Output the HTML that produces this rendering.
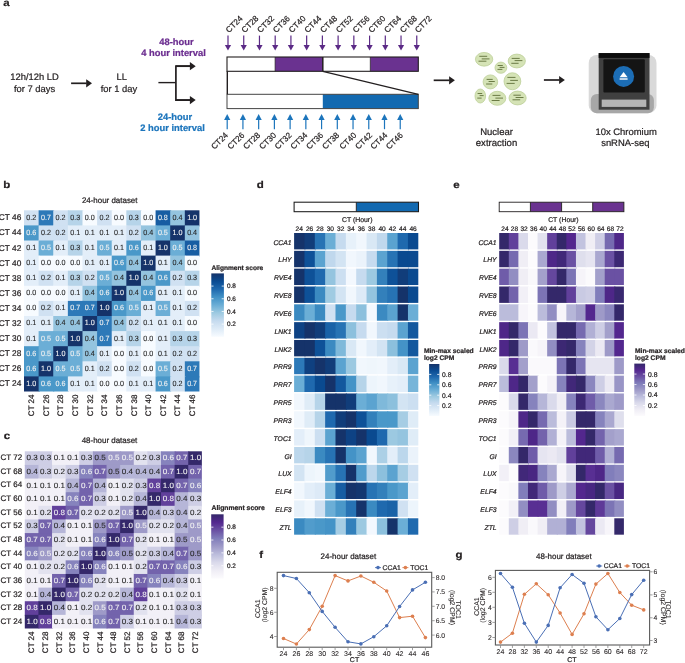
<!DOCTYPE html><html><head><meta charset="utf-8"><style>html,body{margin:0;padding:0;background:#fff;}svg{display:block;will-change:transform;}text{font-family:"Liberation Sans",sans-serif;text-rendering:geometricPrecision;}</style></head><body>
<svg width="685" height="663" viewBox="0 0 685 663">
<rect width="685" height="663" fill="#fff"/>
<defs><marker id="ah" viewBox="0 0 10 10" refX="10" refY="5" markerWidth="10" markerHeight="10" markerUnits="userSpaceOnUse" orient="auto"><path d="M0,0 L10,5 L0,10 z" fill="#231f20"/></marker></defs>
<text x="3.20" y="5.60" font-size="10" text-anchor="start" font-weight="bold" font-style="normal" fill="#231f20" stroke="#231f20" stroke-width="0.22" textLength="6.39" lengthAdjust="spacingAndGlyphs">a</text>
<text x="34.50" y="80.40" font-size="9.4" text-anchor="middle" font-weight="normal" font-style="normal" fill="#231f20" stroke="#231f20" stroke-width="0.22" >12h/12h LD</text>
<text x="34.50" y="91.60" font-size="9.4" text-anchor="middle" font-weight="normal" font-style="normal" fill="#231f20" stroke="#231f20" stroke-width="0.22" >for 7 days</text>
<text x="121.80" y="80.40" font-size="9.4" text-anchor="middle" font-weight="normal" font-style="normal" fill="#231f20" stroke="#231f20" stroke-width="0.22" >LL</text>
<text x="119.00" y="91.60" font-size="9.4" text-anchor="middle" font-weight="normal" font-style="normal" fill="#231f20" stroke="#231f20" stroke-width="0.22" >for 1 day</text>
<line x1="71.1" y1="83.3" x2="86.7" y2="83.3" stroke="#231f20" stroke-width="1.7"/>
<path d="M86.2,79.2 L92,83.3 L86.2,87.39999999999999 z" fill="#231f20"/>
<path d="M158.4,82.6 H175.9" stroke="#231f20" stroke-width="1.4" fill="none"/>
<path d="M191,66.2 H175.9 V100.1 H191" stroke="#231f20" stroke-width="1.7" fill="none" stroke-linejoin="miter"/>
<line x1="176" y1="66.2" x2="190.39999999999998" y2="66.2" stroke="#231f20" stroke-width="1.7"/>
<path d="M189.89999999999998,62.1 L195.7,66.2 L189.89999999999998,70.3 z" fill="#231f20"/>
<line x1="176" y1="100.1" x2="190.39999999999998" y2="100.1" stroke="#231f20" stroke-width="1.7"/>
<path d="M189.89999999999998,96.0 L195.7,100.1 L189.89999999999998,104.19999999999999 z" fill="#231f20"/>
<text x="176.40" y="44.80" font-size="9.4" text-anchor="middle" font-weight="bold" font-style="normal" fill="#6a2c8f" stroke="#6a2c8f" stroke-width="0.22" >48-hour</text>
<text x="173.50" y="56.20" font-size="9.4" text-anchor="middle" font-weight="bold" font-style="normal" fill="#6a2c8f" stroke="#6a2c8f" stroke-width="0.22" >4 hour interval</text>
<text x="175.00" y="119.60" font-size="9.4" text-anchor="middle" font-weight="bold" font-style="normal" fill="#1c75bc" stroke="#1c75bc" stroke-width="0.22" >24-hour</text>
<text x="172.50" y="130.90" font-size="9.4" text-anchor="middle" font-weight="bold" font-style="normal" fill="#1c75bc" stroke="#1c75bc" stroke-width="0.22" >2 hour interval</text>
<rect x="227.0" y="57" width="191.3" height="14.3" fill="#fff"/>
<rect x="275.1" y="57" width="47.69999999999999" height="14.3" fill="#6a3290"/>
<rect x="370.3" y="57" width="48.0" height="14.3" fill="#6a3290"/>
<rect x="227.0" y="57" width="191.3" height="14.3" fill="none" stroke="#231f20" stroke-width="1.1"/>
<line x1="322.8" y1="57" x2="322.8" y2="71.3" stroke="#231f20" stroke-width="1.5"/>
<line x1="275.1" y1="57" x2="275.1" y2="71.3" stroke="#231f20" stroke-width="0.7"/>
<line x1="370.3" y1="57" x2="370.3" y2="71.3" stroke="#231f20" stroke-width="0.7"/>
<rect x="322.8" y="94.3" width="95.5" height="14.3" fill="#1269b0"/>
<rect x="227.0" y="94.3" width="191.3" height="14.3" fill="none" stroke="#444" stroke-width="1"/>
<line x1="227.3" y1="71.3" x2="227.3" y2="94.3" stroke="#231f20" stroke-width="1.4"/>
<line x1="322.8" y1="71.3" x2="418.3" y2="94.3" stroke="#231f20" stroke-width="1.3"/>
<line x1="228.00" y1="35.6" x2="228.00" y2="46" stroke="#5b2a86" stroke-width="1.2"/>
<path d="M224.90,45 L231.10,45 L228.00,50.5 z" fill="#5b2a86"/>
<text x="229.10" y="33.20" font-size="8.2" text-anchor="start" font-weight="normal" font-style="normal" fill="#231f20" stroke="#231f20" stroke-width="0.22" transform="rotate(-45 229.10 33.2)">CT24</text>
<line x1="243.73" y1="35.6" x2="243.73" y2="46" stroke="#5b2a86" stroke-width="1.2"/>
<path d="M240.63,45 L246.83,45 L243.73,50.5 z" fill="#5b2a86"/>
<text x="244.83" y="33.20" font-size="8.2" text-anchor="start" font-weight="normal" font-style="normal" fill="#231f20" stroke="#231f20" stroke-width="0.22" transform="rotate(-45 244.83 33.2)">CT28</text>
<line x1="259.46" y1="35.6" x2="259.46" y2="46" stroke="#5b2a86" stroke-width="1.2"/>
<path d="M256.36,45 L262.56,45 L259.46,50.5 z" fill="#5b2a86"/>
<text x="260.56" y="33.20" font-size="8.2" text-anchor="start" font-weight="normal" font-style="normal" fill="#231f20" stroke="#231f20" stroke-width="0.22" transform="rotate(-45 260.56 33.2)">CT32</text>
<line x1="275.19" y1="35.6" x2="275.19" y2="46" stroke="#5b2a86" stroke-width="1.2"/>
<path d="M272.09,45 L278.29,45 L275.19,50.5 z" fill="#5b2a86"/>
<text x="276.29" y="33.20" font-size="8.2" text-anchor="start" font-weight="normal" font-style="normal" fill="#231f20" stroke="#231f20" stroke-width="0.22" transform="rotate(-45 276.29 33.2)">CT36</text>
<line x1="290.92" y1="35.6" x2="290.92" y2="46" stroke="#5b2a86" stroke-width="1.2"/>
<path d="M287.82,45 L294.02,45 L290.92,50.5 z" fill="#5b2a86"/>
<text x="292.02" y="33.20" font-size="8.2" text-anchor="start" font-weight="normal" font-style="normal" fill="#231f20" stroke="#231f20" stroke-width="0.22" transform="rotate(-45 292.02 33.2)">CT40</text>
<line x1="306.65" y1="35.6" x2="306.65" y2="46" stroke="#5b2a86" stroke-width="1.2"/>
<path d="M303.55,45 L309.75,45 L306.65,50.5 z" fill="#5b2a86"/>
<text x="307.75" y="33.20" font-size="8.2" text-anchor="start" font-weight="normal" font-style="normal" fill="#231f20" stroke="#231f20" stroke-width="0.22" transform="rotate(-45 307.75 33.2)">CT44</text>
<line x1="322.38" y1="35.6" x2="322.38" y2="46" stroke="#5b2a86" stroke-width="1.2"/>
<path d="M319.28,45 L325.48,45 L322.38,50.5 z" fill="#5b2a86"/>
<text x="323.48" y="33.20" font-size="8.2" text-anchor="start" font-weight="normal" font-style="normal" fill="#231f20" stroke="#231f20" stroke-width="0.22" transform="rotate(-45 323.48 33.2)">CT48</text>
<line x1="338.11" y1="35.6" x2="338.11" y2="46" stroke="#5b2a86" stroke-width="1.2"/>
<path d="M335.01,45 L341.21,45 L338.11,50.5 z" fill="#5b2a86"/>
<text x="339.21" y="33.20" font-size="8.2" text-anchor="start" font-weight="normal" font-style="normal" fill="#231f20" stroke="#231f20" stroke-width="0.22" transform="rotate(-45 339.21 33.2)">CT52</text>
<line x1="353.84" y1="35.6" x2="353.84" y2="46" stroke="#5b2a86" stroke-width="1.2"/>
<path d="M350.74,45 L356.94,45 L353.84,50.5 z" fill="#5b2a86"/>
<text x="356.04" y="33.20" font-size="8.2" text-anchor="start" font-weight="normal" font-style="normal" fill="#231f20" stroke="#231f20" stroke-width="0.22" transform="rotate(-45 356.04 33.2)">CT56</text>
<line x1="369.57" y1="35.6" x2="369.57" y2="46" stroke="#5b2a86" stroke-width="1.2"/>
<path d="M366.47,45 L372.67,45 L369.57,50.5 z" fill="#5b2a86"/>
<text x="371.77" y="33.20" font-size="8.2" text-anchor="start" font-weight="normal" font-style="normal" fill="#231f20" stroke="#231f20" stroke-width="0.22" transform="rotate(-45 371.77 33.2)">CT60</text>
<line x1="385.30" y1="35.6" x2="385.30" y2="46" stroke="#5b2a86" stroke-width="1.2"/>
<path d="M382.20,45 L388.40,45 L385.30,50.5 z" fill="#5b2a86"/>
<text x="387.50" y="33.20" font-size="8.2" text-anchor="start" font-weight="normal" font-style="normal" fill="#231f20" stroke="#231f20" stroke-width="0.22" transform="rotate(-45 387.50 33.2)">CT64</text>
<line x1="401.03" y1="35.6" x2="401.03" y2="46" stroke="#5b2a86" stroke-width="1.2"/>
<path d="M397.93,45 L404.13,45 L401.03,50.5 z" fill="#5b2a86"/>
<text x="403.23" y="33.20" font-size="8.2" text-anchor="start" font-weight="normal" font-style="normal" fill="#231f20" stroke="#231f20" stroke-width="0.22" transform="rotate(-45 403.23 33.2)">CT68</text>
<line x1="416.76" y1="35.6" x2="416.76" y2="46" stroke="#5b2a86" stroke-width="1.2"/>
<path d="M413.66,45 L419.86,45 L416.76,50.5 z" fill="#5b2a86"/>
<text x="418.16" y="33.20" font-size="8.2" text-anchor="start" font-weight="normal" font-style="normal" fill="#231f20" stroke="#231f20" stroke-width="0.22" transform="rotate(-45 418.16 33.2)">CT72</text>
<line x1="227.20" y1="119" x2="227.20" y2="129.2" stroke="#1c75bc" stroke-width="1.2"/>
<path d="M224.10,120 L230.30,120 L227.20,114.1 z" fill="#1c75bc"/>
<text x="228.60" y="135.70" font-size="8.2" text-anchor="end" font-weight="normal" font-style="normal" fill="#231f20" stroke="#231f20" stroke-width="0.22" transform="rotate(-45 228.60 135.7)">CT24</text>
<line x1="242.93" y1="119" x2="242.93" y2="129.2" stroke="#1c75bc" stroke-width="1.2"/>
<path d="M239.83,120 L246.03,120 L242.93,114.1 z" fill="#1c75bc"/>
<text x="245.03" y="135.70" font-size="8.2" text-anchor="end" font-weight="normal" font-style="normal" fill="#231f20" stroke="#231f20" stroke-width="0.22" transform="rotate(-45 245.03 135.7)">CT26</text>
<line x1="258.66" y1="119" x2="258.66" y2="129.2" stroke="#1c75bc" stroke-width="1.2"/>
<path d="M255.56,120 L261.76,120 L258.66,114.1 z" fill="#1c75bc"/>
<text x="260.76" y="135.70" font-size="8.2" text-anchor="end" font-weight="normal" font-style="normal" fill="#231f20" stroke="#231f20" stroke-width="0.22" transform="rotate(-45 260.76 135.7)">CT28</text>
<line x1="274.39" y1="119" x2="274.39" y2="129.2" stroke="#1c75bc" stroke-width="1.2"/>
<path d="M271.29,120 L277.49,120 L274.39,114.1 z" fill="#1c75bc"/>
<text x="276.79" y="135.70" font-size="8.2" text-anchor="end" font-weight="normal" font-style="normal" fill="#231f20" stroke="#231f20" stroke-width="0.22" transform="rotate(-45 276.79 135.7)">CT30</text>
<line x1="290.12" y1="119" x2="290.12" y2="129.2" stroke="#1c75bc" stroke-width="1.2"/>
<path d="M287.02,120 L293.22,120 L290.12,114.1 z" fill="#1c75bc"/>
<text x="292.12" y="135.70" font-size="8.2" text-anchor="end" font-weight="normal" font-style="normal" fill="#231f20" stroke="#231f20" stroke-width="0.22" transform="rotate(-45 292.12 135.7)">CT32</text>
<line x1="305.85" y1="119" x2="305.85" y2="129.2" stroke="#1c75bc" stroke-width="1.2"/>
<path d="M302.75,120 L308.95,120 L305.85,114.1 z" fill="#1c75bc"/>
<text x="307.95" y="135.70" font-size="8.2" text-anchor="end" font-weight="normal" font-style="normal" fill="#231f20" stroke="#231f20" stroke-width="0.22" transform="rotate(-45 307.95 135.7)">CT34</text>
<line x1="321.58" y1="119" x2="321.58" y2="129.2" stroke="#1c75bc" stroke-width="1.2"/>
<path d="M318.48,120 L324.68,120 L321.58,114.1 z" fill="#1c75bc"/>
<text x="323.78" y="135.70" font-size="8.2" text-anchor="end" font-weight="normal" font-style="normal" fill="#231f20" stroke="#231f20" stroke-width="0.22" transform="rotate(-45 323.78 135.7)">CT36</text>
<line x1="337.31" y1="119" x2="337.31" y2="129.2" stroke="#1c75bc" stroke-width="1.2"/>
<path d="M334.21,120 L340.41,120 L337.31,114.1 z" fill="#1c75bc"/>
<text x="339.71" y="135.70" font-size="8.2" text-anchor="end" font-weight="normal" font-style="normal" fill="#231f20" stroke="#231f20" stroke-width="0.22" transform="rotate(-45 339.71 135.7)">CT38</text>
<line x1="353.04" y1="119" x2="353.04" y2="129.2" stroke="#1c75bc" stroke-width="1.2"/>
<path d="M349.94,120 L356.14,120 L353.04,114.1 z" fill="#1c75bc"/>
<text x="357.04" y="135.70" font-size="8.2" text-anchor="end" font-weight="normal" font-style="normal" fill="#231f20" stroke="#231f20" stroke-width="0.22" transform="rotate(-45 357.04 135.7)">CT40</text>
<line x1="368.77" y1="119" x2="368.77" y2="129.2" stroke="#1c75bc" stroke-width="1.2"/>
<path d="M365.67,120 L371.87,120 L368.77,114.1 z" fill="#1c75bc"/>
<text x="372.67" y="135.70" font-size="8.2" text-anchor="end" font-weight="normal" font-style="normal" fill="#231f20" stroke="#231f20" stroke-width="0.22" transform="rotate(-45 372.67 135.7)">CT42</text>
<line x1="384.50" y1="119" x2="384.50" y2="129.2" stroke="#1c75bc" stroke-width="1.2"/>
<path d="M381.40,120 L387.60,120 L384.50,114.1 z" fill="#1c75bc"/>
<text x="387.90" y="135.70" font-size="8.2" text-anchor="end" font-weight="normal" font-style="normal" fill="#231f20" stroke="#231f20" stroke-width="0.22" transform="rotate(-45 387.90 135.7)">CT44</text>
<line x1="400.23" y1="119" x2="400.23" y2="129.2" stroke="#1c75bc" stroke-width="1.2"/>
<path d="M397.13,120 L403.33,120 L400.23,114.1 z" fill="#1c75bc"/>
<text x="403.43" y="135.70" font-size="8.2" text-anchor="end" font-weight="normal" font-style="normal" fill="#231f20" stroke="#231f20" stroke-width="0.22" transform="rotate(-45 403.43 135.7)">CT46</text>
<line x1="433.7" y1="80.3" x2="449.59999999999997" y2="80.3" stroke="#231f20" stroke-width="1.7"/>
<path d="M449.09999999999997,76.2 L454.9,80.3 L449.09999999999997,84.39999999999999 z" fill="#231f20"/>
<ellipse cx="484.1" cy="59.3" rx="8.66" ry="6.84" fill="#d5e3b6" stroke="#bccf98" stroke-width="0.8"/>
<ellipse cx="500.9" cy="67.7" rx="5.9" ry="5.6" fill="#d5e3b6" stroke="#bccf98" stroke-width="0.8"/>
<ellipse cx="516.8" cy="61" rx="8.6" ry="6.9" fill="#d5e3b6" stroke="#bccf98" stroke-width="0.8"/>
<ellipse cx="490.4" cy="81.9" rx="7.3" ry="7.0" fill="#d5e3b6" stroke="#bccf98" stroke-width="0.8"/>
<ellipse cx="512.4" cy="81.25" rx="8.4" ry="8.5" fill="#d5e3b6" stroke="#bccf98" stroke-width="0.8"/>
<ellipse cx="480.3" cy="96" rx="5.3" ry="7.0" fill="#d5e3b6" stroke="#bccf98" stroke-width="0.8"/>
<ellipse cx="497.3" cy="98.3" rx="8.5" ry="7.0" fill="#d5e3b6" stroke="#bccf98" stroke-width="0.8"/>
<ellipse cx="517.6" cy="98" rx="8.6" ry="6.9" fill="#d5e3b6" stroke="#bccf98" stroke-width="0.8"/>
<line x1="479.29999999999995" y1="56.3" x2="487.20000000000005" y2="56.3" stroke="#65753f" stroke-width="0.95"/>
<line x1="481.7" y1="58.9" x2="489.5" y2="58.9" stroke="#65753f" stroke-width="0.95"/>
<line x1="478.5" y1="61.2" x2="486.40000000000003" y2="61.2" stroke="#65753f" stroke-width="0.95"/>
<line x1="497.7" y1="65.5" x2="502.8" y2="65.5" stroke="#65753f" stroke-width="0.95"/>
<line x1="499.59999999999997" y1="67.4" x2="504.5" y2="67.4" stroke="#65753f" stroke-width="0.95"/>
<line x1="497.5" y1="69.4" x2="502.40000000000003" y2="69.4" stroke="#65753f" stroke-width="0.95"/>
<line x1="511.7" y1="58.4" x2="519.7" y2="58.4" stroke="#65753f" stroke-width="0.95"/>
<line x1="514.6" y1="60.6" x2="522.4" y2="60.6" stroke="#65753f" stroke-width="0.95"/>
<line x1="511.29999999999995" y1="63.3" x2="518.6" y2="63.3" stroke="#65753f" stroke-width="0.95"/>
<line x1="486.59999999999997" y1="79.4" x2="492.70000000000005" y2="79.4" stroke="#65753f" stroke-width="0.95"/>
<line x1="488.59999999999997" y1="81.5" x2="494.8" y2="81.5" stroke="#65753f" stroke-width="0.95"/>
<line x1="486.09999999999997" y1="84.0" x2="492.3" y2="84.0" stroke="#65753f" stroke-width="0.95"/>
<line x1="507.4" y1="77.4" x2="515.5" y2="77.4" stroke="#65753f" stroke-width="0.95"/>
<line x1="510.2" y1="80.4" x2="517.9" y2="80.4" stroke="#65753f" stroke-width="0.95"/>
<line x1="506.59999999999997" y1="83.4" x2="514.7" y2="83.4" stroke="#65753f" stroke-width="0.95"/>
<line x1="477.59999999999997" y1="93.5" x2="482.20000000000005" y2="93.5" stroke="#65753f" stroke-width="0.95"/>
<line x1="479.59999999999997" y1="95.6" x2="483.6" y2="95.6" stroke="#65753f" stroke-width="0.95"/>
<line x1="477.29999999999995" y1="98.1" x2="481.6" y2="98.1" stroke="#65753f" stroke-width="0.95"/>
<line x1="492.5" y1="95.4" x2="500.5" y2="95.4" stroke="#65753f" stroke-width="0.95"/>
<line x1="495.4" y1="98.1" x2="503.0" y2="98.1" stroke="#65753f" stroke-width="0.95"/>
<line x1="491.7" y1="100.5" x2="499.6" y2="100.5" stroke="#65753f" stroke-width="0.95"/>
<line x1="513.4" y1="95.2" x2="520.8000000000001" y2="95.2" stroke="#65753f" stroke-width="0.95"/>
<line x1="515.6" y1="97.5" x2="523.5" y2="97.5" stroke="#65753f" stroke-width="0.95"/>
<line x1="512.5" y1="99.8" x2="520.2" y2="99.8" stroke="#65753f" stroke-width="0.95"/>
<text x="496.50" y="134.50" font-size="9.5" text-anchor="middle" font-weight="normal" font-style="normal" fill="#231f20" stroke="#231f20" stroke-width="0.22" >Nuclear</text>
<text x="496.50" y="145.60" font-size="9.55" text-anchor="middle" font-weight="normal" font-style="normal" fill="#231f20" stroke="#231f20" stroke-width="0.22" >extraction</text>
<line x1="543.9" y1="80.0" x2="559.6" y2="80.0" stroke="#231f20" stroke-width="1.7"/>
<path d="M559.1,75.9 L564.9,80.0 L559.1,84.1 z" fill="#231f20"/>
<rect x="588.7" y="54.9" width="67.8" height="58.3" rx="8" fill="#d9d9d9"/>
<rect x="590.8" y="94" width="63.1" height="19.2" rx="6" fill="#a7a7a7"/>
<rect x="598.7" y="53.1" width="50.8" height="56.6" fill="#404040"/>
<rect x="598.7" y="53.1" width="50.8" height="4.8" fill="#0d0d0d"/>
<rect x="603.4" y="59.3" width="41.4" height="33.3" rx="1" fill="#141414"/>
<circle cx="623.6" cy="76.4" r="10.5" fill="#1c6db5"/>
<path d="M619.6,77.3 L623.6,72.0 L627.6,77.3 z" fill="#fff"/><rect x="619.6" y="78.3" width="8" height="1.4" fill="#fff"/>
<rect x="601.7" y="99.6" width="44.6" height="7.3" fill="#b5b5b5"/>
<text x="626.10" y="134.70" font-size="9.45" text-anchor="middle" font-weight="normal" font-style="normal" fill="#231f20" stroke="#231f20" stroke-width="0.22" >10x Chromium</text>
<text x="625.30" y="145.50" font-size="9.45" text-anchor="middle" font-weight="normal" font-style="normal" fill="#231f20" stroke="#231f20" stroke-width="0.22" >snRNA-seq</text>
<text x="3.30" y="188.10" font-size="10" text-anchor="start" font-weight="bold" font-style="normal" fill="#231f20" stroke="#231f20" stroke-width="0.22" textLength="7.03" lengthAdjust="spacingAndGlyphs">b</text>
<text x="109.70" y="202.80" font-size="7.95" text-anchor="middle" font-weight="normal" font-style="normal" fill="#231f20" stroke="#231f20" stroke-width="0.22" >24-hour dataset</text>
<rect x="24.00" y="210.30" width="15.62" height="16.10" fill="#d0e1f2"/>
<rect x="38.62" y="210.30" width="15.62" height="16.10" fill="#2d79b8"/>
<rect x="53.24" y="210.30" width="15.62" height="16.10" fill="#d0e1f2"/>
<rect x="67.86" y="210.30" width="15.62" height="16.10" fill="#b6d4e9"/>
<rect x="82.48" y="210.30" width="15.62" height="16.10" fill="#f7fbff"/>
<rect x="97.10" y="210.30" width="15.62" height="16.10" fill="#d0e1f2"/>
<rect x="111.72" y="210.30" width="15.62" height="16.10" fill="#f7fbff"/>
<rect x="126.34" y="210.30" width="15.62" height="16.10" fill="#b6d4e9"/>
<rect x="140.96" y="210.30" width="15.62" height="16.10" fill="#f7fbff"/>
<rect x="155.58" y="210.30" width="15.62" height="16.10" fill="#175da3"/>
<rect x="170.20" y="210.30" width="15.62" height="16.10" fill="#94c4df"/>
<rect x="184.82" y="210.30" width="14.62" height="16.10" fill="#15336a"/>
<rect x="24.00" y="225.40" width="15.62" height="16.10" fill="#4a98c9"/>
<rect x="38.62" y="225.40" width="15.62" height="16.10" fill="#d0e1f2"/>
<rect x="53.24" y="225.40" width="15.62" height="16.10" fill="#d0e1f2"/>
<rect x="67.86" y="225.40" width="15.62" height="16.10" fill="#e3eef9"/>
<rect x="82.48" y="225.40" width="15.62" height="16.10" fill="#e3eef9"/>
<rect x="97.10" y="225.40" width="15.62" height="16.10" fill="#e3eef9"/>
<rect x="111.72" y="225.40" width="15.62" height="16.10" fill="#e3eef9"/>
<rect x="126.34" y="225.40" width="15.62" height="16.10" fill="#d0e1f2"/>
<rect x="140.96" y="225.40" width="15.62" height="16.10" fill="#94c4df"/>
<rect x="155.58" y="225.40" width="15.62" height="16.10" fill="#6baed6"/>
<rect x="170.20" y="225.40" width="15.62" height="16.10" fill="#15336a"/>
<rect x="184.82" y="225.40" width="14.62" height="16.10" fill="#94c4df"/>
<rect x="24.00" y="240.50" width="15.62" height="16.10" fill="#e3eef9"/>
<rect x="38.62" y="240.50" width="15.62" height="16.10" fill="#6baed6"/>
<rect x="53.24" y="240.50" width="15.62" height="16.10" fill="#e3eef9"/>
<rect x="67.86" y="240.50" width="15.62" height="16.10" fill="#b6d4e9"/>
<rect x="82.48" y="240.50" width="15.62" height="16.10" fill="#e3eef9"/>
<rect x="97.10" y="240.50" width="15.62" height="16.10" fill="#6baed6"/>
<rect x="111.72" y="240.50" width="15.62" height="16.10" fill="#e3eef9"/>
<rect x="126.34" y="240.50" width="15.62" height="16.10" fill="#4a98c9"/>
<rect x="140.96" y="240.50" width="15.62" height="16.10" fill="#e3eef9"/>
<rect x="155.58" y="240.50" width="15.62" height="16.10" fill="#15336a"/>
<rect x="170.20" y="240.50" width="15.62" height="16.10" fill="#6baed6"/>
<rect x="184.82" y="240.50" width="14.62" height="16.10" fill="#175da3"/>
<rect x="24.00" y="255.60" width="15.62" height="16.10" fill="#e3eef9"/>
<rect x="38.62" y="255.60" width="15.62" height="16.10" fill="#f7fbff"/>
<rect x="53.24" y="255.60" width="15.62" height="16.10" fill="#f7fbff"/>
<rect x="67.86" y="255.60" width="15.62" height="16.10" fill="#f7fbff"/>
<rect x="82.48" y="255.60" width="15.62" height="16.10" fill="#e3eef9"/>
<rect x="97.10" y="255.60" width="15.62" height="16.10" fill="#e3eef9"/>
<rect x="111.72" y="255.60" width="15.62" height="16.10" fill="#4a98c9"/>
<rect x="126.34" y="255.60" width="15.62" height="16.10" fill="#94c4df"/>
<rect x="140.96" y="255.60" width="15.62" height="16.10" fill="#15336a"/>
<rect x="155.58" y="255.60" width="15.62" height="16.10" fill="#e3eef9"/>
<rect x="170.20" y="255.60" width="15.62" height="16.10" fill="#94c4df"/>
<rect x="184.82" y="255.60" width="14.62" height="16.10" fill="#f7fbff"/>
<rect x="24.00" y="270.70" width="15.62" height="16.10" fill="#e3eef9"/>
<rect x="38.62" y="270.70" width="15.62" height="16.10" fill="#d0e1f2"/>
<rect x="53.24" y="270.70" width="15.62" height="16.10" fill="#e3eef9"/>
<rect x="67.86" y="270.70" width="15.62" height="16.10" fill="#b6d4e9"/>
<rect x="82.48" y="270.70" width="15.62" height="16.10" fill="#d0e1f2"/>
<rect x="97.10" y="270.70" width="15.62" height="16.10" fill="#6baed6"/>
<rect x="111.72" y="270.70" width="15.62" height="16.10" fill="#94c4df"/>
<rect x="126.34" y="270.70" width="15.62" height="16.10" fill="#15336a"/>
<rect x="140.96" y="270.70" width="15.62" height="16.10" fill="#94c4df"/>
<rect x="155.58" y="270.70" width="15.62" height="16.10" fill="#4a98c9"/>
<rect x="170.20" y="270.70" width="15.62" height="16.10" fill="#d0e1f2"/>
<rect x="184.82" y="270.70" width="14.62" height="16.10" fill="#b6d4e9"/>
<rect x="24.00" y="285.80" width="15.62" height="16.10" fill="#f7fbff"/>
<rect x="38.62" y="285.80" width="15.62" height="16.10" fill="#f7fbff"/>
<rect x="53.24" y="285.80" width="15.62" height="16.10" fill="#f7fbff"/>
<rect x="67.86" y="285.80" width="15.62" height="16.10" fill="#e3eef9"/>
<rect x="82.48" y="285.80" width="15.62" height="16.10" fill="#94c4df"/>
<rect x="97.10" y="285.80" width="15.62" height="16.10" fill="#4a98c9"/>
<rect x="111.72" y="285.80" width="15.62" height="16.10" fill="#15336a"/>
<rect x="126.34" y="285.80" width="15.62" height="16.10" fill="#94c4df"/>
<rect x="140.96" y="285.80" width="15.62" height="16.10" fill="#4a98c9"/>
<rect x="155.58" y="285.80" width="15.62" height="16.10" fill="#e3eef9"/>
<rect x="170.20" y="285.80" width="15.62" height="16.10" fill="#e3eef9"/>
<rect x="184.82" y="285.80" width="14.62" height="16.10" fill="#f7fbff"/>
<rect x="24.00" y="300.90" width="15.62" height="16.10" fill="#f7fbff"/>
<rect x="38.62" y="300.90" width="15.62" height="16.10" fill="#d0e1f2"/>
<rect x="53.24" y="300.90" width="15.62" height="16.10" fill="#e3eef9"/>
<rect x="67.86" y="300.90" width="15.62" height="16.10" fill="#2d79b8"/>
<rect x="82.48" y="300.90" width="15.62" height="16.10" fill="#2d79b8"/>
<rect x="97.10" y="300.90" width="15.62" height="16.10" fill="#15336a"/>
<rect x="111.72" y="300.90" width="15.62" height="16.10" fill="#4a98c9"/>
<rect x="126.34" y="300.90" width="15.62" height="16.10" fill="#6baed6"/>
<rect x="140.96" y="300.90" width="15.62" height="16.10" fill="#e3eef9"/>
<rect x="155.58" y="300.90" width="15.62" height="16.10" fill="#6baed6"/>
<rect x="170.20" y="300.90" width="15.62" height="16.10" fill="#e3eef9"/>
<rect x="184.82" y="300.90" width="14.62" height="16.10" fill="#d0e1f2"/>
<rect x="24.00" y="316.00" width="15.62" height="16.10" fill="#e3eef9"/>
<rect x="38.62" y="316.00" width="15.62" height="16.10" fill="#e3eef9"/>
<rect x="53.24" y="316.00" width="15.62" height="16.10" fill="#94c4df"/>
<rect x="67.86" y="316.00" width="15.62" height="16.10" fill="#94c4df"/>
<rect x="82.48" y="316.00" width="15.62" height="16.10" fill="#15336a"/>
<rect x="97.10" y="316.00" width="15.62" height="16.10" fill="#2d79b8"/>
<rect x="111.72" y="316.00" width="15.62" height="16.10" fill="#94c4df"/>
<rect x="126.34" y="316.00" width="15.62" height="16.10" fill="#d0e1f2"/>
<rect x="140.96" y="316.00" width="15.62" height="16.10" fill="#e3eef9"/>
<rect x="155.58" y="316.00" width="15.62" height="16.10" fill="#e3eef9"/>
<rect x="170.20" y="316.00" width="15.62" height="16.10" fill="#e3eef9"/>
<rect x="184.82" y="316.00" width="14.62" height="16.10" fill="#f7fbff"/>
<rect x="24.00" y="331.10" width="15.62" height="16.10" fill="#e3eef9"/>
<rect x="38.62" y="331.10" width="15.62" height="16.10" fill="#6baed6"/>
<rect x="53.24" y="331.10" width="15.62" height="16.10" fill="#6baed6"/>
<rect x="67.86" y="331.10" width="15.62" height="16.10" fill="#15336a"/>
<rect x="82.48" y="331.10" width="15.62" height="16.10" fill="#94c4df"/>
<rect x="97.10" y="331.10" width="15.62" height="16.10" fill="#2d79b8"/>
<rect x="111.72" y="331.10" width="15.62" height="16.10" fill="#e3eef9"/>
<rect x="126.34" y="331.10" width="15.62" height="16.10" fill="#b6d4e9"/>
<rect x="140.96" y="331.10" width="15.62" height="16.10" fill="#f7fbff"/>
<rect x="155.58" y="331.10" width="15.62" height="16.10" fill="#e3eef9"/>
<rect x="170.20" y="331.10" width="15.62" height="16.10" fill="#b6d4e9"/>
<rect x="184.82" y="331.10" width="14.62" height="16.10" fill="#b6d4e9"/>
<rect x="24.00" y="346.20" width="15.62" height="16.10" fill="#4a98c9"/>
<rect x="38.62" y="346.20" width="15.62" height="16.10" fill="#6baed6"/>
<rect x="53.24" y="346.20" width="15.62" height="16.10" fill="#15336a"/>
<rect x="67.86" y="346.20" width="15.62" height="16.10" fill="#6baed6"/>
<rect x="82.48" y="346.20" width="15.62" height="16.10" fill="#94c4df"/>
<rect x="97.10" y="346.20" width="15.62" height="16.10" fill="#e3eef9"/>
<rect x="111.72" y="346.20" width="15.62" height="16.10" fill="#f7fbff"/>
<rect x="126.34" y="346.20" width="15.62" height="16.10" fill="#e3eef9"/>
<rect x="140.96" y="346.20" width="15.62" height="16.10" fill="#f7fbff"/>
<rect x="155.58" y="346.20" width="15.62" height="16.10" fill="#e3eef9"/>
<rect x="170.20" y="346.20" width="15.62" height="16.10" fill="#d0e1f2"/>
<rect x="184.82" y="346.20" width="14.62" height="16.10" fill="#d0e1f2"/>
<rect x="24.00" y="361.30" width="15.62" height="16.10" fill="#4a98c9"/>
<rect x="38.62" y="361.30" width="15.62" height="16.10" fill="#15336a"/>
<rect x="53.24" y="361.30" width="15.62" height="16.10" fill="#6baed6"/>
<rect x="67.86" y="361.30" width="15.62" height="16.10" fill="#6baed6"/>
<rect x="82.48" y="361.30" width="15.62" height="16.10" fill="#e3eef9"/>
<rect x="97.10" y="361.30" width="15.62" height="16.10" fill="#d0e1f2"/>
<rect x="111.72" y="361.30" width="15.62" height="16.10" fill="#f7fbff"/>
<rect x="126.34" y="361.30" width="15.62" height="16.10" fill="#d0e1f2"/>
<rect x="140.96" y="361.30" width="15.62" height="16.10" fill="#f7fbff"/>
<rect x="155.58" y="361.30" width="15.62" height="16.10" fill="#6baed6"/>
<rect x="170.20" y="361.30" width="15.62" height="16.10" fill="#d0e1f2"/>
<rect x="184.82" y="361.30" width="14.62" height="16.10" fill="#2d79b8"/>
<rect x="24.00" y="376.40" width="15.62" height="15.10" fill="#15336a"/>
<rect x="38.62" y="376.40" width="15.62" height="15.10" fill="#4a98c9"/>
<rect x="53.24" y="376.40" width="15.62" height="15.10" fill="#4a98c9"/>
<rect x="67.86" y="376.40" width="15.62" height="15.10" fill="#e3eef9"/>
<rect x="82.48" y="376.40" width="15.62" height="15.10" fill="#e3eef9"/>
<rect x="97.10" y="376.40" width="15.62" height="15.10" fill="#f7fbff"/>
<rect x="111.72" y="376.40" width="15.62" height="15.10" fill="#f7fbff"/>
<rect x="126.34" y="376.40" width="15.62" height="15.10" fill="#e3eef9"/>
<rect x="140.96" y="376.40" width="15.62" height="15.10" fill="#e3eef9"/>
<rect x="155.58" y="376.40" width="15.62" height="15.10" fill="#4a98c9"/>
<rect x="170.20" y="376.40" width="15.62" height="15.10" fill="#d0e1f2"/>
<rect x="184.82" y="376.40" width="14.62" height="15.10" fill="#2d79b8"/>
<text x="31.31" y="219.75" font-size="7.6" text-anchor="middle" font-weight="normal" font-style="normal" fill="#262626" stroke="#262626" stroke-width="0.1" textLength="10.0" lengthAdjust="spacingAndGlyphs">0.2</text>
<text x="45.93" y="219.75" font-size="7.6" text-anchor="middle" font-weight="normal" font-style="normal" fill="#f2f2f2" stroke="#f2f2f2" stroke-width="0.1" textLength="10.0" lengthAdjust="spacingAndGlyphs">0.7</text>
<text x="60.55" y="219.75" font-size="7.6" text-anchor="middle" font-weight="normal" font-style="normal" fill="#262626" stroke="#262626" stroke-width="0.1" textLength="10.0" lengthAdjust="spacingAndGlyphs">0.2</text>
<text x="75.17" y="219.75" font-size="7.6" text-anchor="middle" font-weight="normal" font-style="normal" fill="#262626" stroke="#262626" stroke-width="0.1" textLength="10.0" lengthAdjust="spacingAndGlyphs">0.3</text>
<text x="89.79" y="219.75" font-size="7.6" text-anchor="middle" font-weight="normal" font-style="normal" fill="#262626" stroke="#262626" stroke-width="0.1" textLength="10.0" lengthAdjust="spacingAndGlyphs">0.0</text>
<text x="104.41" y="219.75" font-size="7.6" text-anchor="middle" font-weight="normal" font-style="normal" fill="#262626" stroke="#262626" stroke-width="0.1" textLength="10.0" lengthAdjust="spacingAndGlyphs">0.2</text>
<text x="119.03" y="219.75" font-size="7.6" text-anchor="middle" font-weight="normal" font-style="normal" fill="#262626" stroke="#262626" stroke-width="0.1" textLength="10.0" lengthAdjust="spacingAndGlyphs">0.0</text>
<text x="133.65" y="219.75" font-size="7.6" text-anchor="middle" font-weight="normal" font-style="normal" fill="#262626" stroke="#262626" stroke-width="0.1" textLength="10.0" lengthAdjust="spacingAndGlyphs">0.3</text>
<text x="148.27" y="219.75" font-size="7.6" text-anchor="middle" font-weight="normal" font-style="normal" fill="#262626" stroke="#262626" stroke-width="0.1" textLength="10.0" lengthAdjust="spacingAndGlyphs">0.0</text>
<text x="162.89" y="219.75" font-size="7.6" text-anchor="middle" font-weight="normal" font-style="normal" fill="#f2f2f2" stroke="#f2f2f2" stroke-width="0.1" textLength="10.0" lengthAdjust="spacingAndGlyphs">0.8</text>
<text x="177.51" y="219.75" font-size="7.6" text-anchor="middle" font-weight="normal" font-style="normal" fill="#262626" stroke="#262626" stroke-width="0.1" textLength="10.0" lengthAdjust="spacingAndGlyphs">0.4</text>
<text x="192.13" y="219.75" font-size="7.6" text-anchor="middle" font-weight="normal" font-style="normal" fill="#f2f2f2" stroke="#f2f2f2" stroke-width="0.1" textLength="10.0" lengthAdjust="spacingAndGlyphs">1.0</text>
<text x="31.31" y="234.85" font-size="7.6" text-anchor="middle" font-weight="normal" font-style="normal" fill="#f2f2f2" stroke="#f2f2f2" stroke-width="0.1" textLength="10.0" lengthAdjust="spacingAndGlyphs">0.6</text>
<text x="45.93" y="234.85" font-size="7.6" text-anchor="middle" font-weight="normal" font-style="normal" fill="#262626" stroke="#262626" stroke-width="0.1" textLength="10.0" lengthAdjust="spacingAndGlyphs">0.2</text>
<text x="60.55" y="234.85" font-size="7.6" text-anchor="middle" font-weight="normal" font-style="normal" fill="#262626" stroke="#262626" stroke-width="0.1" textLength="10.0" lengthAdjust="spacingAndGlyphs">0.2</text>
<text x="75.17" y="234.85" font-size="7.6" text-anchor="middle" font-weight="normal" font-style="normal" fill="#262626" stroke="#262626" stroke-width="0.1" textLength="10.0" lengthAdjust="spacingAndGlyphs">0.1</text>
<text x="89.79" y="234.85" font-size="7.6" text-anchor="middle" font-weight="normal" font-style="normal" fill="#262626" stroke="#262626" stroke-width="0.1" textLength="10.0" lengthAdjust="spacingAndGlyphs">0.1</text>
<text x="104.41" y="234.85" font-size="7.6" text-anchor="middle" font-weight="normal" font-style="normal" fill="#262626" stroke="#262626" stroke-width="0.1" textLength="10.0" lengthAdjust="spacingAndGlyphs">0.1</text>
<text x="119.03" y="234.85" font-size="7.6" text-anchor="middle" font-weight="normal" font-style="normal" fill="#262626" stroke="#262626" stroke-width="0.1" textLength="10.0" lengthAdjust="spacingAndGlyphs">0.1</text>
<text x="133.65" y="234.85" font-size="7.6" text-anchor="middle" font-weight="normal" font-style="normal" fill="#262626" stroke="#262626" stroke-width="0.1" textLength="10.0" lengthAdjust="spacingAndGlyphs">0.2</text>
<text x="148.27" y="234.85" font-size="7.6" text-anchor="middle" font-weight="normal" font-style="normal" fill="#262626" stroke="#262626" stroke-width="0.1" textLength="10.0" lengthAdjust="spacingAndGlyphs">0.4</text>
<text x="162.89" y="234.85" font-size="7.6" text-anchor="middle" font-weight="normal" font-style="normal" fill="#f2f2f2" stroke="#f2f2f2" stroke-width="0.1" textLength="10.0" lengthAdjust="spacingAndGlyphs">0.5</text>
<text x="177.51" y="234.85" font-size="7.6" text-anchor="middle" font-weight="normal" font-style="normal" fill="#f2f2f2" stroke="#f2f2f2" stroke-width="0.1" textLength="10.0" lengthAdjust="spacingAndGlyphs">1.0</text>
<text x="192.13" y="234.85" font-size="7.6" text-anchor="middle" font-weight="normal" font-style="normal" fill="#262626" stroke="#262626" stroke-width="0.1" textLength="10.0" lengthAdjust="spacingAndGlyphs">0.4</text>
<text x="31.31" y="249.95" font-size="7.6" text-anchor="middle" font-weight="normal" font-style="normal" fill="#262626" stroke="#262626" stroke-width="0.1" textLength="10.0" lengthAdjust="spacingAndGlyphs">0.1</text>
<text x="45.93" y="249.95" font-size="7.6" text-anchor="middle" font-weight="normal" font-style="normal" fill="#f2f2f2" stroke="#f2f2f2" stroke-width="0.1" textLength="10.0" lengthAdjust="spacingAndGlyphs">0.5</text>
<text x="60.55" y="249.95" font-size="7.6" text-anchor="middle" font-weight="normal" font-style="normal" fill="#262626" stroke="#262626" stroke-width="0.1" textLength="10.0" lengthAdjust="spacingAndGlyphs">0.1</text>
<text x="75.17" y="249.95" font-size="7.6" text-anchor="middle" font-weight="normal" font-style="normal" fill="#262626" stroke="#262626" stroke-width="0.1" textLength="10.0" lengthAdjust="spacingAndGlyphs">0.3</text>
<text x="89.79" y="249.95" font-size="7.6" text-anchor="middle" font-weight="normal" font-style="normal" fill="#262626" stroke="#262626" stroke-width="0.1" textLength="10.0" lengthAdjust="spacingAndGlyphs">0.1</text>
<text x="104.41" y="249.95" font-size="7.6" text-anchor="middle" font-weight="normal" font-style="normal" fill="#f2f2f2" stroke="#f2f2f2" stroke-width="0.1" textLength="10.0" lengthAdjust="spacingAndGlyphs">0.5</text>
<text x="119.03" y="249.95" font-size="7.6" text-anchor="middle" font-weight="normal" font-style="normal" fill="#262626" stroke="#262626" stroke-width="0.1" textLength="10.0" lengthAdjust="spacingAndGlyphs">0.1</text>
<text x="133.65" y="249.95" font-size="7.6" text-anchor="middle" font-weight="normal" font-style="normal" fill="#f2f2f2" stroke="#f2f2f2" stroke-width="0.1" textLength="10.0" lengthAdjust="spacingAndGlyphs">0.6</text>
<text x="148.27" y="249.95" font-size="7.6" text-anchor="middle" font-weight="normal" font-style="normal" fill="#262626" stroke="#262626" stroke-width="0.1" textLength="10.0" lengthAdjust="spacingAndGlyphs">0.1</text>
<text x="162.89" y="249.95" font-size="7.6" text-anchor="middle" font-weight="normal" font-style="normal" fill="#f2f2f2" stroke="#f2f2f2" stroke-width="0.1" textLength="10.0" lengthAdjust="spacingAndGlyphs">1.0</text>
<text x="177.51" y="249.95" font-size="7.6" text-anchor="middle" font-weight="normal" font-style="normal" fill="#f2f2f2" stroke="#f2f2f2" stroke-width="0.1" textLength="10.0" lengthAdjust="spacingAndGlyphs">0.5</text>
<text x="192.13" y="249.95" font-size="7.6" text-anchor="middle" font-weight="normal" font-style="normal" fill="#f2f2f2" stroke="#f2f2f2" stroke-width="0.1" textLength="10.0" lengthAdjust="spacingAndGlyphs">0.8</text>
<text x="31.31" y="265.05" font-size="7.6" text-anchor="middle" font-weight="normal" font-style="normal" fill="#262626" stroke="#262626" stroke-width="0.1" textLength="10.0" lengthAdjust="spacingAndGlyphs">0.1</text>
<text x="45.93" y="265.05" font-size="7.6" text-anchor="middle" font-weight="normal" font-style="normal" fill="#262626" stroke="#262626" stroke-width="0.1" textLength="10.0" lengthAdjust="spacingAndGlyphs">0.0</text>
<text x="60.55" y="265.05" font-size="7.6" text-anchor="middle" font-weight="normal" font-style="normal" fill="#262626" stroke="#262626" stroke-width="0.1" textLength="10.0" lengthAdjust="spacingAndGlyphs">0.0</text>
<text x="75.17" y="265.05" font-size="7.6" text-anchor="middle" font-weight="normal" font-style="normal" fill="#262626" stroke="#262626" stroke-width="0.1" textLength="10.0" lengthAdjust="spacingAndGlyphs">0.0</text>
<text x="89.79" y="265.05" font-size="7.6" text-anchor="middle" font-weight="normal" font-style="normal" fill="#262626" stroke="#262626" stroke-width="0.1" textLength="10.0" lengthAdjust="spacingAndGlyphs">0.1</text>
<text x="104.41" y="265.05" font-size="7.6" text-anchor="middle" font-weight="normal" font-style="normal" fill="#262626" stroke="#262626" stroke-width="0.1" textLength="10.0" lengthAdjust="spacingAndGlyphs">0.1</text>
<text x="119.03" y="265.05" font-size="7.6" text-anchor="middle" font-weight="normal" font-style="normal" fill="#f2f2f2" stroke="#f2f2f2" stroke-width="0.1" textLength="10.0" lengthAdjust="spacingAndGlyphs">0.6</text>
<text x="133.65" y="265.05" font-size="7.6" text-anchor="middle" font-weight="normal" font-style="normal" fill="#262626" stroke="#262626" stroke-width="0.1" textLength="10.0" lengthAdjust="spacingAndGlyphs">0.4</text>
<text x="148.27" y="265.05" font-size="7.6" text-anchor="middle" font-weight="normal" font-style="normal" fill="#f2f2f2" stroke="#f2f2f2" stroke-width="0.1" textLength="10.0" lengthAdjust="spacingAndGlyphs">1.0</text>
<text x="162.89" y="265.05" font-size="7.6" text-anchor="middle" font-weight="normal" font-style="normal" fill="#262626" stroke="#262626" stroke-width="0.1" textLength="10.0" lengthAdjust="spacingAndGlyphs">0.1</text>
<text x="177.51" y="265.05" font-size="7.6" text-anchor="middle" font-weight="normal" font-style="normal" fill="#262626" stroke="#262626" stroke-width="0.1" textLength="10.0" lengthAdjust="spacingAndGlyphs">0.4</text>
<text x="192.13" y="265.05" font-size="7.6" text-anchor="middle" font-weight="normal" font-style="normal" fill="#262626" stroke="#262626" stroke-width="0.1" textLength="10.0" lengthAdjust="spacingAndGlyphs">0.0</text>
<text x="31.31" y="280.15" font-size="7.6" text-anchor="middle" font-weight="normal" font-style="normal" fill="#262626" stroke="#262626" stroke-width="0.1" textLength="10.0" lengthAdjust="spacingAndGlyphs">0.1</text>
<text x="45.93" y="280.15" font-size="7.6" text-anchor="middle" font-weight="normal" font-style="normal" fill="#262626" stroke="#262626" stroke-width="0.1" textLength="10.0" lengthAdjust="spacingAndGlyphs">0.2</text>
<text x="60.55" y="280.15" font-size="7.6" text-anchor="middle" font-weight="normal" font-style="normal" fill="#262626" stroke="#262626" stroke-width="0.1" textLength="10.0" lengthAdjust="spacingAndGlyphs">0.1</text>
<text x="75.17" y="280.15" font-size="7.6" text-anchor="middle" font-weight="normal" font-style="normal" fill="#262626" stroke="#262626" stroke-width="0.1" textLength="10.0" lengthAdjust="spacingAndGlyphs">0.3</text>
<text x="89.79" y="280.15" font-size="7.6" text-anchor="middle" font-weight="normal" font-style="normal" fill="#262626" stroke="#262626" stroke-width="0.1" textLength="10.0" lengthAdjust="spacingAndGlyphs">0.2</text>
<text x="104.41" y="280.15" font-size="7.6" text-anchor="middle" font-weight="normal" font-style="normal" fill="#f2f2f2" stroke="#f2f2f2" stroke-width="0.1" textLength="10.0" lengthAdjust="spacingAndGlyphs">0.5</text>
<text x="119.03" y="280.15" font-size="7.6" text-anchor="middle" font-weight="normal" font-style="normal" fill="#262626" stroke="#262626" stroke-width="0.1" textLength="10.0" lengthAdjust="spacingAndGlyphs">0.4</text>
<text x="133.65" y="280.15" font-size="7.6" text-anchor="middle" font-weight="normal" font-style="normal" fill="#f2f2f2" stroke="#f2f2f2" stroke-width="0.1" textLength="10.0" lengthAdjust="spacingAndGlyphs">1.0</text>
<text x="148.27" y="280.15" font-size="7.6" text-anchor="middle" font-weight="normal" font-style="normal" fill="#262626" stroke="#262626" stroke-width="0.1" textLength="10.0" lengthAdjust="spacingAndGlyphs">0.4</text>
<text x="162.89" y="280.15" font-size="7.6" text-anchor="middle" font-weight="normal" font-style="normal" fill="#f2f2f2" stroke="#f2f2f2" stroke-width="0.1" textLength="10.0" lengthAdjust="spacingAndGlyphs">0.6</text>
<text x="177.51" y="280.15" font-size="7.6" text-anchor="middle" font-weight="normal" font-style="normal" fill="#262626" stroke="#262626" stroke-width="0.1" textLength="10.0" lengthAdjust="spacingAndGlyphs">0.2</text>
<text x="192.13" y="280.15" font-size="7.6" text-anchor="middle" font-weight="normal" font-style="normal" fill="#262626" stroke="#262626" stroke-width="0.1" textLength="10.0" lengthAdjust="spacingAndGlyphs">0.3</text>
<text x="31.31" y="295.25" font-size="7.6" text-anchor="middle" font-weight="normal" font-style="normal" fill="#262626" stroke="#262626" stroke-width="0.1" textLength="10.0" lengthAdjust="spacingAndGlyphs">0.0</text>
<text x="45.93" y="295.25" font-size="7.6" text-anchor="middle" font-weight="normal" font-style="normal" fill="#262626" stroke="#262626" stroke-width="0.1" textLength="10.0" lengthAdjust="spacingAndGlyphs">0.0</text>
<text x="60.55" y="295.25" font-size="7.6" text-anchor="middle" font-weight="normal" font-style="normal" fill="#262626" stroke="#262626" stroke-width="0.1" textLength="10.0" lengthAdjust="spacingAndGlyphs">0.0</text>
<text x="75.17" y="295.25" font-size="7.6" text-anchor="middle" font-weight="normal" font-style="normal" fill="#262626" stroke="#262626" stroke-width="0.1" textLength="10.0" lengthAdjust="spacingAndGlyphs">0.1</text>
<text x="89.79" y="295.25" font-size="7.6" text-anchor="middle" font-weight="normal" font-style="normal" fill="#262626" stroke="#262626" stroke-width="0.1" textLength="10.0" lengthAdjust="spacingAndGlyphs">0.4</text>
<text x="104.41" y="295.25" font-size="7.6" text-anchor="middle" font-weight="normal" font-style="normal" fill="#f2f2f2" stroke="#f2f2f2" stroke-width="0.1" textLength="10.0" lengthAdjust="spacingAndGlyphs">0.6</text>
<text x="119.03" y="295.25" font-size="7.6" text-anchor="middle" font-weight="normal" font-style="normal" fill="#f2f2f2" stroke="#f2f2f2" stroke-width="0.1" textLength="10.0" lengthAdjust="spacingAndGlyphs">1.0</text>
<text x="133.65" y="295.25" font-size="7.6" text-anchor="middle" font-weight="normal" font-style="normal" fill="#262626" stroke="#262626" stroke-width="0.1" textLength="10.0" lengthAdjust="spacingAndGlyphs">0.4</text>
<text x="148.27" y="295.25" font-size="7.6" text-anchor="middle" font-weight="normal" font-style="normal" fill="#f2f2f2" stroke="#f2f2f2" stroke-width="0.1" textLength="10.0" lengthAdjust="spacingAndGlyphs">0.6</text>
<text x="162.89" y="295.25" font-size="7.6" text-anchor="middle" font-weight="normal" font-style="normal" fill="#262626" stroke="#262626" stroke-width="0.1" textLength="10.0" lengthAdjust="spacingAndGlyphs">0.1</text>
<text x="177.51" y="295.25" font-size="7.6" text-anchor="middle" font-weight="normal" font-style="normal" fill="#262626" stroke="#262626" stroke-width="0.1" textLength="10.0" lengthAdjust="spacingAndGlyphs">0.1</text>
<text x="192.13" y="295.25" font-size="7.6" text-anchor="middle" font-weight="normal" font-style="normal" fill="#262626" stroke="#262626" stroke-width="0.1" textLength="10.0" lengthAdjust="spacingAndGlyphs">0.0</text>
<text x="31.31" y="310.35" font-size="7.6" text-anchor="middle" font-weight="normal" font-style="normal" fill="#262626" stroke="#262626" stroke-width="0.1" textLength="10.0" lengthAdjust="spacingAndGlyphs">0.0</text>
<text x="45.93" y="310.35" font-size="7.6" text-anchor="middle" font-weight="normal" font-style="normal" fill="#262626" stroke="#262626" stroke-width="0.1" textLength="10.0" lengthAdjust="spacingAndGlyphs">0.2</text>
<text x="60.55" y="310.35" font-size="7.6" text-anchor="middle" font-weight="normal" font-style="normal" fill="#262626" stroke="#262626" stroke-width="0.1" textLength="10.0" lengthAdjust="spacingAndGlyphs">0.1</text>
<text x="75.17" y="310.35" font-size="7.6" text-anchor="middle" font-weight="normal" font-style="normal" fill="#f2f2f2" stroke="#f2f2f2" stroke-width="0.1" textLength="10.0" lengthAdjust="spacingAndGlyphs">0.7</text>
<text x="89.79" y="310.35" font-size="7.6" text-anchor="middle" font-weight="normal" font-style="normal" fill="#f2f2f2" stroke="#f2f2f2" stroke-width="0.1" textLength="10.0" lengthAdjust="spacingAndGlyphs">0.7</text>
<text x="104.41" y="310.35" font-size="7.6" text-anchor="middle" font-weight="normal" font-style="normal" fill="#f2f2f2" stroke="#f2f2f2" stroke-width="0.1" textLength="10.0" lengthAdjust="spacingAndGlyphs">1.0</text>
<text x="119.03" y="310.35" font-size="7.6" text-anchor="middle" font-weight="normal" font-style="normal" fill="#f2f2f2" stroke="#f2f2f2" stroke-width="0.1" textLength="10.0" lengthAdjust="spacingAndGlyphs">0.6</text>
<text x="133.65" y="310.35" font-size="7.6" text-anchor="middle" font-weight="normal" font-style="normal" fill="#f2f2f2" stroke="#f2f2f2" stroke-width="0.1" textLength="10.0" lengthAdjust="spacingAndGlyphs">0.5</text>
<text x="148.27" y="310.35" font-size="7.6" text-anchor="middle" font-weight="normal" font-style="normal" fill="#262626" stroke="#262626" stroke-width="0.1" textLength="10.0" lengthAdjust="spacingAndGlyphs">0.1</text>
<text x="162.89" y="310.35" font-size="7.6" text-anchor="middle" font-weight="normal" font-style="normal" fill="#f2f2f2" stroke="#f2f2f2" stroke-width="0.1" textLength="10.0" lengthAdjust="spacingAndGlyphs">0.5</text>
<text x="177.51" y="310.35" font-size="7.6" text-anchor="middle" font-weight="normal" font-style="normal" fill="#262626" stroke="#262626" stroke-width="0.1" textLength="10.0" lengthAdjust="spacingAndGlyphs">0.1</text>
<text x="192.13" y="310.35" font-size="7.6" text-anchor="middle" font-weight="normal" font-style="normal" fill="#262626" stroke="#262626" stroke-width="0.1" textLength="10.0" lengthAdjust="spacingAndGlyphs">0.2</text>
<text x="31.31" y="325.45" font-size="7.6" text-anchor="middle" font-weight="normal" font-style="normal" fill="#262626" stroke="#262626" stroke-width="0.1" textLength="10.0" lengthAdjust="spacingAndGlyphs">0.1</text>
<text x="45.93" y="325.45" font-size="7.6" text-anchor="middle" font-weight="normal" font-style="normal" fill="#262626" stroke="#262626" stroke-width="0.1" textLength="10.0" lengthAdjust="spacingAndGlyphs">0.1</text>
<text x="60.55" y="325.45" font-size="7.6" text-anchor="middle" font-weight="normal" font-style="normal" fill="#262626" stroke="#262626" stroke-width="0.1" textLength="10.0" lengthAdjust="spacingAndGlyphs">0.4</text>
<text x="75.17" y="325.45" font-size="7.6" text-anchor="middle" font-weight="normal" font-style="normal" fill="#262626" stroke="#262626" stroke-width="0.1" textLength="10.0" lengthAdjust="spacingAndGlyphs">0.4</text>
<text x="89.79" y="325.45" font-size="7.6" text-anchor="middle" font-weight="normal" font-style="normal" fill="#f2f2f2" stroke="#f2f2f2" stroke-width="0.1" textLength="10.0" lengthAdjust="spacingAndGlyphs">1.0</text>
<text x="104.41" y="325.45" font-size="7.6" text-anchor="middle" font-weight="normal" font-style="normal" fill="#f2f2f2" stroke="#f2f2f2" stroke-width="0.1" textLength="10.0" lengthAdjust="spacingAndGlyphs">0.7</text>
<text x="119.03" y="325.45" font-size="7.6" text-anchor="middle" font-weight="normal" font-style="normal" fill="#262626" stroke="#262626" stroke-width="0.1" textLength="10.0" lengthAdjust="spacingAndGlyphs">0.4</text>
<text x="133.65" y="325.45" font-size="7.6" text-anchor="middle" font-weight="normal" font-style="normal" fill="#262626" stroke="#262626" stroke-width="0.1" textLength="10.0" lengthAdjust="spacingAndGlyphs">0.2</text>
<text x="148.27" y="325.45" font-size="7.6" text-anchor="middle" font-weight="normal" font-style="normal" fill="#262626" stroke="#262626" stroke-width="0.1" textLength="10.0" lengthAdjust="spacingAndGlyphs">0.1</text>
<text x="162.89" y="325.45" font-size="7.6" text-anchor="middle" font-weight="normal" font-style="normal" fill="#262626" stroke="#262626" stroke-width="0.1" textLength="10.0" lengthAdjust="spacingAndGlyphs">0.1</text>
<text x="177.51" y="325.45" font-size="7.6" text-anchor="middle" font-weight="normal" font-style="normal" fill="#262626" stroke="#262626" stroke-width="0.1" textLength="10.0" lengthAdjust="spacingAndGlyphs">0.1</text>
<text x="192.13" y="325.45" font-size="7.6" text-anchor="middle" font-weight="normal" font-style="normal" fill="#262626" stroke="#262626" stroke-width="0.1" textLength="10.0" lengthAdjust="spacingAndGlyphs">0.0</text>
<text x="31.31" y="340.55" font-size="7.6" text-anchor="middle" font-weight="normal" font-style="normal" fill="#262626" stroke="#262626" stroke-width="0.1" textLength="10.0" lengthAdjust="spacingAndGlyphs">0.1</text>
<text x="45.93" y="340.55" font-size="7.6" text-anchor="middle" font-weight="normal" font-style="normal" fill="#f2f2f2" stroke="#f2f2f2" stroke-width="0.1" textLength="10.0" lengthAdjust="spacingAndGlyphs">0.5</text>
<text x="60.55" y="340.55" font-size="7.6" text-anchor="middle" font-weight="normal" font-style="normal" fill="#f2f2f2" stroke="#f2f2f2" stroke-width="0.1" textLength="10.0" lengthAdjust="spacingAndGlyphs">0.5</text>
<text x="75.17" y="340.55" font-size="7.6" text-anchor="middle" font-weight="normal" font-style="normal" fill="#f2f2f2" stroke="#f2f2f2" stroke-width="0.1" textLength="10.0" lengthAdjust="spacingAndGlyphs">1.0</text>
<text x="89.79" y="340.55" font-size="7.6" text-anchor="middle" font-weight="normal" font-style="normal" fill="#262626" stroke="#262626" stroke-width="0.1" textLength="10.0" lengthAdjust="spacingAndGlyphs">0.4</text>
<text x="104.41" y="340.55" font-size="7.6" text-anchor="middle" font-weight="normal" font-style="normal" fill="#f2f2f2" stroke="#f2f2f2" stroke-width="0.1" textLength="10.0" lengthAdjust="spacingAndGlyphs">0.7</text>
<text x="119.03" y="340.55" font-size="7.6" text-anchor="middle" font-weight="normal" font-style="normal" fill="#262626" stroke="#262626" stroke-width="0.1" textLength="10.0" lengthAdjust="spacingAndGlyphs">0.1</text>
<text x="133.65" y="340.55" font-size="7.6" text-anchor="middle" font-weight="normal" font-style="normal" fill="#262626" stroke="#262626" stroke-width="0.1" textLength="10.0" lengthAdjust="spacingAndGlyphs">0.3</text>
<text x="148.27" y="340.55" font-size="7.6" text-anchor="middle" font-weight="normal" font-style="normal" fill="#262626" stroke="#262626" stroke-width="0.1" textLength="10.0" lengthAdjust="spacingAndGlyphs">0.0</text>
<text x="162.89" y="340.55" font-size="7.6" text-anchor="middle" font-weight="normal" font-style="normal" fill="#262626" stroke="#262626" stroke-width="0.1" textLength="10.0" lengthAdjust="spacingAndGlyphs">0.1</text>
<text x="177.51" y="340.55" font-size="7.6" text-anchor="middle" font-weight="normal" font-style="normal" fill="#262626" stroke="#262626" stroke-width="0.1" textLength="10.0" lengthAdjust="spacingAndGlyphs">0.3</text>
<text x="192.13" y="340.55" font-size="7.6" text-anchor="middle" font-weight="normal" font-style="normal" fill="#262626" stroke="#262626" stroke-width="0.1" textLength="10.0" lengthAdjust="spacingAndGlyphs">0.3</text>
<text x="31.31" y="355.65" font-size="7.6" text-anchor="middle" font-weight="normal" font-style="normal" fill="#f2f2f2" stroke="#f2f2f2" stroke-width="0.1" textLength="10.0" lengthAdjust="spacingAndGlyphs">0.6</text>
<text x="45.93" y="355.65" font-size="7.6" text-anchor="middle" font-weight="normal" font-style="normal" fill="#f2f2f2" stroke="#f2f2f2" stroke-width="0.1" textLength="10.0" lengthAdjust="spacingAndGlyphs">0.5</text>
<text x="60.55" y="355.65" font-size="7.6" text-anchor="middle" font-weight="normal" font-style="normal" fill="#f2f2f2" stroke="#f2f2f2" stroke-width="0.1" textLength="10.0" lengthAdjust="spacingAndGlyphs">1.0</text>
<text x="75.17" y="355.65" font-size="7.6" text-anchor="middle" font-weight="normal" font-style="normal" fill="#f2f2f2" stroke="#f2f2f2" stroke-width="0.1" textLength="10.0" lengthAdjust="spacingAndGlyphs">0.5</text>
<text x="89.79" y="355.65" font-size="7.6" text-anchor="middle" font-weight="normal" font-style="normal" fill="#262626" stroke="#262626" stroke-width="0.1" textLength="10.0" lengthAdjust="spacingAndGlyphs">0.4</text>
<text x="104.41" y="355.65" font-size="7.6" text-anchor="middle" font-weight="normal" font-style="normal" fill="#262626" stroke="#262626" stroke-width="0.1" textLength="10.0" lengthAdjust="spacingAndGlyphs">0.1</text>
<text x="119.03" y="355.65" font-size="7.6" text-anchor="middle" font-weight="normal" font-style="normal" fill="#262626" stroke="#262626" stroke-width="0.1" textLength="10.0" lengthAdjust="spacingAndGlyphs">0.0</text>
<text x="133.65" y="355.65" font-size="7.6" text-anchor="middle" font-weight="normal" font-style="normal" fill="#262626" stroke="#262626" stroke-width="0.1" textLength="10.0" lengthAdjust="spacingAndGlyphs">0.1</text>
<text x="148.27" y="355.65" font-size="7.6" text-anchor="middle" font-weight="normal" font-style="normal" fill="#262626" stroke="#262626" stroke-width="0.1" textLength="10.0" lengthAdjust="spacingAndGlyphs">0.0</text>
<text x="162.89" y="355.65" font-size="7.6" text-anchor="middle" font-weight="normal" font-style="normal" fill="#262626" stroke="#262626" stroke-width="0.1" textLength="10.0" lengthAdjust="spacingAndGlyphs">0.1</text>
<text x="177.51" y="355.65" font-size="7.6" text-anchor="middle" font-weight="normal" font-style="normal" fill="#262626" stroke="#262626" stroke-width="0.1" textLength="10.0" lengthAdjust="spacingAndGlyphs">0.2</text>
<text x="192.13" y="355.65" font-size="7.6" text-anchor="middle" font-weight="normal" font-style="normal" fill="#262626" stroke="#262626" stroke-width="0.1" textLength="10.0" lengthAdjust="spacingAndGlyphs">0.2</text>
<text x="31.31" y="370.75" font-size="7.6" text-anchor="middle" font-weight="normal" font-style="normal" fill="#f2f2f2" stroke="#f2f2f2" stroke-width="0.1" textLength="10.0" lengthAdjust="spacingAndGlyphs">0.6</text>
<text x="45.93" y="370.75" font-size="7.6" text-anchor="middle" font-weight="normal" font-style="normal" fill="#f2f2f2" stroke="#f2f2f2" stroke-width="0.1" textLength="10.0" lengthAdjust="spacingAndGlyphs">1.0</text>
<text x="60.55" y="370.75" font-size="7.6" text-anchor="middle" font-weight="normal" font-style="normal" fill="#f2f2f2" stroke="#f2f2f2" stroke-width="0.1" textLength="10.0" lengthAdjust="spacingAndGlyphs">0.5</text>
<text x="75.17" y="370.75" font-size="7.6" text-anchor="middle" font-weight="normal" font-style="normal" fill="#f2f2f2" stroke="#f2f2f2" stroke-width="0.1" textLength="10.0" lengthAdjust="spacingAndGlyphs">0.5</text>
<text x="89.79" y="370.75" font-size="7.6" text-anchor="middle" font-weight="normal" font-style="normal" fill="#262626" stroke="#262626" stroke-width="0.1" textLength="10.0" lengthAdjust="spacingAndGlyphs">0.1</text>
<text x="104.41" y="370.75" font-size="7.6" text-anchor="middle" font-weight="normal" font-style="normal" fill="#262626" stroke="#262626" stroke-width="0.1" textLength="10.0" lengthAdjust="spacingAndGlyphs">0.2</text>
<text x="119.03" y="370.75" font-size="7.6" text-anchor="middle" font-weight="normal" font-style="normal" fill="#262626" stroke="#262626" stroke-width="0.1" textLength="10.0" lengthAdjust="spacingAndGlyphs">0.0</text>
<text x="133.65" y="370.75" font-size="7.6" text-anchor="middle" font-weight="normal" font-style="normal" fill="#262626" stroke="#262626" stroke-width="0.1" textLength="10.0" lengthAdjust="spacingAndGlyphs">0.2</text>
<text x="148.27" y="370.75" font-size="7.6" text-anchor="middle" font-weight="normal" font-style="normal" fill="#262626" stroke="#262626" stroke-width="0.1" textLength="10.0" lengthAdjust="spacingAndGlyphs">0.0</text>
<text x="162.89" y="370.75" font-size="7.6" text-anchor="middle" font-weight="normal" font-style="normal" fill="#f2f2f2" stroke="#f2f2f2" stroke-width="0.1" textLength="10.0" lengthAdjust="spacingAndGlyphs">0.5</text>
<text x="177.51" y="370.75" font-size="7.6" text-anchor="middle" font-weight="normal" font-style="normal" fill="#262626" stroke="#262626" stroke-width="0.1" textLength="10.0" lengthAdjust="spacingAndGlyphs">0.2</text>
<text x="192.13" y="370.75" font-size="7.6" text-anchor="middle" font-weight="normal" font-style="normal" fill="#f2f2f2" stroke="#f2f2f2" stroke-width="0.1" textLength="10.0" lengthAdjust="spacingAndGlyphs">0.7</text>
<text x="31.31" y="385.85" font-size="7.6" text-anchor="middle" font-weight="normal" font-style="normal" fill="#f2f2f2" stroke="#f2f2f2" stroke-width="0.1" textLength="10.0" lengthAdjust="spacingAndGlyphs">1.0</text>
<text x="45.93" y="385.85" font-size="7.6" text-anchor="middle" font-weight="normal" font-style="normal" fill="#f2f2f2" stroke="#f2f2f2" stroke-width="0.1" textLength="10.0" lengthAdjust="spacingAndGlyphs">0.6</text>
<text x="60.55" y="385.85" font-size="7.6" text-anchor="middle" font-weight="normal" font-style="normal" fill="#f2f2f2" stroke="#f2f2f2" stroke-width="0.1" textLength="10.0" lengthAdjust="spacingAndGlyphs">0.6</text>
<text x="75.17" y="385.85" font-size="7.6" text-anchor="middle" font-weight="normal" font-style="normal" fill="#262626" stroke="#262626" stroke-width="0.1" textLength="10.0" lengthAdjust="spacingAndGlyphs">0.1</text>
<text x="89.79" y="385.85" font-size="7.6" text-anchor="middle" font-weight="normal" font-style="normal" fill="#262626" stroke="#262626" stroke-width="0.1" textLength="10.0" lengthAdjust="spacingAndGlyphs">0.1</text>
<text x="104.41" y="385.85" font-size="7.6" text-anchor="middle" font-weight="normal" font-style="normal" fill="#262626" stroke="#262626" stroke-width="0.1" textLength="10.0" lengthAdjust="spacingAndGlyphs">0.0</text>
<text x="119.03" y="385.85" font-size="7.6" text-anchor="middle" font-weight="normal" font-style="normal" fill="#262626" stroke="#262626" stroke-width="0.1" textLength="10.0" lengthAdjust="spacingAndGlyphs">0.0</text>
<text x="133.65" y="385.85" font-size="7.6" text-anchor="middle" font-weight="normal" font-style="normal" fill="#262626" stroke="#262626" stroke-width="0.1" textLength="10.0" lengthAdjust="spacingAndGlyphs">0.1</text>
<text x="148.27" y="385.85" font-size="7.6" text-anchor="middle" font-weight="normal" font-style="normal" fill="#262626" stroke="#262626" stroke-width="0.1" textLength="10.0" lengthAdjust="spacingAndGlyphs">0.1</text>
<text x="162.89" y="385.85" font-size="7.6" text-anchor="middle" font-weight="normal" font-style="normal" fill="#f2f2f2" stroke="#f2f2f2" stroke-width="0.1" textLength="10.0" lengthAdjust="spacingAndGlyphs">0.6</text>
<text x="177.51" y="385.85" font-size="7.6" text-anchor="middle" font-weight="normal" font-style="normal" fill="#262626" stroke="#262626" stroke-width="0.1" textLength="10.0" lengthAdjust="spacingAndGlyphs">0.2</text>
<text x="192.13" y="385.85" font-size="7.6" text-anchor="middle" font-weight="normal" font-style="normal" fill="#f2f2f2" stroke="#f2f2f2" stroke-width="0.1" textLength="10.0" lengthAdjust="spacingAndGlyphs">0.7</text>
<text x="21.30" y="220.30" font-size="8.3" text-anchor="end" font-weight="normal" font-style="normal" fill="#231f20" stroke="#231f20" stroke-width="0.22" >CT 46</text>
<text x="21.30" y="235.40" font-size="8.3" text-anchor="end" font-weight="normal" font-style="normal" fill="#231f20" stroke="#231f20" stroke-width="0.22" >CT 44</text>
<text x="21.30" y="250.50" font-size="8.3" text-anchor="end" font-weight="normal" font-style="normal" fill="#231f20" stroke="#231f20" stroke-width="0.22" >CT 42</text>
<text x="21.30" y="265.60" font-size="8.3" text-anchor="end" font-weight="normal" font-style="normal" fill="#231f20" stroke="#231f20" stroke-width="0.22" >CT 40</text>
<text x="21.30" y="280.70" font-size="8.3" text-anchor="end" font-weight="normal" font-style="normal" fill="#231f20" stroke="#231f20" stroke-width="0.22" >CT 38</text>
<text x="21.30" y="295.80" font-size="8.3" text-anchor="end" font-weight="normal" font-style="normal" fill="#231f20" stroke="#231f20" stroke-width="0.22" >CT 36</text>
<text x="21.30" y="310.90" font-size="8.3" text-anchor="end" font-weight="normal" font-style="normal" fill="#231f20" stroke="#231f20" stroke-width="0.22" >CT 34</text>
<text x="21.30" y="326.00" font-size="8.3" text-anchor="end" font-weight="normal" font-style="normal" fill="#231f20" stroke="#231f20" stroke-width="0.22" >CT 32</text>
<text x="21.30" y="341.10" font-size="8.3" text-anchor="end" font-weight="normal" font-style="normal" fill="#231f20" stroke="#231f20" stroke-width="0.22" >CT 30</text>
<text x="21.30" y="356.20" font-size="8.3" text-anchor="end" font-weight="normal" font-style="normal" fill="#231f20" stroke="#231f20" stroke-width="0.22" >CT 28</text>
<text x="21.30" y="371.30" font-size="8.3" text-anchor="end" font-weight="normal" font-style="normal" fill="#231f20" stroke="#231f20" stroke-width="0.22" >CT 26</text>
<text x="21.30" y="386.40" font-size="8.3" text-anchor="end" font-weight="normal" font-style="normal" fill="#231f20" stroke="#231f20" stroke-width="0.22" >CT 24</text>
<text x="34.19" y="394.50" font-size="8.0" text-anchor="end" font-weight="normal" font-style="normal" fill="#231f20" stroke="#231f20" stroke-width="0.22" transform="rotate(-90 34.19 394.50)">CT 24</text>
<text x="48.81" y="394.50" font-size="8.0" text-anchor="end" font-weight="normal" font-style="normal" fill="#231f20" stroke="#231f20" stroke-width="0.22" transform="rotate(-90 48.81 394.50)">CT 26</text>
<text x="63.43" y="394.50" font-size="8.0" text-anchor="end" font-weight="normal" font-style="normal" fill="#231f20" stroke="#231f20" stroke-width="0.22" transform="rotate(-90 63.43 394.50)">CT 28</text>
<text x="78.05" y="394.50" font-size="8.0" text-anchor="end" font-weight="normal" font-style="normal" fill="#231f20" stroke="#231f20" stroke-width="0.22" transform="rotate(-90 78.05 394.50)">CT 30</text>
<text x="92.67" y="394.50" font-size="8.0" text-anchor="end" font-weight="normal" font-style="normal" fill="#231f20" stroke="#231f20" stroke-width="0.22" transform="rotate(-90 92.67 394.50)">CT 32</text>
<text x="107.29" y="394.50" font-size="8.0" text-anchor="end" font-weight="normal" font-style="normal" fill="#231f20" stroke="#231f20" stroke-width="0.22" transform="rotate(-90 107.29 394.50)">CT 34</text>
<text x="121.91" y="394.50" font-size="8.0" text-anchor="end" font-weight="normal" font-style="normal" fill="#231f20" stroke="#231f20" stroke-width="0.22" transform="rotate(-90 121.91 394.50)">CT 36</text>
<text x="136.53" y="394.50" font-size="8.0" text-anchor="end" font-weight="normal" font-style="normal" fill="#231f20" stroke="#231f20" stroke-width="0.22" transform="rotate(-90 136.53 394.50)">CT 38</text>
<text x="151.15" y="394.50" font-size="8.0" text-anchor="end" font-weight="normal" font-style="normal" fill="#231f20" stroke="#231f20" stroke-width="0.22" transform="rotate(-90 151.15 394.50)">CT 40</text>
<text x="165.77" y="394.50" font-size="8.0" text-anchor="end" font-weight="normal" font-style="normal" fill="#231f20" stroke="#231f20" stroke-width="0.22" transform="rotate(-90 165.77 394.50)">CT 42</text>
<text x="180.39" y="394.50" font-size="8.0" text-anchor="end" font-weight="normal" font-style="normal" fill="#231f20" stroke="#231f20" stroke-width="0.22" transform="rotate(-90 180.39 394.50)">CT 44</text>
<text x="195.01" y="394.50" font-size="8.0" text-anchor="end" font-weight="normal" font-style="normal" fill="#231f20" stroke="#231f20" stroke-width="0.22" transform="rotate(-90 195.01 394.50)">CT 46</text>
<defs><linearGradient id="gb" x1="0" y1="0" x2="0" y2="1"><stop offset="0.000" stop-color="#15336a"/><stop offset="0.125" stop-color="#0a4b92"/><stop offset="0.250" stop-color="#1f69ae"/><stop offset="0.375" stop-color="#4292c6"/><stop offset="0.500" stop-color="#6baed6"/><stop offset="0.625" stop-color="#9ecae1"/><stop offset="0.750" stop-color="#c6dbef"/><stop offset="0.875" stop-color="#deebf7"/><stop offset="1.000" stop-color="#f7fbff"/></linearGradient></defs>
<rect x="211.3" y="273.4" width="12.6" height="63.4" fill="url(#gb)"/>
<line x1="211.3" y1="324.12" x2="213.5" y2="324.12" stroke="#fff" stroke-width="0.8"/>
<line x1="221.70000000000002" y1="324.12" x2="223.9" y2="324.12" stroke="#fff" stroke-width="0.8"/>
<text x="227.00" y="326.42" font-size="6.4" text-anchor="start" font-weight="normal" font-style="normal" fill="#231f20" stroke="#231f20" stroke-width="0.22" >0.2</text>
<line x1="211.3" y1="311.44" x2="213.5" y2="311.44" stroke="#fff" stroke-width="0.8"/>
<line x1="221.70000000000002" y1="311.44" x2="223.9" y2="311.44" stroke="#fff" stroke-width="0.8"/>
<text x="227.00" y="313.74" font-size="6.4" text-anchor="start" font-weight="normal" font-style="normal" fill="#231f20" stroke="#231f20" stroke-width="0.22" >0.4</text>
<line x1="211.3" y1="298.76" x2="213.5" y2="298.76" stroke="#fff" stroke-width="0.8"/>
<line x1="221.70000000000002" y1="298.76" x2="223.9" y2="298.76" stroke="#fff" stroke-width="0.8"/>
<text x="227.00" y="301.06" font-size="6.4" text-anchor="start" font-weight="normal" font-style="normal" fill="#231f20" stroke="#231f20" stroke-width="0.22" >0.6</text>
<line x1="211.3" y1="286.08" x2="213.5" y2="286.08" stroke="#fff" stroke-width="0.8"/>
<line x1="221.70000000000002" y1="286.08" x2="223.9" y2="286.08" stroke="#fff" stroke-width="0.8"/>
<text x="227.00" y="288.38" font-size="6.4" text-anchor="start" font-weight="normal" font-style="normal" fill="#231f20" stroke="#231f20" stroke-width="0.22" >0.8</text>
<text x="211.50" y="269.60" font-size="6.6" text-anchor="start" font-weight="bold" font-style="normal" fill="#231f20" stroke="#231f20" stroke-width="0.22" >Alignment score</text>
<text x="3.80" y="438.70" font-size="10" text-anchor="start" font-weight="bold" font-style="normal" fill="#231f20" stroke="#231f20" stroke-width="0.22" textLength="6.39" lengthAdjust="spacingAndGlyphs">c</text>
<text x="109.50" y="442.90" font-size="7.95" text-anchor="middle" font-weight="normal" font-style="normal" fill="#231f20" stroke="#231f20" stroke-width="0.22" >48-hour dataset</text>
<rect x="24.80" y="451.30" width="14.62" height="14.63" fill="#cecee5"/>
<rect x="38.42" y="451.30" width="14.62" height="14.63" fill="#cecee5"/>
<rect x="52.04" y="451.30" width="14.62" height="14.63" fill="#f2f0f7"/>
<rect x="65.66" y="451.30" width="14.62" height="14.63" fill="#f2f0f7"/>
<rect x="79.28" y="451.30" width="14.62" height="14.63" fill="#cecee5"/>
<rect x="92.90" y="451.30" width="14.62" height="14.63" fill="#9e9ac8"/>
<rect x="106.52" y="451.30" width="14.62" height="14.63" fill="#9e9ac8"/>
<rect x="120.14" y="451.30" width="14.62" height="14.63" fill="#9e9ac8"/>
<rect x="133.76" y="451.30" width="14.62" height="14.63" fill="#e2e2ef"/>
<rect x="147.38" y="451.30" width="14.62" height="14.63" fill="#cecee5"/>
<rect x="161.00" y="451.30" width="14.62" height="14.63" fill="#8683bd"/>
<rect x="174.62" y="451.30" width="14.62" height="14.63" fill="#7363ac"/>
<rect x="188.24" y="451.30" width="13.62" height="14.63" fill="#34286a"/>
<rect x="24.80" y="464.93" width="14.62" height="14.63" fill="#b6b6d8"/>
<rect x="38.42" y="464.93" width="14.62" height="14.63" fill="#cecee5"/>
<rect x="52.04" y="464.93" width="14.62" height="14.63" fill="#e2e2ef"/>
<rect x="65.66" y="464.93" width="14.62" height="14.63" fill="#cecee5"/>
<rect x="79.28" y="464.93" width="14.62" height="14.63" fill="#8683bd"/>
<rect x="92.90" y="464.93" width="14.62" height="14.63" fill="#7363ac"/>
<rect x="106.52" y="464.93" width="14.62" height="14.63" fill="#9e9ac8"/>
<rect x="120.14" y="464.93" width="14.62" height="14.63" fill="#b6b6d8"/>
<rect x="133.76" y="464.93" width="14.62" height="14.63" fill="#b6b6d8"/>
<rect x="147.38" y="464.93" width="14.62" height="14.63" fill="#b6b6d8"/>
<rect x="161.00" y="464.93" width="14.62" height="14.63" fill="#7363ac"/>
<rect x="174.62" y="464.93" width="14.62" height="14.63" fill="#34286a"/>
<rect x="188.24" y="464.93" width="13.62" height="14.63" fill="#7363ac"/>
<rect x="24.80" y="478.56" width="14.62" height="14.63" fill="#f2f0f7"/>
<rect x="38.42" y="478.56" width="14.62" height="14.63" fill="#f2f0f7"/>
<rect x="52.04" y="478.56" width="14.62" height="14.63" fill="#f2f0f7"/>
<rect x="65.66" y="478.56" width="14.62" height="14.63" fill="#b6b6d8"/>
<rect x="79.28" y="478.56" width="14.62" height="14.63" fill="#7363ac"/>
<rect x="92.90" y="478.56" width="14.62" height="14.63" fill="#b6b6d8"/>
<rect x="106.52" y="478.56" width="14.62" height="14.63" fill="#f2f0f7"/>
<rect x="120.14" y="478.56" width="14.62" height="14.63" fill="#e2e2ef"/>
<rect x="133.76" y="478.56" width="14.62" height="14.63" fill="#cecee5"/>
<rect x="147.38" y="478.56" width="14.62" height="14.63" fill="#61409b"/>
<rect x="161.00" y="478.56" width="14.62" height="14.63" fill="#34286a"/>
<rect x="174.62" y="478.56" width="14.62" height="14.63" fill="#7363ac"/>
<rect x="188.24" y="478.56" width="13.62" height="14.63" fill="#8683bd"/>
<rect x="24.80" y="492.19" width="14.62" height="14.63" fill="#f2f0f7"/>
<rect x="38.42" y="492.19" width="14.62" height="14.63" fill="#f2f0f7"/>
<rect x="52.04" y="492.19" width="14.62" height="14.63" fill="#f2f0f7"/>
<rect x="65.66" y="492.19" width="14.62" height="14.63" fill="#8683bd"/>
<rect x="79.28" y="492.19" width="14.62" height="14.63" fill="#7363ac"/>
<rect x="92.90" y="492.19" width="14.62" height="14.63" fill="#cecee5"/>
<rect x="106.52" y="492.19" width="14.62" height="14.63" fill="#f2f0f7"/>
<rect x="120.14" y="492.19" width="14.62" height="14.63" fill="#e2e2ef"/>
<rect x="133.76" y="492.19" width="14.62" height="14.63" fill="#b6b6d8"/>
<rect x="147.38" y="492.19" width="14.62" height="14.63" fill="#34286a"/>
<rect x="161.00" y="492.19" width="14.62" height="14.63" fill="#61409b"/>
<rect x="174.62" y="492.19" width="14.62" height="14.63" fill="#b6b6d8"/>
<rect x="188.24" y="492.19" width="13.62" height="14.63" fill="#cecee5"/>
<rect x="24.80" y="505.82" width="14.62" height="14.63" fill="#f2f0f7"/>
<rect x="38.42" y="505.82" width="14.62" height="14.63" fill="#e2e2ef"/>
<rect x="52.04" y="505.82" width="14.62" height="14.63" fill="#61409b"/>
<rect x="65.66" y="505.82" width="14.62" height="14.63" fill="#7363ac"/>
<rect x="79.28" y="505.82" width="14.62" height="14.63" fill="#e2e2ef"/>
<rect x="92.90" y="505.82" width="14.62" height="14.63" fill="#e2e2ef"/>
<rect x="106.52" y="505.82" width="14.62" height="14.63" fill="#e2e2ef"/>
<rect x="120.14" y="505.82" width="14.62" height="14.63" fill="#9e9ac8"/>
<rect x="133.76" y="505.82" width="14.62" height="14.63" fill="#34286a"/>
<rect x="147.38" y="505.82" width="14.62" height="14.63" fill="#b6b6d8"/>
<rect x="161.00" y="505.82" width="14.62" height="14.63" fill="#cecee5"/>
<rect x="174.62" y="505.82" width="14.62" height="14.63" fill="#b6b6d8"/>
<rect x="188.24" y="505.82" width="13.62" height="14.63" fill="#e2e2ef"/>
<rect x="24.80" y="519.45" width="14.62" height="14.63" fill="#cecee5"/>
<rect x="38.42" y="519.45" width="14.62" height="14.63" fill="#7363ac"/>
<rect x="52.04" y="519.45" width="14.62" height="14.63" fill="#b6b6d8"/>
<rect x="65.66" y="519.45" width="14.62" height="14.63" fill="#f2f0f7"/>
<rect x="79.28" y="519.45" width="14.62" height="14.63" fill="#f2f0f7"/>
<rect x="92.90" y="519.45" width="14.62" height="14.63" fill="#9e9ac8"/>
<rect x="106.52" y="519.45" width="14.62" height="14.63" fill="#7363ac"/>
<rect x="120.14" y="519.45" width="14.62" height="14.63" fill="#34286a"/>
<rect x="133.76" y="519.45" width="14.62" height="14.63" fill="#9e9ac8"/>
<rect x="147.38" y="519.45" width="14.62" height="14.63" fill="#e2e2ef"/>
<rect x="161.00" y="519.45" width="14.62" height="14.63" fill="#e2e2ef"/>
<rect x="174.62" y="519.45" width="14.62" height="14.63" fill="#b6b6d8"/>
<rect x="188.24" y="519.45" width="13.62" height="14.63" fill="#9e9ac8"/>
<rect x="24.80" y="533.08" width="14.62" height="14.63" fill="#7363ac"/>
<rect x="38.42" y="533.08" width="14.62" height="14.63" fill="#7363ac"/>
<rect x="52.04" y="533.08" width="14.62" height="14.63" fill="#e2e2ef"/>
<rect x="65.66" y="533.08" width="14.62" height="14.63" fill="#f2f0f7"/>
<rect x="79.28" y="533.08" width="14.62" height="14.63" fill="#f2f0f7"/>
<rect x="92.90" y="533.08" width="14.62" height="14.63" fill="#8683bd"/>
<rect x="106.52" y="533.08" width="14.62" height="14.63" fill="#34286a"/>
<rect x="120.14" y="533.08" width="14.62" height="14.63" fill="#7363ac"/>
<rect x="133.76" y="533.08" width="14.62" height="14.63" fill="#e2e2ef"/>
<rect x="147.38" y="533.08" width="14.62" height="14.63" fill="#f2f0f7"/>
<rect x="161.00" y="533.08" width="14.62" height="14.63" fill="#f2f0f7"/>
<rect x="174.62" y="533.08" width="14.62" height="14.63" fill="#9e9ac8"/>
<rect x="188.24" y="533.08" width="13.62" height="14.63" fill="#9e9ac8"/>
<rect x="24.80" y="546.71" width="14.62" height="14.63" fill="#8683bd"/>
<rect x="38.42" y="546.71" width="14.62" height="14.63" fill="#9e9ac8"/>
<rect x="52.04" y="546.71" width="14.62" height="14.63" fill="#e2e2ef"/>
<rect x="65.66" y="546.71" width="14.62" height="14.63" fill="#e2e2ef"/>
<rect x="79.28" y="546.71" width="14.62" height="14.63" fill="#8683bd"/>
<rect x="92.90" y="546.71" width="14.62" height="14.63" fill="#34286a"/>
<rect x="106.52" y="546.71" width="14.62" height="14.63" fill="#8683bd"/>
<rect x="120.14" y="546.71" width="14.62" height="14.63" fill="#9e9ac8"/>
<rect x="133.76" y="546.71" width="14.62" height="14.63" fill="#e2e2ef"/>
<rect x="147.38" y="546.71" width="14.62" height="14.63" fill="#cecee5"/>
<rect x="161.00" y="546.71" width="14.62" height="14.63" fill="#b6b6d8"/>
<rect x="174.62" y="546.71" width="14.62" height="14.63" fill="#7363ac"/>
<rect x="188.24" y="546.71" width="13.62" height="14.63" fill="#9e9ac8"/>
<rect x="24.80" y="560.34" width="14.62" height="14.63" fill="#f2f0f7"/>
<rect x="38.42" y="560.34" width="14.62" height="14.63" fill="#e2e2ef"/>
<rect x="52.04" y="560.34" width="14.62" height="14.63" fill="#e2e2ef"/>
<rect x="65.66" y="560.34" width="14.62" height="14.63" fill="#8683bd"/>
<rect x="79.28" y="560.34" width="14.62" height="14.63" fill="#34286a"/>
<rect x="92.90" y="560.34" width="14.62" height="14.63" fill="#8683bd"/>
<rect x="106.52" y="560.34" width="14.62" height="14.63" fill="#f2f0f7"/>
<rect x="120.14" y="560.34" width="14.62" height="14.63" fill="#f2f0f7"/>
<rect x="133.76" y="560.34" width="14.62" height="14.63" fill="#e2e2ef"/>
<rect x="147.38" y="560.34" width="14.62" height="14.63" fill="#7363ac"/>
<rect x="161.00" y="560.34" width="14.62" height="14.63" fill="#7363ac"/>
<rect x="174.62" y="560.34" width="14.62" height="14.63" fill="#8683bd"/>
<rect x="188.24" y="560.34" width="13.62" height="14.63" fill="#cecee5"/>
<rect x="24.80" y="573.97" width="14.62" height="14.63" fill="#f2f0f7"/>
<rect x="38.42" y="573.97" width="14.62" height="14.63" fill="#f2f0f7"/>
<rect x="52.04" y="573.97" width="14.62" height="14.63" fill="#7363ac"/>
<rect x="65.66" y="573.97" width="14.62" height="14.63" fill="#34286a"/>
<rect x="79.28" y="573.97" width="14.62" height="14.63" fill="#8683bd"/>
<rect x="92.90" y="573.97" width="14.62" height="14.63" fill="#e2e2ef"/>
<rect x="106.52" y="573.97" width="14.62" height="14.63" fill="#f2f0f7"/>
<rect x="120.14" y="573.97" width="14.62" height="14.63" fill="#f2f0f7"/>
<rect x="133.76" y="573.97" width="14.62" height="14.63" fill="#7363ac"/>
<rect x="147.38" y="573.97" width="14.62" height="14.63" fill="#8683bd"/>
<rect x="161.00" y="573.97" width="14.62" height="14.63" fill="#b6b6d8"/>
<rect x="174.62" y="573.97" width="14.62" height="14.63" fill="#cecee5"/>
<rect x="188.24" y="573.97" width="13.62" height="14.63" fill="#f2f0f7"/>
<rect x="24.80" y="587.60" width="14.62" height="14.63" fill="#f2f0f7"/>
<rect x="38.42" y="587.60" width="14.62" height="14.63" fill="#b6b6d8"/>
<rect x="52.04" y="587.60" width="14.62" height="14.63" fill="#34286a"/>
<rect x="65.66" y="587.60" width="14.62" height="14.63" fill="#7363ac"/>
<rect x="79.28" y="587.60" width="14.62" height="14.63" fill="#e2e2ef"/>
<rect x="92.90" y="587.60" width="14.62" height="14.63" fill="#e2e2ef"/>
<rect x="106.52" y="587.60" width="14.62" height="14.63" fill="#e2e2ef"/>
<rect x="120.14" y="587.60" width="14.62" height="14.63" fill="#b6b6d8"/>
<rect x="133.76" y="587.60" width="14.62" height="14.63" fill="#61409b"/>
<rect x="147.38" y="587.60" width="14.62" height="14.63" fill="#f2f0f7"/>
<rect x="161.00" y="587.60" width="14.62" height="14.63" fill="#f2f0f7"/>
<rect x="174.62" y="587.60" width="14.62" height="14.63" fill="#e2e2ef"/>
<rect x="188.24" y="587.60" width="13.62" height="14.63" fill="#f2f0f7"/>
<rect x="24.80" y="601.23" width="14.62" height="14.63" fill="#61409b"/>
<rect x="38.42" y="601.23" width="14.62" height="14.63" fill="#34286a"/>
<rect x="52.04" y="601.23" width="14.62" height="14.63" fill="#b6b6d8"/>
<rect x="65.66" y="601.23" width="14.62" height="14.63" fill="#f2f0f7"/>
<rect x="79.28" y="601.23" width="14.62" height="14.63" fill="#e2e2ef"/>
<rect x="92.90" y="601.23" width="14.62" height="14.63" fill="#9e9ac8"/>
<rect x="106.52" y="601.23" width="14.62" height="14.63" fill="#7363ac"/>
<rect x="120.14" y="601.23" width="14.62" height="14.63" fill="#7363ac"/>
<rect x="133.76" y="601.23" width="14.62" height="14.63" fill="#e2e2ef"/>
<rect x="147.38" y="601.23" width="14.62" height="14.63" fill="#f2f0f7"/>
<rect x="161.00" y="601.23" width="14.62" height="14.63" fill="#f2f0f7"/>
<rect x="174.62" y="601.23" width="14.62" height="14.63" fill="#cecee5"/>
<rect x="188.24" y="601.23" width="13.62" height="14.63" fill="#cecee5"/>
<rect x="24.80" y="614.86" width="14.62" height="13.63" fill="#34286a"/>
<rect x="38.42" y="614.86" width="14.62" height="13.63" fill="#61409b"/>
<rect x="52.04" y="614.86" width="14.62" height="13.63" fill="#f2f0f7"/>
<rect x="65.66" y="614.86" width="14.62" height="13.63" fill="#f2f0f7"/>
<rect x="79.28" y="614.86" width="14.62" height="13.63" fill="#f2f0f7"/>
<rect x="92.90" y="614.86" width="14.62" height="13.63" fill="#8683bd"/>
<rect x="106.52" y="614.86" width="14.62" height="13.63" fill="#7363ac"/>
<rect x="120.14" y="614.86" width="14.62" height="13.63" fill="#cecee5"/>
<rect x="133.76" y="614.86" width="14.62" height="13.63" fill="#f2f0f7"/>
<rect x="147.38" y="614.86" width="14.62" height="13.63" fill="#f2f0f7"/>
<rect x="161.00" y="614.86" width="14.62" height="13.63" fill="#f2f0f7"/>
<rect x="174.62" y="614.86" width="14.62" height="13.63" fill="#b6b6d8"/>
<rect x="188.24" y="614.86" width="13.62" height="13.63" fill="#cecee5"/>
<text x="32.11" y="460.31" font-size="7.6" text-anchor="middle" font-weight="normal" font-style="normal" fill="#262626" stroke="#262626" stroke-width="0.1" textLength="11.2" lengthAdjust="spacingAndGlyphs">0.3</text>
<text x="45.73" y="460.31" font-size="7.6" text-anchor="middle" font-weight="normal" font-style="normal" fill="#262626" stroke="#262626" stroke-width="0.1" textLength="11.2" lengthAdjust="spacingAndGlyphs">0.3</text>
<text x="59.35" y="460.31" font-size="7.6" text-anchor="middle" font-weight="normal" font-style="normal" fill="#262626" stroke="#262626" stroke-width="0.1" textLength="11.2" lengthAdjust="spacingAndGlyphs">0.1</text>
<text x="72.97" y="460.31" font-size="7.6" text-anchor="middle" font-weight="normal" font-style="normal" fill="#262626" stroke="#262626" stroke-width="0.1" textLength="11.2" lengthAdjust="spacingAndGlyphs">0.1</text>
<text x="86.59" y="460.31" font-size="7.6" text-anchor="middle" font-weight="normal" font-style="normal" fill="#262626" stroke="#262626" stroke-width="0.1" textLength="11.2" lengthAdjust="spacingAndGlyphs">0.3</text>
<text x="100.21" y="460.31" font-size="7.6" text-anchor="middle" font-weight="normal" font-style="normal" fill="#262626" stroke="#262626" stroke-width="0.1" textLength="11.2" lengthAdjust="spacingAndGlyphs">0.5</text>
<text x="113.83" y="460.31" font-size="7.6" text-anchor="middle" font-weight="normal" font-style="normal" fill="#f2f2f2" stroke="#f2f2f2" stroke-width="0.1" textLength="11.2" lengthAdjust="spacingAndGlyphs">0.5</text>
<text x="127.45" y="460.31" font-size="7.6" text-anchor="middle" font-weight="normal" font-style="normal" fill="#f2f2f2" stroke="#f2f2f2" stroke-width="0.1" textLength="11.2" lengthAdjust="spacingAndGlyphs">0.5</text>
<text x="141.07" y="460.31" font-size="7.6" text-anchor="middle" font-weight="normal" font-style="normal" fill="#262626" stroke="#262626" stroke-width="0.1" textLength="11.2" lengthAdjust="spacingAndGlyphs">0.2</text>
<text x="154.69" y="460.31" font-size="7.6" text-anchor="middle" font-weight="normal" font-style="normal" fill="#262626" stroke="#262626" stroke-width="0.1" textLength="11.2" lengthAdjust="spacingAndGlyphs">0.3</text>
<text x="168.31" y="460.31" font-size="7.6" text-anchor="middle" font-weight="normal" font-style="normal" fill="#f2f2f2" stroke="#f2f2f2" stroke-width="0.1" textLength="11.2" lengthAdjust="spacingAndGlyphs">0.6</text>
<text x="181.93" y="460.31" font-size="7.6" text-anchor="middle" font-weight="normal" font-style="normal" fill="#f2f2f2" stroke="#f2f2f2" stroke-width="0.1" textLength="11.2" lengthAdjust="spacingAndGlyphs">0.7</text>
<text x="195.55" y="460.31" font-size="7.6" text-anchor="middle" font-weight="normal" font-style="normal" fill="#f2f2f2" stroke="#f2f2f2" stroke-width="0.1" textLength="11.2" lengthAdjust="spacingAndGlyphs">1.0</text>
<text x="32.11" y="473.94" font-size="7.6" text-anchor="middle" font-weight="normal" font-style="normal" fill="#262626" stroke="#262626" stroke-width="0.1" textLength="11.2" lengthAdjust="spacingAndGlyphs">0.4</text>
<text x="45.73" y="473.94" font-size="7.6" text-anchor="middle" font-weight="normal" font-style="normal" fill="#262626" stroke="#262626" stroke-width="0.1" textLength="11.2" lengthAdjust="spacingAndGlyphs">0.3</text>
<text x="59.35" y="473.94" font-size="7.6" text-anchor="middle" font-weight="normal" font-style="normal" fill="#262626" stroke="#262626" stroke-width="0.1" textLength="11.2" lengthAdjust="spacingAndGlyphs">0.2</text>
<text x="72.97" y="473.94" font-size="7.6" text-anchor="middle" font-weight="normal" font-style="normal" fill="#262626" stroke="#262626" stroke-width="0.1" textLength="11.2" lengthAdjust="spacingAndGlyphs">0.3</text>
<text x="86.59" y="473.94" font-size="7.6" text-anchor="middle" font-weight="normal" font-style="normal" fill="#f2f2f2" stroke="#f2f2f2" stroke-width="0.1" textLength="11.2" lengthAdjust="spacingAndGlyphs">0.6</text>
<text x="100.21" y="473.94" font-size="7.6" text-anchor="middle" font-weight="normal" font-style="normal" fill="#f2f2f2" stroke="#f2f2f2" stroke-width="0.1" textLength="11.2" lengthAdjust="spacingAndGlyphs">0.7</text>
<text x="113.83" y="473.94" font-size="7.6" text-anchor="middle" font-weight="normal" font-style="normal" fill="#262626" stroke="#262626" stroke-width="0.1" textLength="11.2" lengthAdjust="spacingAndGlyphs">0.5</text>
<text x="127.45" y="473.94" font-size="7.6" text-anchor="middle" font-weight="normal" font-style="normal" fill="#262626" stroke="#262626" stroke-width="0.1" textLength="11.2" lengthAdjust="spacingAndGlyphs">0.4</text>
<text x="141.07" y="473.94" font-size="7.6" text-anchor="middle" font-weight="normal" font-style="normal" fill="#262626" stroke="#262626" stroke-width="0.1" textLength="11.2" lengthAdjust="spacingAndGlyphs">0.4</text>
<text x="154.69" y="473.94" font-size="7.6" text-anchor="middle" font-weight="normal" font-style="normal" fill="#262626" stroke="#262626" stroke-width="0.1" textLength="11.2" lengthAdjust="spacingAndGlyphs">0.4</text>
<text x="168.31" y="473.94" font-size="7.6" text-anchor="middle" font-weight="normal" font-style="normal" fill="#f2f2f2" stroke="#f2f2f2" stroke-width="0.1" textLength="11.2" lengthAdjust="spacingAndGlyphs">0.7</text>
<text x="181.93" y="473.94" font-size="7.6" text-anchor="middle" font-weight="normal" font-style="normal" fill="#f2f2f2" stroke="#f2f2f2" stroke-width="0.1" textLength="11.2" lengthAdjust="spacingAndGlyphs">1.0</text>
<text x="195.55" y="473.94" font-size="7.6" text-anchor="middle" font-weight="normal" font-style="normal" fill="#f2f2f2" stroke="#f2f2f2" stroke-width="0.1" textLength="11.2" lengthAdjust="spacingAndGlyphs">0.7</text>
<text x="32.11" y="487.57" font-size="7.6" text-anchor="middle" font-weight="normal" font-style="normal" fill="#262626" stroke="#262626" stroke-width="0.1" textLength="11.2" lengthAdjust="spacingAndGlyphs">0.1</text>
<text x="45.73" y="487.57" font-size="7.6" text-anchor="middle" font-weight="normal" font-style="normal" fill="#262626" stroke="#262626" stroke-width="0.1" textLength="11.2" lengthAdjust="spacingAndGlyphs">0.1</text>
<text x="59.35" y="487.57" font-size="7.6" text-anchor="middle" font-weight="normal" font-style="normal" fill="#262626" stroke="#262626" stroke-width="0.1" textLength="11.2" lengthAdjust="spacingAndGlyphs">0.1</text>
<text x="72.97" y="487.57" font-size="7.6" text-anchor="middle" font-weight="normal" font-style="normal" fill="#262626" stroke="#262626" stroke-width="0.1" textLength="11.2" lengthAdjust="spacingAndGlyphs">0.4</text>
<text x="86.59" y="487.57" font-size="7.6" text-anchor="middle" font-weight="normal" font-style="normal" fill="#f2f2f2" stroke="#f2f2f2" stroke-width="0.1" textLength="11.2" lengthAdjust="spacingAndGlyphs">0.7</text>
<text x="100.21" y="487.57" font-size="7.6" text-anchor="middle" font-weight="normal" font-style="normal" fill="#262626" stroke="#262626" stroke-width="0.1" textLength="11.2" lengthAdjust="spacingAndGlyphs">0.4</text>
<text x="113.83" y="487.57" font-size="7.6" text-anchor="middle" font-weight="normal" font-style="normal" fill="#262626" stroke="#262626" stroke-width="0.1" textLength="11.2" lengthAdjust="spacingAndGlyphs">0.1</text>
<text x="127.45" y="487.57" font-size="7.6" text-anchor="middle" font-weight="normal" font-style="normal" fill="#262626" stroke="#262626" stroke-width="0.1" textLength="11.2" lengthAdjust="spacingAndGlyphs">0.2</text>
<text x="141.07" y="487.57" font-size="7.6" text-anchor="middle" font-weight="normal" font-style="normal" fill="#262626" stroke="#262626" stroke-width="0.1" textLength="11.2" lengthAdjust="spacingAndGlyphs">0.3</text>
<text x="154.69" y="487.57" font-size="7.6" text-anchor="middle" font-weight="normal" font-style="normal" fill="#f2f2f2" stroke="#f2f2f2" stroke-width="0.1" textLength="11.2" lengthAdjust="spacingAndGlyphs">0.8</text>
<text x="168.31" y="487.57" font-size="7.6" text-anchor="middle" font-weight="normal" font-style="normal" fill="#f2f2f2" stroke="#f2f2f2" stroke-width="0.1" textLength="11.2" lengthAdjust="spacingAndGlyphs">1.0</text>
<text x="181.93" y="487.57" font-size="7.6" text-anchor="middle" font-weight="normal" font-style="normal" fill="#f2f2f2" stroke="#f2f2f2" stroke-width="0.1" textLength="11.2" lengthAdjust="spacingAndGlyphs">0.7</text>
<text x="195.55" y="487.57" font-size="7.6" text-anchor="middle" font-weight="normal" font-style="normal" fill="#f2f2f2" stroke="#f2f2f2" stroke-width="0.1" textLength="11.2" lengthAdjust="spacingAndGlyphs">0.6</text>
<text x="32.11" y="501.20" font-size="7.6" text-anchor="middle" font-weight="normal" font-style="normal" fill="#262626" stroke="#262626" stroke-width="0.1" textLength="11.2" lengthAdjust="spacingAndGlyphs">0.1</text>
<text x="45.73" y="501.20" font-size="7.6" text-anchor="middle" font-weight="normal" font-style="normal" fill="#262626" stroke="#262626" stroke-width="0.1" textLength="11.2" lengthAdjust="spacingAndGlyphs">0.1</text>
<text x="59.35" y="501.20" font-size="7.6" text-anchor="middle" font-weight="normal" font-style="normal" fill="#262626" stroke="#262626" stroke-width="0.1" textLength="11.2" lengthAdjust="spacingAndGlyphs">0.1</text>
<text x="72.97" y="501.20" font-size="7.6" text-anchor="middle" font-weight="normal" font-style="normal" fill="#f2f2f2" stroke="#f2f2f2" stroke-width="0.1" textLength="11.2" lengthAdjust="spacingAndGlyphs">0.6</text>
<text x="86.59" y="501.20" font-size="7.6" text-anchor="middle" font-weight="normal" font-style="normal" fill="#f2f2f2" stroke="#f2f2f2" stroke-width="0.1" textLength="11.2" lengthAdjust="spacingAndGlyphs">0.7</text>
<text x="100.21" y="501.20" font-size="7.6" text-anchor="middle" font-weight="normal" font-style="normal" fill="#262626" stroke="#262626" stroke-width="0.1" textLength="11.2" lengthAdjust="spacingAndGlyphs">0.3</text>
<text x="113.83" y="501.20" font-size="7.6" text-anchor="middle" font-weight="normal" font-style="normal" fill="#262626" stroke="#262626" stroke-width="0.1" textLength="11.2" lengthAdjust="spacingAndGlyphs">0.1</text>
<text x="127.45" y="501.20" font-size="7.6" text-anchor="middle" font-weight="normal" font-style="normal" fill="#262626" stroke="#262626" stroke-width="0.1" textLength="11.2" lengthAdjust="spacingAndGlyphs">0.2</text>
<text x="141.07" y="501.20" font-size="7.6" text-anchor="middle" font-weight="normal" font-style="normal" fill="#262626" stroke="#262626" stroke-width="0.1" textLength="11.2" lengthAdjust="spacingAndGlyphs">0.4</text>
<text x="154.69" y="501.20" font-size="7.6" text-anchor="middle" font-weight="normal" font-style="normal" fill="#f2f2f2" stroke="#f2f2f2" stroke-width="0.1" textLength="11.2" lengthAdjust="spacingAndGlyphs">1.0</text>
<text x="168.31" y="501.20" font-size="7.6" text-anchor="middle" font-weight="normal" font-style="normal" fill="#f2f2f2" stroke="#f2f2f2" stroke-width="0.1" textLength="11.2" lengthAdjust="spacingAndGlyphs">0.8</text>
<text x="181.93" y="501.20" font-size="7.6" text-anchor="middle" font-weight="normal" font-style="normal" fill="#262626" stroke="#262626" stroke-width="0.1" textLength="11.2" lengthAdjust="spacingAndGlyphs">0.4</text>
<text x="195.55" y="501.20" font-size="7.6" text-anchor="middle" font-weight="normal" font-style="normal" fill="#262626" stroke="#262626" stroke-width="0.1" textLength="11.2" lengthAdjust="spacingAndGlyphs">0.3</text>
<text x="32.11" y="514.84" font-size="7.6" text-anchor="middle" font-weight="normal" font-style="normal" fill="#262626" stroke="#262626" stroke-width="0.1" textLength="11.2" lengthAdjust="spacingAndGlyphs">0.1</text>
<text x="45.73" y="514.84" font-size="7.6" text-anchor="middle" font-weight="normal" font-style="normal" fill="#262626" stroke="#262626" stroke-width="0.1" textLength="11.2" lengthAdjust="spacingAndGlyphs">0.2</text>
<text x="59.35" y="514.84" font-size="7.6" text-anchor="middle" font-weight="normal" font-style="normal" fill="#f2f2f2" stroke="#f2f2f2" stroke-width="0.1" textLength="11.2" lengthAdjust="spacingAndGlyphs">0.8</text>
<text x="72.97" y="514.84" font-size="7.6" text-anchor="middle" font-weight="normal" font-style="normal" fill="#f2f2f2" stroke="#f2f2f2" stroke-width="0.1" textLength="11.2" lengthAdjust="spacingAndGlyphs">0.7</text>
<text x="86.59" y="514.84" font-size="7.6" text-anchor="middle" font-weight="normal" font-style="normal" fill="#262626" stroke="#262626" stroke-width="0.1" textLength="11.2" lengthAdjust="spacingAndGlyphs">0.2</text>
<text x="100.21" y="514.84" font-size="7.6" text-anchor="middle" font-weight="normal" font-style="normal" fill="#262626" stroke="#262626" stroke-width="0.1" textLength="11.2" lengthAdjust="spacingAndGlyphs">0.2</text>
<text x="113.83" y="514.84" font-size="7.6" text-anchor="middle" font-weight="normal" font-style="normal" fill="#262626" stroke="#262626" stroke-width="0.1" textLength="11.2" lengthAdjust="spacingAndGlyphs">0.2</text>
<text x="127.45" y="514.84" font-size="7.6" text-anchor="middle" font-weight="normal" font-style="normal" fill="#f2f2f2" stroke="#f2f2f2" stroke-width="0.1" textLength="11.2" lengthAdjust="spacingAndGlyphs">0.5</text>
<text x="141.07" y="514.84" font-size="7.6" text-anchor="middle" font-weight="normal" font-style="normal" fill="#f2f2f2" stroke="#f2f2f2" stroke-width="0.1" textLength="11.2" lengthAdjust="spacingAndGlyphs">1.0</text>
<text x="154.69" y="514.84" font-size="7.6" text-anchor="middle" font-weight="normal" font-style="normal" fill="#262626" stroke="#262626" stroke-width="0.1" textLength="11.2" lengthAdjust="spacingAndGlyphs">0.4</text>
<text x="168.31" y="514.84" font-size="7.6" text-anchor="middle" font-weight="normal" font-style="normal" fill="#262626" stroke="#262626" stroke-width="0.1" textLength="11.2" lengthAdjust="spacingAndGlyphs">0.3</text>
<text x="181.93" y="514.84" font-size="7.6" text-anchor="middle" font-weight="normal" font-style="normal" fill="#262626" stroke="#262626" stroke-width="0.1" textLength="11.2" lengthAdjust="spacingAndGlyphs">0.4</text>
<text x="195.55" y="514.84" font-size="7.6" text-anchor="middle" font-weight="normal" font-style="normal" fill="#262626" stroke="#262626" stroke-width="0.1" textLength="11.2" lengthAdjust="spacingAndGlyphs">0.2</text>
<text x="32.11" y="528.47" font-size="7.6" text-anchor="middle" font-weight="normal" font-style="normal" fill="#262626" stroke="#262626" stroke-width="0.1" textLength="11.2" lengthAdjust="spacingAndGlyphs">0.3</text>
<text x="45.73" y="528.47" font-size="7.6" text-anchor="middle" font-weight="normal" font-style="normal" fill="#f2f2f2" stroke="#f2f2f2" stroke-width="0.1" textLength="11.2" lengthAdjust="spacingAndGlyphs">0.7</text>
<text x="59.35" y="528.47" font-size="7.6" text-anchor="middle" font-weight="normal" font-style="normal" fill="#262626" stroke="#262626" stroke-width="0.1" textLength="11.2" lengthAdjust="spacingAndGlyphs">0.4</text>
<text x="72.97" y="528.47" font-size="7.6" text-anchor="middle" font-weight="normal" font-style="normal" fill="#262626" stroke="#262626" stroke-width="0.1" textLength="11.2" lengthAdjust="spacingAndGlyphs">0.1</text>
<text x="86.59" y="528.47" font-size="7.6" text-anchor="middle" font-weight="normal" font-style="normal" fill="#262626" stroke="#262626" stroke-width="0.1" textLength="11.2" lengthAdjust="spacingAndGlyphs">0.1</text>
<text x="100.21" y="528.47" font-size="7.6" text-anchor="middle" font-weight="normal" font-style="normal" fill="#262626" stroke="#262626" stroke-width="0.1" textLength="11.2" lengthAdjust="spacingAndGlyphs">0.5</text>
<text x="113.83" y="528.47" font-size="7.6" text-anchor="middle" font-weight="normal" font-style="normal" fill="#f2f2f2" stroke="#f2f2f2" stroke-width="0.1" textLength="11.2" lengthAdjust="spacingAndGlyphs">0.7</text>
<text x="127.45" y="528.47" font-size="7.6" text-anchor="middle" font-weight="normal" font-style="normal" fill="#f2f2f2" stroke="#f2f2f2" stroke-width="0.1" textLength="11.2" lengthAdjust="spacingAndGlyphs">1.0</text>
<text x="141.07" y="528.47" font-size="7.6" text-anchor="middle" font-weight="normal" font-style="normal" fill="#f2f2f2" stroke="#f2f2f2" stroke-width="0.1" textLength="11.2" lengthAdjust="spacingAndGlyphs">0.5</text>
<text x="154.69" y="528.47" font-size="7.6" text-anchor="middle" font-weight="normal" font-style="normal" fill="#262626" stroke="#262626" stroke-width="0.1" textLength="11.2" lengthAdjust="spacingAndGlyphs">0.2</text>
<text x="168.31" y="528.47" font-size="7.6" text-anchor="middle" font-weight="normal" font-style="normal" fill="#262626" stroke="#262626" stroke-width="0.1" textLength="11.2" lengthAdjust="spacingAndGlyphs">0.2</text>
<text x="181.93" y="528.47" font-size="7.6" text-anchor="middle" font-weight="normal" font-style="normal" fill="#262626" stroke="#262626" stroke-width="0.1" textLength="11.2" lengthAdjust="spacingAndGlyphs">0.4</text>
<text x="195.55" y="528.47" font-size="7.6" text-anchor="middle" font-weight="normal" font-style="normal" fill="#f2f2f2" stroke="#f2f2f2" stroke-width="0.1" textLength="11.2" lengthAdjust="spacingAndGlyphs">0.5</text>
<text x="32.11" y="542.10" font-size="7.6" text-anchor="middle" font-weight="normal" font-style="normal" fill="#f2f2f2" stroke="#f2f2f2" stroke-width="0.1" textLength="11.2" lengthAdjust="spacingAndGlyphs">0.7</text>
<text x="45.73" y="542.10" font-size="7.6" text-anchor="middle" font-weight="normal" font-style="normal" fill="#f2f2f2" stroke="#f2f2f2" stroke-width="0.1" textLength="11.2" lengthAdjust="spacingAndGlyphs">0.7</text>
<text x="59.35" y="542.10" font-size="7.6" text-anchor="middle" font-weight="normal" font-style="normal" fill="#262626" stroke="#262626" stroke-width="0.1" textLength="11.2" lengthAdjust="spacingAndGlyphs">0.2</text>
<text x="72.97" y="542.10" font-size="7.6" text-anchor="middle" font-weight="normal" font-style="normal" fill="#262626" stroke="#262626" stroke-width="0.1" textLength="11.2" lengthAdjust="spacingAndGlyphs">0.1</text>
<text x="86.59" y="542.10" font-size="7.6" text-anchor="middle" font-weight="normal" font-style="normal" fill="#262626" stroke="#262626" stroke-width="0.1" textLength="11.2" lengthAdjust="spacingAndGlyphs">0.1</text>
<text x="100.21" y="542.10" font-size="7.6" text-anchor="middle" font-weight="normal" font-style="normal" fill="#f2f2f2" stroke="#f2f2f2" stroke-width="0.1" textLength="11.2" lengthAdjust="spacingAndGlyphs">0.6</text>
<text x="113.83" y="542.10" font-size="7.6" text-anchor="middle" font-weight="normal" font-style="normal" fill="#f2f2f2" stroke="#f2f2f2" stroke-width="0.1" textLength="11.2" lengthAdjust="spacingAndGlyphs">1.0</text>
<text x="127.45" y="542.10" font-size="7.6" text-anchor="middle" font-weight="normal" font-style="normal" fill="#f2f2f2" stroke="#f2f2f2" stroke-width="0.1" textLength="11.2" lengthAdjust="spacingAndGlyphs">0.7</text>
<text x="141.07" y="542.10" font-size="7.6" text-anchor="middle" font-weight="normal" font-style="normal" fill="#262626" stroke="#262626" stroke-width="0.1" textLength="11.2" lengthAdjust="spacingAndGlyphs">0.2</text>
<text x="154.69" y="542.10" font-size="7.6" text-anchor="middle" font-weight="normal" font-style="normal" fill="#262626" stroke="#262626" stroke-width="0.1" textLength="11.2" lengthAdjust="spacingAndGlyphs">0.1</text>
<text x="168.31" y="542.10" font-size="7.6" text-anchor="middle" font-weight="normal" font-style="normal" fill="#262626" stroke="#262626" stroke-width="0.1" textLength="11.2" lengthAdjust="spacingAndGlyphs">0.1</text>
<text x="181.93" y="542.10" font-size="7.6" text-anchor="middle" font-weight="normal" font-style="normal" fill="#262626" stroke="#262626" stroke-width="0.1" textLength="11.2" lengthAdjust="spacingAndGlyphs">0.5</text>
<text x="195.55" y="542.10" font-size="7.6" text-anchor="middle" font-weight="normal" font-style="normal" fill="#f2f2f2" stroke="#f2f2f2" stroke-width="0.1" textLength="11.2" lengthAdjust="spacingAndGlyphs">0.5</text>
<text x="32.11" y="555.73" font-size="7.6" text-anchor="middle" font-weight="normal" font-style="normal" fill="#f2f2f2" stroke="#f2f2f2" stroke-width="0.1" textLength="11.2" lengthAdjust="spacingAndGlyphs">0.6</text>
<text x="45.73" y="555.73" font-size="7.6" text-anchor="middle" font-weight="normal" font-style="normal" fill="#f2f2f2" stroke="#f2f2f2" stroke-width="0.1" textLength="11.2" lengthAdjust="spacingAndGlyphs">0.5</text>
<text x="59.35" y="555.73" font-size="7.6" text-anchor="middle" font-weight="normal" font-style="normal" fill="#262626" stroke="#262626" stroke-width="0.1" textLength="11.2" lengthAdjust="spacingAndGlyphs">0.2</text>
<text x="72.97" y="555.73" font-size="7.6" text-anchor="middle" font-weight="normal" font-style="normal" fill="#262626" stroke="#262626" stroke-width="0.1" textLength="11.2" lengthAdjust="spacingAndGlyphs">0.2</text>
<text x="86.59" y="555.73" font-size="7.6" text-anchor="middle" font-weight="normal" font-style="normal" fill="#f2f2f2" stroke="#f2f2f2" stroke-width="0.1" textLength="11.2" lengthAdjust="spacingAndGlyphs">0.6</text>
<text x="100.21" y="555.73" font-size="7.6" text-anchor="middle" font-weight="normal" font-style="normal" fill="#f2f2f2" stroke="#f2f2f2" stroke-width="0.1" textLength="11.2" lengthAdjust="spacingAndGlyphs">1.0</text>
<text x="113.83" y="555.73" font-size="7.6" text-anchor="middle" font-weight="normal" font-style="normal" fill="#f2f2f2" stroke="#f2f2f2" stroke-width="0.1" textLength="11.2" lengthAdjust="spacingAndGlyphs">0.6</text>
<text x="127.45" y="555.73" font-size="7.6" text-anchor="middle" font-weight="normal" font-style="normal" fill="#262626" stroke="#262626" stroke-width="0.1" textLength="11.2" lengthAdjust="spacingAndGlyphs">0.5</text>
<text x="141.07" y="555.73" font-size="7.6" text-anchor="middle" font-weight="normal" font-style="normal" fill="#262626" stroke="#262626" stroke-width="0.1" textLength="11.2" lengthAdjust="spacingAndGlyphs">0.2</text>
<text x="154.69" y="555.73" font-size="7.6" text-anchor="middle" font-weight="normal" font-style="normal" fill="#262626" stroke="#262626" stroke-width="0.1" textLength="11.2" lengthAdjust="spacingAndGlyphs">0.3</text>
<text x="168.31" y="555.73" font-size="7.6" text-anchor="middle" font-weight="normal" font-style="normal" fill="#262626" stroke="#262626" stroke-width="0.1" textLength="11.2" lengthAdjust="spacingAndGlyphs">0.4</text>
<text x="181.93" y="555.73" font-size="7.6" text-anchor="middle" font-weight="normal" font-style="normal" fill="#f2f2f2" stroke="#f2f2f2" stroke-width="0.1" textLength="11.2" lengthAdjust="spacingAndGlyphs">0.7</text>
<text x="195.55" y="555.73" font-size="7.6" text-anchor="middle" font-weight="normal" font-style="normal" fill="#262626" stroke="#262626" stroke-width="0.1" textLength="11.2" lengthAdjust="spacingAndGlyphs">0.5</text>
<text x="32.11" y="569.36" font-size="7.6" text-anchor="middle" font-weight="normal" font-style="normal" fill="#262626" stroke="#262626" stroke-width="0.1" textLength="11.2" lengthAdjust="spacingAndGlyphs">0.1</text>
<text x="45.73" y="569.36" font-size="7.6" text-anchor="middle" font-weight="normal" font-style="normal" fill="#262626" stroke="#262626" stroke-width="0.1" textLength="11.2" lengthAdjust="spacingAndGlyphs">0.2</text>
<text x="59.35" y="569.36" font-size="7.6" text-anchor="middle" font-weight="normal" font-style="normal" fill="#262626" stroke="#262626" stroke-width="0.1" textLength="11.2" lengthAdjust="spacingAndGlyphs">0.2</text>
<text x="72.97" y="569.36" font-size="7.6" text-anchor="middle" font-weight="normal" font-style="normal" fill="#f2f2f2" stroke="#f2f2f2" stroke-width="0.1" textLength="11.2" lengthAdjust="spacingAndGlyphs">0.6</text>
<text x="86.59" y="569.36" font-size="7.6" text-anchor="middle" font-weight="normal" font-style="normal" fill="#f2f2f2" stroke="#f2f2f2" stroke-width="0.1" textLength="11.2" lengthAdjust="spacingAndGlyphs">1.0</text>
<text x="100.21" y="569.36" font-size="7.6" text-anchor="middle" font-weight="normal" font-style="normal" fill="#f2f2f2" stroke="#f2f2f2" stroke-width="0.1" textLength="11.2" lengthAdjust="spacingAndGlyphs">0.6</text>
<text x="113.83" y="569.36" font-size="7.6" text-anchor="middle" font-weight="normal" font-style="normal" fill="#262626" stroke="#262626" stroke-width="0.1" textLength="11.2" lengthAdjust="spacingAndGlyphs">0.1</text>
<text x="127.45" y="569.36" font-size="7.6" text-anchor="middle" font-weight="normal" font-style="normal" fill="#262626" stroke="#262626" stroke-width="0.1" textLength="11.2" lengthAdjust="spacingAndGlyphs">0.1</text>
<text x="141.07" y="569.36" font-size="7.6" text-anchor="middle" font-weight="normal" font-style="normal" fill="#262626" stroke="#262626" stroke-width="0.1" textLength="11.2" lengthAdjust="spacingAndGlyphs">0.2</text>
<text x="154.69" y="569.36" font-size="7.6" text-anchor="middle" font-weight="normal" font-style="normal" fill="#f2f2f2" stroke="#f2f2f2" stroke-width="0.1" textLength="11.2" lengthAdjust="spacingAndGlyphs">0.7</text>
<text x="168.31" y="569.36" font-size="7.6" text-anchor="middle" font-weight="normal" font-style="normal" fill="#f2f2f2" stroke="#f2f2f2" stroke-width="0.1" textLength="11.2" lengthAdjust="spacingAndGlyphs">0.7</text>
<text x="181.93" y="569.36" font-size="7.6" text-anchor="middle" font-weight="normal" font-style="normal" fill="#f2f2f2" stroke="#f2f2f2" stroke-width="0.1" textLength="11.2" lengthAdjust="spacingAndGlyphs">0.6</text>
<text x="195.55" y="569.36" font-size="7.6" text-anchor="middle" font-weight="normal" font-style="normal" fill="#262626" stroke="#262626" stroke-width="0.1" textLength="11.2" lengthAdjust="spacingAndGlyphs">0.3</text>
<text x="32.11" y="582.99" font-size="7.6" text-anchor="middle" font-weight="normal" font-style="normal" fill="#262626" stroke="#262626" stroke-width="0.1" textLength="11.2" lengthAdjust="spacingAndGlyphs">0.1</text>
<text x="45.73" y="582.99" font-size="7.6" text-anchor="middle" font-weight="normal" font-style="normal" fill="#262626" stroke="#262626" stroke-width="0.1" textLength="11.2" lengthAdjust="spacingAndGlyphs">0.1</text>
<text x="59.35" y="582.99" font-size="7.6" text-anchor="middle" font-weight="normal" font-style="normal" fill="#f2f2f2" stroke="#f2f2f2" stroke-width="0.1" textLength="11.2" lengthAdjust="spacingAndGlyphs">0.7</text>
<text x="72.97" y="582.99" font-size="7.6" text-anchor="middle" font-weight="normal" font-style="normal" fill="#f2f2f2" stroke="#f2f2f2" stroke-width="0.1" textLength="11.2" lengthAdjust="spacingAndGlyphs">1.0</text>
<text x="86.59" y="582.99" font-size="7.6" text-anchor="middle" font-weight="normal" font-style="normal" fill="#f2f2f2" stroke="#f2f2f2" stroke-width="0.1" textLength="11.2" lengthAdjust="spacingAndGlyphs">0.6</text>
<text x="100.21" y="582.99" font-size="7.6" text-anchor="middle" font-weight="normal" font-style="normal" fill="#262626" stroke="#262626" stroke-width="0.1" textLength="11.2" lengthAdjust="spacingAndGlyphs">0.2</text>
<text x="113.83" y="582.99" font-size="7.6" text-anchor="middle" font-weight="normal" font-style="normal" fill="#262626" stroke="#262626" stroke-width="0.1" textLength="11.2" lengthAdjust="spacingAndGlyphs">0.1</text>
<text x="127.45" y="582.99" font-size="7.6" text-anchor="middle" font-weight="normal" font-style="normal" fill="#262626" stroke="#262626" stroke-width="0.1" textLength="11.2" lengthAdjust="spacingAndGlyphs">0.1</text>
<text x="141.07" y="582.99" font-size="7.6" text-anchor="middle" font-weight="normal" font-style="normal" fill="#f2f2f2" stroke="#f2f2f2" stroke-width="0.1" textLength="11.2" lengthAdjust="spacingAndGlyphs">0.7</text>
<text x="154.69" y="582.99" font-size="7.6" text-anchor="middle" font-weight="normal" font-style="normal" fill="#f2f2f2" stroke="#f2f2f2" stroke-width="0.1" textLength="11.2" lengthAdjust="spacingAndGlyphs">0.6</text>
<text x="168.31" y="582.99" font-size="7.6" text-anchor="middle" font-weight="normal" font-style="normal" fill="#262626" stroke="#262626" stroke-width="0.1" textLength="11.2" lengthAdjust="spacingAndGlyphs">0.4</text>
<text x="181.93" y="582.99" font-size="7.6" text-anchor="middle" font-weight="normal" font-style="normal" fill="#262626" stroke="#262626" stroke-width="0.1" textLength="11.2" lengthAdjust="spacingAndGlyphs">0.3</text>
<text x="195.55" y="582.99" font-size="7.6" text-anchor="middle" font-weight="normal" font-style="normal" fill="#262626" stroke="#262626" stroke-width="0.1" textLength="11.2" lengthAdjust="spacingAndGlyphs">0.1</text>
<text x="32.11" y="596.62" font-size="7.6" text-anchor="middle" font-weight="normal" font-style="normal" fill="#262626" stroke="#262626" stroke-width="0.1" textLength="11.2" lengthAdjust="spacingAndGlyphs">0.1</text>
<text x="45.73" y="596.62" font-size="7.6" text-anchor="middle" font-weight="normal" font-style="normal" fill="#262626" stroke="#262626" stroke-width="0.1" textLength="11.2" lengthAdjust="spacingAndGlyphs">0.4</text>
<text x="59.35" y="596.62" font-size="7.6" text-anchor="middle" font-weight="normal" font-style="normal" fill="#f2f2f2" stroke="#f2f2f2" stroke-width="0.1" textLength="11.2" lengthAdjust="spacingAndGlyphs">1.0</text>
<text x="72.97" y="596.62" font-size="7.6" text-anchor="middle" font-weight="normal" font-style="normal" fill="#f2f2f2" stroke="#f2f2f2" stroke-width="0.1" textLength="11.2" lengthAdjust="spacingAndGlyphs">0.7</text>
<text x="86.59" y="596.62" font-size="7.6" text-anchor="middle" font-weight="normal" font-style="normal" fill="#262626" stroke="#262626" stroke-width="0.1" textLength="11.2" lengthAdjust="spacingAndGlyphs">0.2</text>
<text x="100.21" y="596.62" font-size="7.6" text-anchor="middle" font-weight="normal" font-style="normal" fill="#262626" stroke="#262626" stroke-width="0.1" textLength="11.2" lengthAdjust="spacingAndGlyphs">0.2</text>
<text x="113.83" y="596.62" font-size="7.6" text-anchor="middle" font-weight="normal" font-style="normal" fill="#262626" stroke="#262626" stroke-width="0.1" textLength="11.2" lengthAdjust="spacingAndGlyphs">0.2</text>
<text x="127.45" y="596.62" font-size="7.6" text-anchor="middle" font-weight="normal" font-style="normal" fill="#262626" stroke="#262626" stroke-width="0.1" textLength="11.2" lengthAdjust="spacingAndGlyphs">0.4</text>
<text x="141.07" y="596.62" font-size="7.6" text-anchor="middle" font-weight="normal" font-style="normal" fill="#f2f2f2" stroke="#f2f2f2" stroke-width="0.1" textLength="11.2" lengthAdjust="spacingAndGlyphs">0.8</text>
<text x="154.69" y="596.62" font-size="7.6" text-anchor="middle" font-weight="normal" font-style="normal" fill="#262626" stroke="#262626" stroke-width="0.1" textLength="11.2" lengthAdjust="spacingAndGlyphs">0.1</text>
<text x="168.31" y="596.62" font-size="7.6" text-anchor="middle" font-weight="normal" font-style="normal" fill="#262626" stroke="#262626" stroke-width="0.1" textLength="11.2" lengthAdjust="spacingAndGlyphs">0.1</text>
<text x="181.93" y="596.62" font-size="7.6" text-anchor="middle" font-weight="normal" font-style="normal" fill="#262626" stroke="#262626" stroke-width="0.1" textLength="11.2" lengthAdjust="spacingAndGlyphs">0.2</text>
<text x="195.55" y="596.62" font-size="7.6" text-anchor="middle" font-weight="normal" font-style="normal" fill="#262626" stroke="#262626" stroke-width="0.1" textLength="11.2" lengthAdjust="spacingAndGlyphs">0.1</text>
<text x="32.11" y="610.25" font-size="7.6" text-anchor="middle" font-weight="normal" font-style="normal" fill="#f2f2f2" stroke="#f2f2f2" stroke-width="0.1" textLength="11.2" lengthAdjust="spacingAndGlyphs">0.8</text>
<text x="45.73" y="610.25" font-size="7.6" text-anchor="middle" font-weight="normal" font-style="normal" fill="#f2f2f2" stroke="#f2f2f2" stroke-width="0.1" textLength="11.2" lengthAdjust="spacingAndGlyphs">1.0</text>
<text x="59.35" y="610.25" font-size="7.6" text-anchor="middle" font-weight="normal" font-style="normal" fill="#262626" stroke="#262626" stroke-width="0.1" textLength="11.2" lengthAdjust="spacingAndGlyphs">0.4</text>
<text x="72.97" y="610.25" font-size="7.6" text-anchor="middle" font-weight="normal" font-style="normal" fill="#262626" stroke="#262626" stroke-width="0.1" textLength="11.2" lengthAdjust="spacingAndGlyphs">0.1</text>
<text x="86.59" y="610.25" font-size="7.6" text-anchor="middle" font-weight="normal" font-style="normal" fill="#262626" stroke="#262626" stroke-width="0.1" textLength="11.2" lengthAdjust="spacingAndGlyphs">0.2</text>
<text x="100.21" y="610.25" font-size="7.6" text-anchor="middle" font-weight="normal" font-style="normal" fill="#f2f2f2" stroke="#f2f2f2" stroke-width="0.1" textLength="11.2" lengthAdjust="spacingAndGlyphs">0.5</text>
<text x="113.83" y="610.25" font-size="7.6" text-anchor="middle" font-weight="normal" font-style="normal" fill="#f2f2f2" stroke="#f2f2f2" stroke-width="0.1" textLength="11.2" lengthAdjust="spacingAndGlyphs">0.7</text>
<text x="127.45" y="610.25" font-size="7.6" text-anchor="middle" font-weight="normal" font-style="normal" fill="#f2f2f2" stroke="#f2f2f2" stroke-width="0.1" textLength="11.2" lengthAdjust="spacingAndGlyphs">0.7</text>
<text x="141.07" y="610.25" font-size="7.6" text-anchor="middle" font-weight="normal" font-style="normal" fill="#262626" stroke="#262626" stroke-width="0.1" textLength="11.2" lengthAdjust="spacingAndGlyphs">0.2</text>
<text x="154.69" y="610.25" font-size="7.6" text-anchor="middle" font-weight="normal" font-style="normal" fill="#262626" stroke="#262626" stroke-width="0.1" textLength="11.2" lengthAdjust="spacingAndGlyphs">0.1</text>
<text x="168.31" y="610.25" font-size="7.6" text-anchor="middle" font-weight="normal" font-style="normal" fill="#262626" stroke="#262626" stroke-width="0.1" textLength="11.2" lengthAdjust="spacingAndGlyphs">0.1</text>
<text x="181.93" y="610.25" font-size="7.6" text-anchor="middle" font-weight="normal" font-style="normal" fill="#262626" stroke="#262626" stroke-width="0.1" textLength="11.2" lengthAdjust="spacingAndGlyphs">0.3</text>
<text x="195.55" y="610.25" font-size="7.6" text-anchor="middle" font-weight="normal" font-style="normal" fill="#262626" stroke="#262626" stroke-width="0.1" textLength="11.2" lengthAdjust="spacingAndGlyphs">0.3</text>
<text x="32.11" y="623.88" font-size="7.6" text-anchor="middle" font-weight="normal" font-style="normal" fill="#f2f2f2" stroke="#f2f2f2" stroke-width="0.1" textLength="11.2" lengthAdjust="spacingAndGlyphs">1.0</text>
<text x="45.73" y="623.88" font-size="7.6" text-anchor="middle" font-weight="normal" font-style="normal" fill="#f2f2f2" stroke="#f2f2f2" stroke-width="0.1" textLength="11.2" lengthAdjust="spacingAndGlyphs">0.8</text>
<text x="59.35" y="623.88" font-size="7.6" text-anchor="middle" font-weight="normal" font-style="normal" fill="#262626" stroke="#262626" stroke-width="0.1" textLength="11.2" lengthAdjust="spacingAndGlyphs">0.1</text>
<text x="72.97" y="623.88" font-size="7.6" text-anchor="middle" font-weight="normal" font-style="normal" fill="#262626" stroke="#262626" stroke-width="0.1" textLength="11.2" lengthAdjust="spacingAndGlyphs">0.1</text>
<text x="86.59" y="623.88" font-size="7.6" text-anchor="middle" font-weight="normal" font-style="normal" fill="#262626" stroke="#262626" stroke-width="0.1" textLength="11.2" lengthAdjust="spacingAndGlyphs">0.1</text>
<text x="100.21" y="623.88" font-size="7.6" text-anchor="middle" font-weight="normal" font-style="normal" fill="#f2f2f2" stroke="#f2f2f2" stroke-width="0.1" textLength="11.2" lengthAdjust="spacingAndGlyphs">0.6</text>
<text x="113.83" y="623.88" font-size="7.6" text-anchor="middle" font-weight="normal" font-style="normal" fill="#f2f2f2" stroke="#f2f2f2" stroke-width="0.1" textLength="11.2" lengthAdjust="spacingAndGlyphs">0.7</text>
<text x="127.45" y="623.88" font-size="7.6" text-anchor="middle" font-weight="normal" font-style="normal" fill="#262626" stroke="#262626" stroke-width="0.1" textLength="11.2" lengthAdjust="spacingAndGlyphs">0.3</text>
<text x="141.07" y="623.88" font-size="7.6" text-anchor="middle" font-weight="normal" font-style="normal" fill="#262626" stroke="#262626" stroke-width="0.1" textLength="11.2" lengthAdjust="spacingAndGlyphs">0.1</text>
<text x="154.69" y="623.88" font-size="7.6" text-anchor="middle" font-weight="normal" font-style="normal" fill="#262626" stroke="#262626" stroke-width="0.1" textLength="11.2" lengthAdjust="spacingAndGlyphs">0.1</text>
<text x="168.31" y="623.88" font-size="7.6" text-anchor="middle" font-weight="normal" font-style="normal" fill="#262626" stroke="#262626" stroke-width="0.1" textLength="11.2" lengthAdjust="spacingAndGlyphs">0.1</text>
<text x="181.93" y="623.88" font-size="7.6" text-anchor="middle" font-weight="normal" font-style="normal" fill="#262626" stroke="#262626" stroke-width="0.1" textLength="11.2" lengthAdjust="spacingAndGlyphs">0.4</text>
<text x="195.55" y="623.88" font-size="7.6" text-anchor="middle" font-weight="normal" font-style="normal" fill="#262626" stroke="#262626" stroke-width="0.1" textLength="11.2" lengthAdjust="spacingAndGlyphs">0.3</text>
<text x="22.10" y="460.22" font-size="8.0" text-anchor="end" font-weight="normal" font-style="normal" fill="#231f20" stroke="#231f20" stroke-width="0.22" textLength="21.6" lengthAdjust="spacingAndGlyphs">CT 72</text>
<text x="22.10" y="473.85" font-size="8.0" text-anchor="end" font-weight="normal" font-style="normal" fill="#231f20" stroke="#231f20" stroke-width="0.22" textLength="21.6" lengthAdjust="spacingAndGlyphs">CT 68</text>
<text x="22.10" y="487.48" font-size="8.0" text-anchor="end" font-weight="normal" font-style="normal" fill="#231f20" stroke="#231f20" stroke-width="0.22" textLength="21.6" lengthAdjust="spacingAndGlyphs">CT 64</text>
<text x="22.10" y="501.11" font-size="8.0" text-anchor="end" font-weight="normal" font-style="normal" fill="#231f20" stroke="#231f20" stroke-width="0.22" textLength="21.6" lengthAdjust="spacingAndGlyphs">CT 60</text>
<text x="22.10" y="514.74" font-size="8.0" text-anchor="end" font-weight="normal" font-style="normal" fill="#231f20" stroke="#231f20" stroke-width="0.22" textLength="21.6" lengthAdjust="spacingAndGlyphs">CT 56</text>
<text x="22.10" y="528.37" font-size="8.0" text-anchor="end" font-weight="normal" font-style="normal" fill="#231f20" stroke="#231f20" stroke-width="0.22" textLength="21.6" lengthAdjust="spacingAndGlyphs">CT 52</text>
<text x="22.10" y="542.00" font-size="8.0" text-anchor="end" font-weight="normal" font-style="normal" fill="#231f20" stroke="#231f20" stroke-width="0.22" textLength="21.6" lengthAdjust="spacingAndGlyphs">CT 48</text>
<text x="22.10" y="555.63" font-size="8.0" text-anchor="end" font-weight="normal" font-style="normal" fill="#231f20" stroke="#231f20" stroke-width="0.22" textLength="21.6" lengthAdjust="spacingAndGlyphs">CT 44</text>
<text x="22.10" y="569.26" font-size="8.0" text-anchor="end" font-weight="normal" font-style="normal" fill="#231f20" stroke="#231f20" stroke-width="0.22" textLength="21.6" lengthAdjust="spacingAndGlyphs">CT 40</text>
<text x="22.10" y="582.89" font-size="8.0" text-anchor="end" font-weight="normal" font-style="normal" fill="#231f20" stroke="#231f20" stroke-width="0.22" textLength="21.6" lengthAdjust="spacingAndGlyphs">CT 36</text>
<text x="22.10" y="596.52" font-size="8.0" text-anchor="end" font-weight="normal" font-style="normal" fill="#231f20" stroke="#231f20" stroke-width="0.22" textLength="21.6" lengthAdjust="spacingAndGlyphs">CT 32</text>
<text x="22.10" y="610.15" font-size="8.0" text-anchor="end" font-weight="normal" font-style="normal" fill="#231f20" stroke="#231f20" stroke-width="0.22" textLength="21.6" lengthAdjust="spacingAndGlyphs">CT 28</text>
<text x="22.10" y="623.78" font-size="8.0" text-anchor="end" font-weight="normal" font-style="normal" fill="#231f20" stroke="#231f20" stroke-width="0.22" textLength="21.6" lengthAdjust="spacingAndGlyphs">CT 24</text>
<text x="34.49" y="631.49" font-size="8.0" text-anchor="end" font-weight="normal" font-style="normal" fill="#231f20" stroke="#231f20" stroke-width="0.22" transform="rotate(-90 34.49 631.49)">CT 24</text>
<text x="48.11" y="631.49" font-size="8.0" text-anchor="end" font-weight="normal" font-style="normal" fill="#231f20" stroke="#231f20" stroke-width="0.22" transform="rotate(-90 48.11 631.49)">CT 28</text>
<text x="61.73" y="631.49" font-size="8.0" text-anchor="end" font-weight="normal" font-style="normal" fill="#231f20" stroke="#231f20" stroke-width="0.22" transform="rotate(-90 61.73 631.49)">CT 32</text>
<text x="75.35" y="631.49" font-size="8.0" text-anchor="end" font-weight="normal" font-style="normal" fill="#231f20" stroke="#231f20" stroke-width="0.22" transform="rotate(-90 75.35 631.49)">CT 36</text>
<text x="88.97" y="631.49" font-size="8.0" text-anchor="end" font-weight="normal" font-style="normal" fill="#231f20" stroke="#231f20" stroke-width="0.22" transform="rotate(-90 88.97 631.49)">CT 40</text>
<text x="102.59" y="631.49" font-size="8.0" text-anchor="end" font-weight="normal" font-style="normal" fill="#231f20" stroke="#231f20" stroke-width="0.22" transform="rotate(-90 102.59 631.49)">CT 44</text>
<text x="116.21" y="631.49" font-size="8.0" text-anchor="end" font-weight="normal" font-style="normal" fill="#231f20" stroke="#231f20" stroke-width="0.22" transform="rotate(-90 116.21 631.49)">CT 48</text>
<text x="129.83" y="631.49" font-size="8.0" text-anchor="end" font-weight="normal" font-style="normal" fill="#231f20" stroke="#231f20" stroke-width="0.22" transform="rotate(-90 129.83 631.49)">CT 52</text>
<text x="143.45" y="631.49" font-size="8.0" text-anchor="end" font-weight="normal" font-style="normal" fill="#231f20" stroke="#231f20" stroke-width="0.22" transform="rotate(-90 143.45 631.49)">CT 56</text>
<text x="157.07" y="631.49" font-size="8.0" text-anchor="end" font-weight="normal" font-style="normal" fill="#231f20" stroke="#231f20" stroke-width="0.22" transform="rotate(-90 157.07 631.49)">CT 60</text>
<text x="170.69" y="631.49" font-size="8.0" text-anchor="end" font-weight="normal" font-style="normal" fill="#231f20" stroke="#231f20" stroke-width="0.22" transform="rotate(-90 170.69 631.49)">CT 64</text>
<text x="184.31" y="631.49" font-size="8.0" text-anchor="end" font-weight="normal" font-style="normal" fill="#231f20" stroke="#231f20" stroke-width="0.22" transform="rotate(-90 184.31 631.49)">CT 68</text>
<text x="197.93" y="631.49" font-size="8.0" text-anchor="end" font-weight="normal" font-style="normal" fill="#231f20" stroke="#231f20" stroke-width="0.22" transform="rotate(-90 197.93 631.49)">CT 72</text>
<defs><linearGradient id="gc" x1="0" y1="0" x2="0" y2="1"><stop offset="0.000" stop-color="#34286a"/><stop offset="0.125" stop-color="#54278f"/><stop offset="0.250" stop-color="#6a51a3"/><stop offset="0.375" stop-color="#807dba"/><stop offset="0.500" stop-color="#9e9ac8"/><stop offset="0.625" stop-color="#bcbddc"/><stop offset="0.750" stop-color="#dadaeb"/><stop offset="0.875" stop-color="#efedf5"/><stop offset="1.000" stop-color="#fcfbfd"/></linearGradient></defs>
<rect x="211.2" y="514.3" width="12.4" height="64.3" fill="url(#gc)"/>
<line x1="211.2" y1="565.74" x2="213.39999999999998" y2="565.74" stroke="#fff" stroke-width="0.8"/>
<line x1="221.4" y1="565.74" x2="223.6" y2="565.74" stroke="#fff" stroke-width="0.8"/>
<text x="227.00" y="568.04" font-size="6.4" text-anchor="start" font-weight="normal" font-style="normal" fill="#231f20" stroke="#231f20" stroke-width="0.22" >0.2</text>
<line x1="211.2" y1="552.88" x2="213.39999999999998" y2="552.88" stroke="#fff" stroke-width="0.8"/>
<line x1="221.4" y1="552.88" x2="223.6" y2="552.88" stroke="#fff" stroke-width="0.8"/>
<text x="227.00" y="555.18" font-size="6.4" text-anchor="start" font-weight="normal" font-style="normal" fill="#231f20" stroke="#231f20" stroke-width="0.22" >0.4</text>
<line x1="211.2" y1="540.02" x2="213.39999999999998" y2="540.02" stroke="#fff" stroke-width="0.8"/>
<line x1="221.4" y1="540.02" x2="223.6" y2="540.02" stroke="#fff" stroke-width="0.8"/>
<text x="227.00" y="542.32" font-size="6.4" text-anchor="start" font-weight="normal" font-style="normal" fill="#231f20" stroke="#231f20" stroke-width="0.22" >0.6</text>
<line x1="211.2" y1="527.16" x2="213.39999999999998" y2="527.16" stroke="#fff" stroke-width="0.8"/>
<line x1="221.4" y1="527.16" x2="223.6" y2="527.16" stroke="#fff" stroke-width="0.8"/>
<text x="227.00" y="529.46" font-size="6.4" text-anchor="start" font-weight="normal" font-style="normal" fill="#231f20" stroke="#231f20" stroke-width="0.22" >0.8</text>
<text x="211.50" y="510.40" font-size="6.8" text-anchor="start" font-weight="bold" font-style="normal" fill="#231f20" stroke="#231f20" stroke-width="0.22" >Alignment score</text>
<text x="256.80" y="187.80" font-size="10" text-anchor="start" font-weight="bold" font-style="normal" fill="#231f20" stroke="#231f20" stroke-width="0.22" textLength="7.03" lengthAdjust="spacingAndGlyphs">d</text>
<text x="453.30" y="187.80" font-size="10" text-anchor="start" font-weight="bold" font-style="normal" fill="#231f20" stroke="#231f20" stroke-width="0.22" textLength="6.39" lengthAdjust="spacingAndGlyphs">e</text>
<rect x="294.1" y="202.2" width="124.4" height="9.5" fill="#fff"/>
<rect x="356.3" y="202.2" width="62.19999999999999" height="9.5" fill="#1269b0"/>
<rect x="294.1" y="202.2" width="124.4" height="9.5" fill="none" stroke="#1a1a1a" stroke-width="1.05"/>
<line x1="356.3" y1="202.2" x2="356.3" y2="211.7" stroke="#231f20" stroke-width="0.9"/>
<text x="357.20" y="222.30" font-size="6.9" text-anchor="middle" font-weight="normal" font-style="normal" fill="#231f20" stroke="#231f20" stroke-width="0.22" >CT (Hour)</text>
<rect x="294.10" y="233.00" width="11.35" height="16.40" fill="#15336a"/>
<rect x="304.45" y="233.00" width="11.35" height="16.40" fill="#113d7a"/>
<rect x="314.80" y="233.00" width="11.35" height="16.40" fill="#2773b4"/>
<rect x="325.15" y="233.00" width="11.35" height="16.40" fill="#6baed6"/>
<rect x="335.50" y="233.00" width="11.35" height="16.40" fill="#c6dbef"/>
<rect x="345.85" y="233.00" width="11.35" height="16.40" fill="#e7f1fa"/>
<rect x="356.20" y="233.00" width="11.35" height="16.40" fill="#f1f7fd"/>
<rect x="366.55" y="233.00" width="11.35" height="16.40" fill="#d9e8f5"/>
<rect x="376.90" y="233.00" width="11.35" height="16.40" fill="#c0d8ed"/>
<rect x="387.25" y="233.00" width="11.35" height="16.40" fill="#5ba3d0"/>
<rect x="397.60" y="233.00" width="11.35" height="16.40" fill="#1f69ae"/>
<rect x="407.95" y="233.00" width="10.35" height="16.40" fill="#0a4a90"/>
<text x="291.60" y="244.60" font-size="6.8" text-anchor="end" font-weight="normal" font-style="italic" fill="#231f20" stroke="#231f20" stroke-width="0.22" >CCA1</text>
<rect x="294.10" y="250.83" width="11.35" height="16.40" fill="#15336a"/>
<rect x="304.45" y="250.83" width="11.35" height="16.40" fill="#0e5198"/>
<rect x="314.80" y="250.83" width="11.35" height="16.40" fill="#5ba3d0"/>
<rect x="325.15" y="250.83" width="11.35" height="16.40" fill="#c0d8ed"/>
<rect x="335.50" y="250.83" width="11.35" height="16.40" fill="#d3e4f3"/>
<rect x="345.85" y="250.83" width="11.35" height="16.40" fill="#f1f7fd"/>
<rect x="356.20" y="250.83" width="11.35" height="16.40" fill="#ebf3fb"/>
<rect x="366.55" y="250.83" width="11.35" height="16.40" fill="#c6dbef"/>
<rect x="376.90" y="250.83" width="11.35" height="16.40" fill="#5ba3d0"/>
<rect x="387.25" y="250.83" width="11.35" height="16.40" fill="#2773b4"/>
<rect x="397.60" y="250.83" width="11.35" height="16.40" fill="#0a4a90"/>
<rect x="407.95" y="250.83" width="10.35" height="16.40" fill="#0a4a90"/>
<text x="291.60" y="262.43" font-size="6.8" text-anchor="end" font-weight="normal" font-style="italic" fill="#231f20" stroke="#231f20" stroke-width="0.22" >LHY</text>
<rect x="294.10" y="268.66" width="11.35" height="16.40" fill="#15336a"/>
<rect x="304.45" y="268.66" width="11.35" height="16.40" fill="#0e5198"/>
<rect x="314.80" y="268.66" width="11.35" height="16.40" fill="#1f69ae"/>
<rect x="325.15" y="268.66" width="11.35" height="16.40" fill="#94c4df"/>
<rect x="335.50" y="268.66" width="11.35" height="16.40" fill="#ccdff1"/>
<rect x="345.85" y="268.66" width="11.35" height="16.40" fill="#f3f8fe"/>
<rect x="356.20" y="268.66" width="11.35" height="16.40" fill="#c6dbef"/>
<rect x="366.55" y="268.66" width="11.35" height="16.40" fill="#9cc9e1"/>
<rect x="376.90" y="268.66" width="11.35" height="16.40" fill="#3380bb"/>
<rect x="387.25" y="268.66" width="11.35" height="16.40" fill="#0e5198"/>
<rect x="397.60" y="268.66" width="11.35" height="16.40" fill="#113d7a"/>
<rect x="407.95" y="268.66" width="10.35" height="16.40" fill="#0a4a90"/>
<text x="291.60" y="280.26" font-size="6.8" text-anchor="end" font-weight="normal" font-style="italic" fill="#231f20" stroke="#231f20" stroke-width="0.22" >RVE4</text>
<rect x="294.10" y="286.49" width="11.35" height="16.40" fill="#15336a"/>
<rect x="304.45" y="286.49" width="11.35" height="16.40" fill="#0e5198"/>
<rect x="314.80" y="286.49" width="11.35" height="16.40" fill="#3b8ac1"/>
<rect x="325.15" y="286.49" width="11.35" height="16.40" fill="#a0cbe2"/>
<rect x="335.50" y="286.49" width="11.35" height="16.40" fill="#d3e4f3"/>
<rect x="345.85" y="286.49" width="11.35" height="16.40" fill="#f1f7fd"/>
<rect x="356.20" y="286.49" width="11.35" height="16.40" fill="#ddeaf7"/>
<rect x="366.55" y="286.49" width="11.35" height="16.40" fill="#94c4df"/>
<rect x="376.90" y="286.49" width="11.35" height="16.40" fill="#3380bb"/>
<rect x="387.25" y="286.49" width="11.35" height="16.40" fill="#2773b4"/>
<rect x="397.60" y="286.49" width="11.35" height="16.40" fill="#15336a"/>
<rect x="407.95" y="286.49" width="10.35" height="16.40" fill="#0a4a90"/>
<text x="291.60" y="298.09" font-size="6.8" text-anchor="end" font-weight="normal" font-style="italic" fill="#231f20" stroke="#231f20" stroke-width="0.22" >RVE8</text>
<rect x="294.10" y="304.32" width="11.35" height="16.40" fill="#3b8ac1"/>
<rect x="304.45" y="304.32" width="11.35" height="16.40" fill="#6baed6"/>
<rect x="314.80" y="304.32" width="11.35" height="16.40" fill="#3b8ac1"/>
<rect x="325.15" y="304.32" width="11.35" height="16.40" fill="#d0e1f2"/>
<rect x="335.50" y="304.32" width="11.35" height="16.40" fill="#4a98c9"/>
<rect x="345.85" y="304.32" width="11.35" height="16.40" fill="#c6dbef"/>
<rect x="356.20" y="304.32" width="11.35" height="16.40" fill="#8cc0dd"/>
<rect x="366.55" y="304.32" width="11.35" height="16.40" fill="#f3f8fe"/>
<rect x="376.90" y="304.32" width="11.35" height="16.40" fill="#3b8ac1"/>
<rect x="387.25" y="304.32" width="11.35" height="16.40" fill="#5ba3d0"/>
<rect x="397.60" y="304.32" width="11.35" height="16.40" fill="#15336a"/>
<rect x="407.95" y="304.32" width="10.35" height="16.40" fill="#6baed6"/>
<text x="291.60" y="315.92" font-size="6.8" text-anchor="end" font-weight="normal" font-style="italic" fill="#231f20" stroke="#231f20" stroke-width="0.22" >RVE6</text>
<rect x="294.10" y="322.15" width="11.35" height="16.40" fill="#0e4284"/>
<rect x="304.45" y="322.15" width="11.35" height="16.40" fill="#15336a"/>
<rect x="314.80" y="322.15" width="11.35" height="16.40" fill="#113d7a"/>
<rect x="325.15" y="322.15" width="11.35" height="16.40" fill="#1a62a7"/>
<rect x="335.50" y="322.15" width="11.35" height="16.40" fill="#2773b4"/>
<rect x="345.85" y="322.15" width="11.35" height="16.40" fill="#8cc0dd"/>
<rect x="356.20" y="322.15" width="11.35" height="16.40" fill="#c6dbef"/>
<rect x="366.55" y="322.15" width="11.35" height="16.40" fill="#f1f7fd"/>
<rect x="376.90" y="322.15" width="11.35" height="16.40" fill="#ccdff1"/>
<rect x="387.25" y="322.15" width="11.35" height="16.40" fill="#c6dbef"/>
<rect x="397.60" y="322.15" width="11.35" height="16.40" fill="#5ba3d0"/>
<rect x="407.95" y="322.15" width="10.35" height="16.40" fill="#13589e"/>
<text x="291.60" y="333.75" font-size="6.8" text-anchor="end" font-weight="normal" font-style="italic" fill="#231f20" stroke="#231f20" stroke-width="0.22" >LNK1</text>
<rect x="294.10" y="339.98" width="11.35" height="16.40" fill="#15336a"/>
<rect x="304.45" y="339.98" width="11.35" height="16.40" fill="#15336a"/>
<rect x="314.80" y="339.98" width="11.35" height="16.40" fill="#0e5198"/>
<rect x="325.15" y="339.98" width="11.35" height="16.40" fill="#3b8ac1"/>
<rect x="335.50" y="339.98" width="11.35" height="16.40" fill="#7fb9da"/>
<rect x="345.85" y="339.98" width="11.35" height="16.40" fill="#d9e8f5"/>
<rect x="356.20" y="339.98" width="11.35" height="16.40" fill="#f1f7fd"/>
<rect x="366.55" y="339.98" width="11.35" height="16.40" fill="#e3eef9"/>
<rect x="376.90" y="339.98" width="11.35" height="16.40" fill="#d3e4f3"/>
<rect x="387.25" y="339.98" width="11.35" height="16.40" fill="#8cc0dd"/>
<rect x="397.60" y="339.98" width="11.35" height="16.40" fill="#4493c7"/>
<rect x="407.95" y="339.98" width="10.35" height="16.40" fill="#13589e"/>
<text x="291.60" y="351.58" font-size="6.8" text-anchor="end" font-weight="normal" font-style="italic" fill="#231f20" stroke="#231f20" stroke-width="0.22" >LNK2</text>
<rect x="294.10" y="357.81" width="11.35" height="16.40" fill="#2d79b8"/>
<rect x="304.45" y="357.81" width="11.35" height="16.40" fill="#0f4080"/>
<rect x="314.80" y="357.81" width="11.35" height="16.40" fill="#15336a"/>
<rect x="325.15" y="357.81" width="11.35" height="16.40" fill="#113d7a"/>
<rect x="335.50" y="357.81" width="11.35" height="16.40" fill="#5ba3d0"/>
<rect x="345.85" y="357.81" width="11.35" height="16.40" fill="#9cc9e1"/>
<rect x="356.20" y="357.81" width="11.35" height="16.40" fill="#f1f7fd"/>
<rect x="366.55" y="357.81" width="11.35" height="16.40" fill="#eff6fc"/>
<rect x="376.90" y="357.81" width="11.35" height="16.40" fill="#f1f7fd"/>
<rect x="387.25" y="357.81" width="11.35" height="16.40" fill="#e3eef9"/>
<rect x="397.60" y="357.81" width="11.35" height="16.40" fill="#d9e8f5"/>
<rect x="407.95" y="357.81" width="10.35" height="16.40" fill="#5ba3d0"/>
<text x="291.60" y="369.41" font-size="6.8" text-anchor="end" font-weight="normal" font-style="italic" fill="#231f20" stroke="#231f20" stroke-width="0.22" >PRR9</text>
<rect x="294.10" y="375.64" width="11.35" height="16.40" fill="#6baed6"/>
<rect x="304.45" y="375.64" width="11.35" height="16.40" fill="#1f69ae"/>
<rect x="314.80" y="375.64" width="11.35" height="16.40" fill="#0a4a90"/>
<rect x="325.15" y="375.64" width="11.35" height="16.40" fill="#15336a"/>
<rect x="335.50" y="375.64" width="11.35" height="16.40" fill="#13589e"/>
<rect x="345.85" y="375.64" width="11.35" height="16.40" fill="#4493c7"/>
<rect x="356.20" y="375.64" width="11.35" height="16.40" fill="#b6d4e9"/>
<rect x="366.55" y="375.64" width="11.35" height="16.40" fill="#edf5fc"/>
<rect x="376.90" y="375.64" width="11.35" height="16.40" fill="#f1f7fd"/>
<rect x="387.25" y="375.64" width="11.35" height="16.40" fill="#e7f1fa"/>
<rect x="397.60" y="375.64" width="11.35" height="16.40" fill="#e3eef9"/>
<rect x="407.95" y="375.64" width="10.35" height="16.40" fill="#77b5d9"/>
<text x="291.60" y="387.24" font-size="6.8" text-anchor="end" font-weight="normal" font-style="italic" fill="#231f20" stroke="#231f20" stroke-width="0.22" >PRR7</text>
<rect x="294.10" y="393.47" width="11.35" height="16.40" fill="#f1f7fd"/>
<rect x="304.45" y="393.47" width="11.35" height="16.40" fill="#dfecf7"/>
<rect x="314.80" y="393.47" width="11.35" height="16.40" fill="#b6d4e9"/>
<rect x="325.15" y="393.47" width="11.35" height="16.40" fill="#15336a"/>
<rect x="335.50" y="393.47" width="11.35" height="16.40" fill="#15336a"/>
<rect x="345.85" y="393.47" width="11.35" height="16.40" fill="#113d7a"/>
<rect x="356.20" y="393.47" width="11.35" height="16.40" fill="#6baed6"/>
<rect x="366.55" y="393.47" width="11.35" height="16.40" fill="#5ba3d0"/>
<rect x="376.90" y="393.47" width="11.35" height="16.40" fill="#7fb9da"/>
<rect x="387.25" y="393.47" width="11.35" height="16.40" fill="#8cc0dd"/>
<rect x="397.60" y="393.47" width="11.35" height="16.40" fill="#d3e4f3"/>
<rect x="407.95" y="393.47" width="10.35" height="16.40" fill="#ccdff1"/>
<text x="291.60" y="405.07" font-size="6.8" text-anchor="end" font-weight="normal" font-style="italic" fill="#231f20" stroke="#231f20" stroke-width="0.22" >PRR5</text>
<rect x="294.10" y="411.30" width="11.35" height="16.40" fill="#f1f7fd"/>
<rect x="304.45" y="411.30" width="11.35" height="16.40" fill="#dfecf7"/>
<rect x="314.80" y="411.30" width="11.35" height="16.40" fill="#b6d4e9"/>
<rect x="325.15" y="411.30" width="11.35" height="16.40" fill="#1f69ae"/>
<rect x="335.50" y="411.30" width="11.35" height="16.40" fill="#113d7a"/>
<rect x="345.85" y="411.30" width="11.35" height="16.40" fill="#15336a"/>
<rect x="356.20" y="411.30" width="11.35" height="16.40" fill="#0e5198"/>
<rect x="366.55" y="411.30" width="11.35" height="16.40" fill="#3380bb"/>
<rect x="376.90" y="411.30" width="11.35" height="16.40" fill="#4a98c9"/>
<rect x="387.25" y="411.30" width="11.35" height="16.40" fill="#4a98c9"/>
<rect x="397.60" y="411.30" width="11.35" height="16.40" fill="#a6cde4"/>
<rect x="407.95" y="411.30" width="10.35" height="16.40" fill="#dfecf7"/>
<text x="291.60" y="422.90" font-size="6.8" text-anchor="end" font-weight="normal" font-style="italic" fill="#231f20" stroke="#231f20" stroke-width="0.22" >PRR3</text>
<rect x="294.10" y="429.13" width="11.35" height="16.40" fill="#e3eef9"/>
<rect x="304.45" y="429.13" width="11.35" height="16.40" fill="#eff6fc"/>
<rect x="314.80" y="429.13" width="11.35" height="16.40" fill="#ccdff1"/>
<rect x="325.15" y="429.13" width="11.35" height="16.40" fill="#5ba3d0"/>
<rect x="335.50" y="429.13" width="11.35" height="16.40" fill="#15336a"/>
<rect x="345.85" y="429.13" width="11.35" height="16.40" fill="#0e4284"/>
<rect x="356.20" y="429.13" width="11.35" height="16.40" fill="#15336a"/>
<rect x="366.55" y="429.13" width="11.35" height="16.40" fill="#0a4a90"/>
<rect x="376.90" y="429.13" width="11.35" height="16.40" fill="#1f69ae"/>
<rect x="387.25" y="429.13" width="11.35" height="16.40" fill="#9cc9e1"/>
<rect x="397.60" y="429.13" width="11.35" height="16.40" fill="#94c4df"/>
<rect x="407.95" y="429.13" width="10.35" height="16.40" fill="#dfecf7"/>
<text x="291.60" y="440.73" font-size="6.8" text-anchor="end" font-weight="normal" font-style="italic" fill="#231f20" stroke="#231f20" stroke-width="0.22" >TOC1</text>
<rect x="294.10" y="446.96" width="11.35" height="16.40" fill="#bcd7ec"/>
<rect x="304.45" y="446.96" width="11.35" height="16.40" fill="#b6d4e9"/>
<rect x="314.80" y="446.96" width="11.35" height="16.40" fill="#3b8ac1"/>
<rect x="325.15" y="446.96" width="11.35" height="16.40" fill="#2773b4"/>
<rect x="335.50" y="446.96" width="11.35" height="16.40" fill="#15336a"/>
<rect x="345.85" y="446.96" width="11.35" height="16.40" fill="#4493c7"/>
<rect x="356.20" y="446.96" width="11.35" height="16.40" fill="#5ba3d0"/>
<rect x="366.55" y="446.96" width="11.35" height="16.40" fill="#f1f7fd"/>
<rect x="376.90" y="446.96" width="11.35" height="16.40" fill="#acd0e6"/>
<rect x="387.25" y="446.96" width="11.35" height="16.40" fill="#e3eef9"/>
<rect x="397.60" y="446.96" width="11.35" height="16.40" fill="#bcd7ec"/>
<rect x="407.95" y="446.96" width="10.35" height="16.40" fill="#ebf3fb"/>
<text x="291.60" y="458.56" font-size="6.8" text-anchor="end" font-weight="normal" font-style="italic" fill="#231f20" stroke="#231f20" stroke-width="0.22" >GI</text>
<rect x="294.10" y="464.79" width="11.35" height="16.40" fill="#d3e4f3"/>
<rect x="304.45" y="464.79" width="11.35" height="16.40" fill="#edf5fc"/>
<rect x="314.80" y="464.79" width="11.35" height="16.40" fill="#f1f7fd"/>
<rect x="325.15" y="464.79" width="11.35" height="16.40" fill="#519ccc"/>
<rect x="335.50" y="464.79" width="11.35" height="16.40" fill="#2773b4"/>
<rect x="345.85" y="464.79" width="11.35" height="16.40" fill="#15336a"/>
<rect x="356.20" y="464.79" width="11.35" height="16.40" fill="#519ccc"/>
<rect x="366.55" y="464.79" width="11.35" height="16.40" fill="#bcd7ec"/>
<rect x="376.90" y="464.79" width="11.35" height="16.40" fill="#8cc0dd"/>
<rect x="387.25" y="464.79" width="11.35" height="16.40" fill="#5ba3d0"/>
<rect x="397.60" y="464.79" width="11.35" height="16.40" fill="#a6cde4"/>
<rect x="407.95" y="464.79" width="10.35" height="16.40" fill="#d0e1f2"/>
<text x="291.60" y="476.39" font-size="6.8" text-anchor="end" font-weight="normal" font-style="italic" fill="#231f20" stroke="#231f20" stroke-width="0.22" >LUX</text>
<rect x="294.10" y="482.62" width="11.35" height="16.40" fill="#f1f7fd"/>
<rect x="304.45" y="482.62" width="11.35" height="16.40" fill="#e3eef9"/>
<rect x="314.80" y="482.62" width="11.35" height="16.40" fill="#ddeaf7"/>
<rect x="325.15" y="482.62" width="11.35" height="16.40" fill="#6baed6"/>
<rect x="335.50" y="482.62" width="11.35" height="16.40" fill="#175da3"/>
<rect x="345.85" y="482.62" width="11.35" height="16.40" fill="#15336a"/>
<rect x="356.20" y="482.62" width="11.35" height="16.40" fill="#133770"/>
<rect x="366.55" y="482.62" width="11.35" height="16.40" fill="#2773b4"/>
<rect x="376.90" y="482.62" width="11.35" height="16.40" fill="#3380bb"/>
<rect x="387.25" y="482.62" width="11.35" height="16.40" fill="#4a98c9"/>
<rect x="397.60" y="482.62" width="11.35" height="16.40" fill="#5ba3d0"/>
<rect x="407.95" y="482.62" width="10.35" height="16.40" fill="#e3eef9"/>
<text x="291.60" y="494.22" font-size="6.8" text-anchor="end" font-weight="normal" font-style="italic" fill="#231f20" stroke="#231f20" stroke-width="0.22" >ELF4</text>
<rect x="294.10" y="500.45" width="11.35" height="16.40" fill="#e7f1fa"/>
<rect x="304.45" y="500.45" width="11.35" height="16.40" fill="#f1f7fd"/>
<rect x="314.80" y="500.45" width="11.35" height="16.40" fill="#d0e1f2"/>
<rect x="325.15" y="500.45" width="11.35" height="16.40" fill="#6baed6"/>
<rect x="335.50" y="500.45" width="11.35" height="16.40" fill="#4a98c9"/>
<rect x="345.85" y="500.45" width="11.35" height="16.40" fill="#2773b4"/>
<rect x="356.20" y="500.45" width="11.35" height="16.40" fill="#15336a"/>
<rect x="366.55" y="500.45" width="11.35" height="16.40" fill="#3b8ac1"/>
<rect x="376.90" y="500.45" width="11.35" height="16.40" fill="#1f69ae"/>
<rect x="387.25" y="500.45" width="11.35" height="16.40" fill="#1a62a7"/>
<rect x="397.60" y="500.45" width="11.35" height="16.40" fill="#d0e1f2"/>
<rect x="407.95" y="500.45" width="10.35" height="16.40" fill="#edf5fc"/>
<text x="291.60" y="512.05" font-size="6.8" text-anchor="end" font-weight="normal" font-style="italic" fill="#231f20" stroke="#231f20" stroke-width="0.22" >ELF3</text>
<rect x="294.10" y="518.28" width="11.35" height="16.40" fill="#3b8ac1"/>
<rect x="304.45" y="518.28" width="11.35" height="16.40" fill="#519ccc"/>
<rect x="314.80" y="518.28" width="11.35" height="16.40" fill="#4a98c9"/>
<rect x="325.15" y="518.28" width="11.35" height="16.40" fill="#4493c7"/>
<rect x="335.50" y="518.28" width="11.35" height="16.40" fill="#a6cde4"/>
<rect x="345.85" y="518.28" width="11.35" height="16.40" fill="#3380bb"/>
<rect x="356.20" y="518.28" width="11.35" height="16.40" fill="#9cc9e1"/>
<rect x="366.55" y="518.28" width="11.35" height="16.40" fill="#f3f8fe"/>
<rect x="376.90" y="518.28" width="11.35" height="16.40" fill="#8cc0dd"/>
<rect x="387.25" y="518.28" width="11.35" height="16.40" fill="#15336a"/>
<rect x="397.60" y="518.28" width="11.35" height="16.40" fill="#6baed6"/>
<rect x="407.95" y="518.28" width="10.35" height="16.40" fill="#1f69ae"/>
<text x="291.60" y="529.88" font-size="6.8" text-anchor="end" font-weight="normal" font-style="italic" fill="#231f20" stroke="#231f20" stroke-width="0.22" >ZTL</text>
<text x="299.28" y="230.60" font-size="6.6" text-anchor="middle" font-weight="normal" font-style="normal" fill="#231f20" stroke="#231f20" stroke-width="0.22" >24</text>
<text x="309.63" y="230.60" font-size="6.6" text-anchor="middle" font-weight="normal" font-style="normal" fill="#231f20" stroke="#231f20" stroke-width="0.22" >26</text>
<text x="319.98" y="230.60" font-size="6.6" text-anchor="middle" font-weight="normal" font-style="normal" fill="#231f20" stroke="#231f20" stroke-width="0.22" >28</text>
<text x="330.33" y="230.60" font-size="6.6" text-anchor="middle" font-weight="normal" font-style="normal" fill="#231f20" stroke="#231f20" stroke-width="0.22" >30</text>
<text x="340.68" y="230.60" font-size="6.6" text-anchor="middle" font-weight="normal" font-style="normal" fill="#231f20" stroke="#231f20" stroke-width="0.22" >32</text>
<text x="351.03" y="230.60" font-size="6.6" text-anchor="middle" font-weight="normal" font-style="normal" fill="#231f20" stroke="#231f20" stroke-width="0.22" >34</text>
<text x="361.38" y="230.60" font-size="6.6" text-anchor="middle" font-weight="normal" font-style="normal" fill="#231f20" stroke="#231f20" stroke-width="0.22" >36</text>
<text x="371.73" y="230.60" font-size="6.6" text-anchor="middle" font-weight="normal" font-style="normal" fill="#231f20" stroke="#231f20" stroke-width="0.22" >38</text>
<text x="382.08" y="230.60" font-size="6.6" text-anchor="middle" font-weight="normal" font-style="normal" fill="#231f20" stroke="#231f20" stroke-width="0.22" >40</text>
<text x="392.43" y="230.60" font-size="6.6" text-anchor="middle" font-weight="normal" font-style="normal" fill="#231f20" stroke="#231f20" stroke-width="0.22" >42</text>
<text x="402.78" y="230.60" font-size="6.6" text-anchor="middle" font-weight="normal" font-style="normal" fill="#231f20" stroke="#231f20" stroke-width="0.22" >44</text>
<text x="413.13" y="230.60" font-size="6.6" text-anchor="middle" font-weight="normal" font-style="normal" fill="#231f20" stroke="#231f20" stroke-width="0.22" >46</text>
<defs><linearGradient id="gd" x1="0" y1="0" x2="0" y2="1"><stop offset="0.000" stop-color="#15336a"/><stop offset="0.125" stop-color="#0a4b92"/><stop offset="0.250" stop-color="#1f69ae"/><stop offset="0.375" stop-color="#4292c6"/><stop offset="0.500" stop-color="#6baed6"/><stop offset="0.625" stop-color="#9ecae1"/><stop offset="0.750" stop-color="#c6dbef"/><stop offset="0.875" stop-color="#deebf7"/><stop offset="1.000" stop-color="#f7fbff"/></linearGradient></defs>
<rect x="429.1" y="364.0" width="10.3" height="52.0" fill="url(#gd)"/>
<line x1="429.1" y1="405.60" x2="431.3" y2="405.60" stroke="#fff" stroke-width="0.8"/>
<line x1="437.20000000000005" y1="405.60" x2="439.40000000000003" y2="405.60" stroke="#fff" stroke-width="0.8"/>
<text x="442.10" y="408.01" font-size="6.7" text-anchor="start" font-weight="normal" font-style="normal" fill="#231f20" stroke="#231f20" stroke-width="0.22" >0.2</text>
<line x1="429.1" y1="395.20" x2="431.3" y2="395.20" stroke="#fff" stroke-width="0.8"/>
<line x1="437.20000000000005" y1="395.20" x2="439.40000000000003" y2="395.20" stroke="#fff" stroke-width="0.8"/>
<text x="442.10" y="397.61" font-size="6.7" text-anchor="start" font-weight="normal" font-style="normal" fill="#231f20" stroke="#231f20" stroke-width="0.22" >0.4</text>
<line x1="429.1" y1="384.80" x2="431.3" y2="384.80" stroke="#fff" stroke-width="0.8"/>
<line x1="437.20000000000005" y1="384.80" x2="439.40000000000003" y2="384.80" stroke="#fff" stroke-width="0.8"/>
<text x="442.10" y="387.21" font-size="6.7" text-anchor="start" font-weight="normal" font-style="normal" fill="#231f20" stroke="#231f20" stroke-width="0.22" >0.6</text>
<line x1="429.1" y1="374.40" x2="431.3" y2="374.40" stroke="#fff" stroke-width="0.8"/>
<line x1="437.20000000000005" y1="374.40" x2="439.40000000000003" y2="374.40" stroke="#fff" stroke-width="0.8"/>
<text x="442.10" y="376.81" font-size="6.7" text-anchor="start" font-weight="normal" font-style="normal" fill="#231f20" stroke="#231f20" stroke-width="0.22" >0.8</text>
<text x="423.90" y="353.40" font-size="6.7" text-anchor="start" font-weight="bold" font-style="normal" fill="#231f20" stroke="#231f20" stroke-width="0.22" >Min-max scaled</text>
<text x="423.90" y="360.20" font-size="6.7" text-anchor="start" font-weight="bold" font-style="normal" fill="#231f20" stroke="#231f20" stroke-width="0.22" >log2 CPM</text>
<rect x="499.2" y="202.2" width="124.7" height="9.5" fill="#fff"/>
<rect x="530.4" y="202.2" width="31.2" height="9.5" fill="#6a3290"/>
<rect x="592.7" y="202.2" width="31.2" height="9.5" fill="#6a3290"/>
<rect x="499.2" y="202.2" width="124.7" height="9.5" fill="none" stroke="#231f20" stroke-width="0.9"/>
<line x1="530.4" y1="202.2" x2="530.4" y2="211.7" stroke="#231f20" stroke-width="0.9"/>
<line x1="561.6" y1="202.2" x2="561.6" y2="211.7" stroke="#231f20" stroke-width="0.9"/>
<line x1="592.7" y1="202.2" x2="592.7" y2="211.7" stroke="#231f20" stroke-width="0.9"/>
<text x="563.40" y="222.30" font-size="6.9" text-anchor="middle" font-weight="normal" font-style="normal" fill="#231f20" stroke="#231f20" stroke-width="0.22" >CT (Hour)</text>
<rect x="499.20" y="233.00" width="10.59" height="16.40" fill="#34286a"/>
<rect x="508.79" y="233.00" width="10.59" height="16.40" fill="#61409b"/>
<rect x="518.38" y="233.00" width="10.59" height="16.40" fill="#dadaeb"/>
<rect x="527.98" y="233.00" width="10.59" height="16.40" fill="#fcfbfd"/>
<rect x="537.57" y="233.00" width="10.59" height="16.40" fill="#e2e2ef"/>
<rect x="547.16" y="233.00" width="10.59" height="16.40" fill="#61409b"/>
<rect x="556.75" y="233.00" width="10.59" height="16.40" fill="#34286a"/>
<rect x="566.35" y="233.00" width="10.59" height="16.40" fill="#53278e"/>
<rect x="575.94" y="233.00" width="10.59" height="16.40" fill="#c2c3df"/>
<rect x="585.53" y="233.00" width="10.59" height="16.40" fill="#f0eef5"/>
<rect x="595.12" y="233.00" width="10.59" height="16.40" fill="#cecee5"/>
<rect x="604.72" y="233.00" width="10.59" height="16.40" fill="#766ab0"/>
<rect x="614.31" y="233.00" width="9.59" height="16.40" fill="#4e2788"/>
<text x="496.60" y="244.60" font-size="6.8" text-anchor="end" font-weight="normal" font-style="italic" fill="#231f20" stroke="#231f20" stroke-width="0.22" >CCA1</text>
<rect x="499.20" y="250.83" width="10.59" height="16.40" fill="#34286a"/>
<rect x="508.79" y="250.83" width="10.59" height="16.40" fill="#766ab0"/>
<rect x="518.38" y="250.83" width="10.59" height="16.40" fill="#f0eef5"/>
<rect x="527.98" y="250.83" width="10.59" height="16.40" fill="#fcfbfd"/>
<rect x="537.57" y="250.83" width="10.59" height="16.40" fill="#aaa8d0"/>
<rect x="547.16" y="250.83" width="10.59" height="16.40" fill="#4e2788"/>
<rect x="556.75" y="250.83" width="10.59" height="16.40" fill="#412879"/>
<rect x="566.35" y="250.83" width="10.59" height="16.40" fill="#6a51a3"/>
<rect x="575.94" y="250.83" width="10.59" height="16.40" fill="#dfdfed"/>
<rect x="585.53" y="250.83" width="10.59" height="16.40" fill="#e6e5f1"/>
<rect x="595.12" y="250.83" width="10.59" height="16.40" fill="#aaa8d0"/>
<rect x="604.72" y="250.83" width="10.59" height="16.40" fill="#6a51a3"/>
<rect x="614.31" y="250.83" width="9.59" height="16.40" fill="#3c2873"/>
<text x="496.60" y="262.43" font-size="6.8" text-anchor="end" font-weight="normal" font-style="italic" fill="#231f20" stroke="#231f20" stroke-width="0.22" >LHY</text>
<rect x="499.20" y="268.66" width="10.59" height="16.40" fill="#6f5ca9"/>
<rect x="508.79" y="268.66" width="10.59" height="16.40" fill="#928ec2"/>
<rect x="518.38" y="268.66" width="10.59" height="16.40" fill="#f0eef5"/>
<rect x="527.98" y="268.66" width="10.59" height="16.40" fill="#f9f8fb"/>
<rect x="537.57" y="268.66" width="10.59" height="16.40" fill="#a3a0cb"/>
<rect x="547.16" y="268.66" width="10.59" height="16.40" fill="#65479e"/>
<rect x="556.75" y="268.66" width="10.59" height="16.40" fill="#34286a"/>
<rect x="566.35" y="268.66" width="10.59" height="16.40" fill="#7c74b5"/>
<rect x="575.94" y="268.66" width="10.59" height="16.40" fill="#f6f4f9"/>
<rect x="585.53" y="268.66" width="10.59" height="16.40" fill="#fbfafc"/>
<rect x="595.12" y="268.66" width="10.59" height="16.40" fill="#a3a0cb"/>
<rect x="604.72" y="268.66" width="10.59" height="16.40" fill="#6a51a3"/>
<rect x="614.31" y="268.66" width="9.59" height="16.40" fill="#6a51a3"/>
<text x="496.60" y="280.26" font-size="6.8" text-anchor="end" font-weight="normal" font-style="italic" fill="#231f20" stroke="#231f20" stroke-width="0.22" >RVE4</text>
<rect x="499.20" y="286.49" width="10.59" height="16.40" fill="#34286a"/>
<rect x="508.79" y="286.49" width="10.59" height="16.40" fill="#7363ac"/>
<rect x="518.38" y="286.49" width="10.59" height="16.40" fill="#f2f0f7"/>
<rect x="527.98" y="286.49" width="10.59" height="16.40" fill="#fcfbfd"/>
<rect x="537.57" y="286.49" width="10.59" height="16.40" fill="#7c74b5"/>
<rect x="547.16" y="286.49" width="10.59" height="16.40" fill="#34286a"/>
<rect x="556.75" y="286.49" width="10.59" height="16.40" fill="#34286a"/>
<rect x="566.35" y="286.49" width="10.59" height="16.40" fill="#61409b"/>
<rect x="575.94" y="286.49" width="10.59" height="16.40" fill="#c9cae3"/>
<rect x="585.53" y="286.49" width="10.59" height="16.40" fill="#cecee5"/>
<rect x="595.12" y="286.49" width="10.59" height="16.40" fill="#817ebb"/>
<rect x="604.72" y="286.49" width="10.59" height="16.40" fill="#4e2788"/>
<rect x="614.31" y="286.49" width="9.59" height="16.40" fill="#392870"/>
<text x="496.60" y="298.09" font-size="6.8" text-anchor="end" font-weight="normal" font-style="italic" fill="#231f20" stroke="#231f20" stroke-width="0.22" >RVE8</text>
<rect x="499.20" y="304.32" width="10.59" height="16.40" fill="#bbbcdb"/>
<rect x="508.79" y="304.32" width="10.59" height="16.40" fill="#bbbcdb"/>
<rect x="518.38" y="304.32" width="10.59" height="16.40" fill="#f7f5fa"/>
<rect x="527.98" y="304.32" width="10.59" height="16.40" fill="#fcfbfd"/>
<rect x="537.57" y="304.32" width="10.59" height="16.40" fill="#bbbcdb"/>
<rect x="547.16" y="304.32" width="10.59" height="16.40" fill="#928ec2"/>
<rect x="556.75" y="304.32" width="10.59" height="16.40" fill="#f7f5fa"/>
<rect x="566.35" y="304.32" width="10.59" height="16.40" fill="#b6b6d8"/>
<rect x="575.94" y="304.32" width="10.59" height="16.40" fill="#a3a0cb"/>
<rect x="585.53" y="304.32" width="10.59" height="16.40" fill="#53278e"/>
<rect x="595.12" y="304.32" width="10.59" height="16.40" fill="#9e9ac8"/>
<rect x="604.72" y="304.32" width="10.59" height="16.40" fill="#8b87bf"/>
<rect x="614.31" y="304.32" width="9.59" height="16.40" fill="#34286a"/>
<text x="496.60" y="315.92" font-size="6.8" text-anchor="end" font-weight="normal" font-style="italic" fill="#231f20" stroke="#231f20" stroke-width="0.22" >RVE6</text>
<rect x="499.20" y="322.15" width="10.59" height="16.40" fill="#4e2788"/>
<rect x="508.79" y="322.15" width="10.59" height="16.40" fill="#34286a"/>
<rect x="518.38" y="322.15" width="10.59" height="16.40" fill="#7c74b5"/>
<rect x="527.98" y="322.15" width="10.59" height="16.40" fill="#ebe9f3"/>
<rect x="537.57" y="322.15" width="10.59" height="16.40" fill="#fcfbfd"/>
<rect x="547.16" y="322.15" width="10.59" height="16.40" fill="#c2c3df"/>
<rect x="556.75" y="322.15" width="10.59" height="16.40" fill="#34286a"/>
<rect x="566.35" y="322.15" width="10.59" height="16.40" fill="#34286a"/>
<rect x="575.94" y="322.15" width="10.59" height="16.40" fill="#766ab0"/>
<rect x="585.53" y="322.15" width="10.59" height="16.40" fill="#b1b0d5"/>
<rect x="595.12" y="322.15" width="10.59" height="16.40" fill="#cecee5"/>
<rect x="604.72" y="322.15" width="10.59" height="16.40" fill="#a3a0cb"/>
<rect x="614.31" y="322.15" width="9.59" height="16.40" fill="#53278e"/>
<text x="496.60" y="333.75" font-size="6.8" text-anchor="end" font-weight="normal" font-style="italic" fill="#231f20" stroke="#231f20" stroke-width="0.22" >LNK1</text>
<rect x="499.20" y="339.98" width="10.59" height="16.40" fill="#4e2788"/>
<rect x="508.79" y="339.98" width="10.59" height="16.40" fill="#34286a"/>
<rect x="518.38" y="339.98" width="10.59" height="16.40" fill="#9e9ac8"/>
<rect x="527.98" y="339.98" width="10.59" height="16.40" fill="#faf9fc"/>
<rect x="537.57" y="339.98" width="10.59" height="16.40" fill="#f6f4f9"/>
<rect x="547.16" y="339.98" width="10.59" height="16.40" fill="#928ec2"/>
<rect x="556.75" y="339.98" width="10.59" height="16.40" fill="#3c2873"/>
<rect x="566.35" y="339.98" width="10.59" height="16.40" fill="#34286a"/>
<rect x="575.94" y="339.98" width="10.59" height="16.40" fill="#8683bd"/>
<rect x="585.53" y="339.98" width="10.59" height="16.40" fill="#d3d3e7"/>
<rect x="595.12" y="339.98" width="10.59" height="16.40" fill="#ebe9f3"/>
<rect x="604.72" y="339.98" width="10.59" height="16.40" fill="#9e9ac8"/>
<rect x="614.31" y="339.98" width="9.59" height="16.40" fill="#53278e"/>
<text x="496.60" y="351.58" font-size="6.8" text-anchor="end" font-weight="normal" font-style="italic" fill="#231f20" stroke="#231f20" stroke-width="0.22" >LNK2</text>
<rect x="499.20" y="357.81" width="10.59" height="16.40" fill="#dadaeb"/>
<rect x="508.79" y="357.81" width="10.59" height="16.40" fill="#582f93"/>
<rect x="518.38" y="357.81" width="10.59" height="16.40" fill="#a3a0cb"/>
<rect x="527.98" y="357.81" width="10.59" height="16.40" fill="#faf9fc"/>
<rect x="537.57" y="357.81" width="10.59" height="16.40" fill="#faf9fc"/>
<rect x="547.16" y="357.81" width="10.59" height="16.40" fill="#faf9fc"/>
<rect x="556.75" y="357.81" width="10.59" height="16.40" fill="#7c74b5"/>
<rect x="566.35" y="357.81" width="10.59" height="16.40" fill="#34286a"/>
<rect x="575.94" y="357.81" width="10.59" height="16.40" fill="#7c74b5"/>
<rect x="585.53" y="357.81" width="10.59" height="16.40" fill="#e6e5f1"/>
<rect x="595.12" y="357.81" width="10.59" height="16.40" fill="#e6e5f1"/>
<rect x="604.72" y="357.81" width="10.59" height="16.40" fill="#e6e5f1"/>
<rect x="614.31" y="357.81" width="9.59" height="16.40" fill="#9e9ac8"/>
<text x="496.60" y="369.41" font-size="6.8" text-anchor="end" font-weight="normal" font-style="italic" fill="#231f20" stroke="#231f20" stroke-width="0.22" >PRR9</text>
<rect x="499.20" y="375.64" width="10.59" height="16.40" fill="#bbbcdb"/>
<rect x="508.79" y="375.64" width="10.59" height="16.40" fill="#4e2788"/>
<rect x="518.38" y="375.64" width="10.59" height="16.40" fill="#34286a"/>
<rect x="527.98" y="375.64" width="10.59" height="16.40" fill="#a3a0cb"/>
<rect x="537.57" y="375.64" width="10.59" height="16.40" fill="#fcfbfd"/>
<rect x="547.16" y="375.64" width="10.59" height="16.40" fill="#f4f2f8"/>
<rect x="556.75" y="375.64" width="10.59" height="16.40" fill="#8683bd"/>
<rect x="566.35" y="375.64" width="10.59" height="16.40" fill="#412879"/>
<rect x="575.94" y="375.64" width="10.59" height="16.40" fill="#34286a"/>
<rect x="585.53" y="375.64" width="10.59" height="16.40" fill="#8b87bf"/>
<rect x="595.12" y="375.64" width="10.59" height="16.40" fill="#cecee5"/>
<rect x="604.72" y="375.64" width="10.59" height="16.40" fill="#ebe9f3"/>
<rect x="614.31" y="375.64" width="9.59" height="16.40" fill="#9995c6"/>
<text x="496.60" y="387.24" font-size="6.8" text-anchor="end" font-weight="normal" font-style="italic" fill="#231f20" stroke="#231f20" stroke-width="0.22" >PRR7</text>
<rect x="499.20" y="393.47" width="10.59" height="16.40" fill="#fcfbfd"/>
<rect x="508.79" y="393.47" width="10.59" height="16.40" fill="#dadaeb"/>
<rect x="518.38" y="393.47" width="10.59" height="16.40" fill="#34286a"/>
<rect x="527.98" y="393.47" width="10.59" height="16.40" fill="#8683bd"/>
<rect x="537.57" y="393.47" width="10.59" height="16.40" fill="#b6b6d8"/>
<rect x="547.16" y="393.47" width="10.59" height="16.40" fill="#dadaeb"/>
<rect x="556.75" y="393.47" width="10.59" height="16.40" fill="#f0eef5"/>
<rect x="566.35" y="393.47" width="10.59" height="16.40" fill="#8683bd"/>
<rect x="575.94" y="393.47" width="10.59" height="16.40" fill="#3c2873"/>
<rect x="585.53" y="393.47" width="10.59" height="16.40" fill="#6f5ca9"/>
<rect x="595.12" y="393.47" width="10.59" height="16.40" fill="#8b87bf"/>
<rect x="604.72" y="393.47" width="10.59" height="16.40" fill="#aaa8d0"/>
<rect x="614.31" y="393.47" width="9.59" height="16.40" fill="#9e9ac8"/>
<text x="496.60" y="405.07" font-size="6.8" text-anchor="end" font-weight="normal" font-style="italic" fill="#231f20" stroke="#231f20" stroke-width="0.22" >PRR5</text>
<rect x="499.20" y="411.30" width="10.59" height="16.40" fill="#fcfbfd"/>
<rect x="508.79" y="411.30" width="10.59" height="16.40" fill="#f6f4f9"/>
<rect x="518.38" y="411.30" width="10.59" height="16.40" fill="#4e2788"/>
<rect x="527.98" y="411.30" width="10.59" height="16.40" fill="#34286a"/>
<rect x="537.57" y="411.30" width="10.59" height="16.40" fill="#766ab0"/>
<rect x="547.16" y="411.30" width="10.59" height="16.40" fill="#bbbcdb"/>
<rect x="556.75" y="411.30" width="10.59" height="16.40" fill="#f4f2f8"/>
<rect x="566.35" y="411.30" width="10.59" height="16.40" fill="#c9cae3"/>
<rect x="575.94" y="411.30" width="10.59" height="16.40" fill="#34286a"/>
<rect x="585.53" y="411.30" width="10.59" height="16.40" fill="#34286a"/>
<rect x="595.12" y="411.30" width="10.59" height="16.40" fill="#8683bd"/>
<rect x="604.72" y="411.30" width="10.59" height="16.40" fill="#aaa8d0"/>
<rect x="614.31" y="411.30" width="9.59" height="16.40" fill="#dfdfed"/>
<text x="496.60" y="422.90" font-size="6.8" text-anchor="end" font-weight="normal" font-style="italic" fill="#231f20" stroke="#231f20" stroke-width="0.22" >PRR3</text>
<rect x="499.20" y="429.13" width="10.59" height="16.40" fill="#fcfbfd"/>
<rect x="508.79" y="429.13" width="10.59" height="16.40" fill="#f2f0f7"/>
<rect x="518.38" y="429.13" width="10.59" height="16.40" fill="#766ab0"/>
<rect x="527.98" y="429.13" width="10.59" height="16.40" fill="#4e2788"/>
<rect x="537.57" y="429.13" width="10.59" height="16.40" fill="#7363ac"/>
<rect x="547.16" y="429.13" width="10.59" height="16.40" fill="#b1b0d5"/>
<rect x="556.75" y="429.13" width="10.59" height="16.40" fill="#f4f2f8"/>
<rect x="566.35" y="429.13" width="10.59" height="16.40" fill="#bbbcdb"/>
<rect x="575.94" y="429.13" width="10.59" height="16.40" fill="#53278e"/>
<rect x="585.53" y="429.13" width="10.59" height="16.40" fill="#34286a"/>
<rect x="595.12" y="429.13" width="10.59" height="16.40" fill="#7363ac"/>
<rect x="604.72" y="429.13" width="10.59" height="16.40" fill="#a3a0cb"/>
<rect x="614.31" y="429.13" width="9.59" height="16.40" fill="#aaa8d0"/>
<text x="496.60" y="440.73" font-size="6.8" text-anchor="end" font-weight="normal" font-style="italic" fill="#231f20" stroke="#231f20" stroke-width="0.22" >TOC1</text>
<rect x="499.20" y="446.96" width="10.59" height="16.40" fill="#fcfbfd"/>
<rect x="508.79" y="446.96" width="10.59" height="16.40" fill="#8b87bf"/>
<rect x="518.38" y="446.96" width="10.59" height="16.40" fill="#34286a"/>
<rect x="527.98" y="446.96" width="10.59" height="16.40" fill="#6f5ca9"/>
<rect x="537.57" y="446.96" width="10.59" height="16.40" fill="#e6e5f1"/>
<rect x="547.16" y="446.96" width="10.59" height="16.40" fill="#ebe9f3"/>
<rect x="556.75" y="446.96" width="10.59" height="16.40" fill="#e2e2ef"/>
<rect x="566.35" y="446.96" width="10.59" height="16.40" fill="#61409b"/>
<rect x="575.94" y="446.96" width="10.59" height="16.40" fill="#412879"/>
<rect x="585.53" y="446.96" width="10.59" height="16.40" fill="#412879"/>
<rect x="595.12" y="446.96" width="10.59" height="16.40" fill="#6f5ca9"/>
<rect x="604.72" y="446.96" width="10.59" height="16.40" fill="#b1b0d5"/>
<rect x="614.31" y="446.96" width="9.59" height="16.40" fill="#766ab0"/>
<text x="496.60" y="458.56" font-size="6.8" text-anchor="end" font-weight="normal" font-style="italic" fill="#231f20" stroke="#231f20" stroke-width="0.22" >GI</text>
<rect x="499.20" y="464.79" width="10.59" height="16.40" fill="#f2f0f7"/>
<rect x="508.79" y="464.79" width="10.59" height="16.40" fill="#fcfbfd"/>
<rect x="518.38" y="464.79" width="10.59" height="16.40" fill="#412879"/>
<rect x="527.98" y="464.79" width="10.59" height="16.40" fill="#482782"/>
<rect x="537.57" y="464.79" width="10.59" height="16.40" fill="#8683bd"/>
<rect x="547.16" y="464.79" width="10.59" height="16.40" fill="#aaa8d0"/>
<rect x="556.75" y="464.79" width="10.59" height="16.40" fill="#f7f5fa"/>
<rect x="566.35" y="464.79" width="10.59" height="16.40" fill="#dfdfed"/>
<rect x="575.94" y="464.79" width="10.59" height="16.40" fill="#34286a"/>
<rect x="585.53" y="464.79" width="10.59" height="16.40" fill="#582f93"/>
<rect x="595.12" y="464.79" width="10.59" height="16.40" fill="#4e2788"/>
<rect x="604.72" y="464.79" width="10.59" height="16.40" fill="#817ebb"/>
<rect x="614.31" y="464.79" width="9.59" height="16.40" fill="#8b87bf"/>
<text x="496.60" y="476.39" font-size="6.8" text-anchor="end" font-weight="normal" font-style="italic" fill="#231f20" stroke="#231f20" stroke-width="0.22" >LUX</text>
<rect x="499.20" y="482.62" width="10.59" height="16.40" fill="#fcfbfd"/>
<rect x="508.79" y="482.62" width="10.59" height="16.40" fill="#f9f8fb"/>
<rect x="518.38" y="482.62" width="10.59" height="16.40" fill="#817ebb"/>
<rect x="527.98" y="482.62" width="10.59" height="16.40" fill="#412879"/>
<rect x="537.57" y="482.62" width="10.59" height="16.40" fill="#6f5ca9"/>
<rect x="547.16" y="482.62" width="10.59" height="16.40" fill="#9e9ac8"/>
<rect x="556.75" y="482.62" width="10.59" height="16.40" fill="#cecee5"/>
<rect x="566.35" y="482.62" width="10.59" height="16.40" fill="#aaa8d0"/>
<rect x="575.94" y="482.62" width="10.59" height="16.40" fill="#53278e"/>
<rect x="585.53" y="482.62" width="10.59" height="16.40" fill="#482782"/>
<rect x="595.12" y="482.62" width="10.59" height="16.40" fill="#34286a"/>
<rect x="604.72" y="482.62" width="10.59" height="16.40" fill="#6a51a3"/>
<rect x="614.31" y="482.62" width="9.59" height="16.40" fill="#482782"/>
<text x="496.60" y="494.22" font-size="6.8" text-anchor="end" font-weight="normal" font-style="italic" fill="#231f20" stroke="#231f20" stroke-width="0.22" >ELF4</text>
<rect x="499.20" y="500.45" width="10.59" height="16.40" fill="#fcfbfd"/>
<rect x="508.79" y="500.45" width="10.59" height="16.40" fill="#f2f0f7"/>
<rect x="518.38" y="500.45" width="10.59" height="16.40" fill="#928ec2"/>
<rect x="527.98" y="500.45" width="10.59" height="16.40" fill="#582f93"/>
<rect x="537.57" y="500.45" width="10.59" height="16.40" fill="#582f93"/>
<rect x="547.16" y="500.45" width="10.59" height="16.40" fill="#928ec2"/>
<rect x="556.75" y="500.45" width="10.59" height="16.40" fill="#f2f0f7"/>
<rect x="566.35" y="500.45" width="10.59" height="16.40" fill="#9e9ac8"/>
<rect x="575.94" y="500.45" width="10.59" height="16.40" fill="#65479e"/>
<rect x="585.53" y="500.45" width="10.59" height="16.40" fill="#34286a"/>
<rect x="595.12" y="500.45" width="10.59" height="16.40" fill="#5e3998"/>
<rect x="604.72" y="500.45" width="10.59" height="16.40" fill="#7c74b5"/>
<rect x="614.31" y="500.45" width="9.59" height="16.40" fill="#928ec2"/>
<text x="496.60" y="512.05" font-size="6.8" text-anchor="end" font-weight="normal" font-style="italic" fill="#231f20" stroke="#231f20" stroke-width="0.22" >ELF3</text>
<rect x="499.20" y="518.28" width="10.59" height="16.40" fill="#fcfbfd"/>
<rect x="508.79" y="518.28" width="10.59" height="16.40" fill="#cecee5"/>
<rect x="518.38" y="518.28" width="10.59" height="16.40" fill="#f0eef5"/>
<rect x="527.98" y="518.28" width="10.59" height="16.40" fill="#faf9fc"/>
<rect x="537.57" y="518.28" width="10.59" height="16.40" fill="#f0eef5"/>
<rect x="547.16" y="518.28" width="10.59" height="16.40" fill="#b1b0d5"/>
<rect x="556.75" y="518.28" width="10.59" height="16.40" fill="#b1b0d5"/>
<rect x="566.35" y="518.28" width="10.59" height="16.40" fill="#817ebb"/>
<rect x="575.94" y="518.28" width="10.59" height="16.40" fill="#c2c3df"/>
<rect x="585.53" y="518.28" width="10.59" height="16.40" fill="#65479e"/>
<rect x="595.12" y="518.28" width="10.59" height="16.40" fill="#ebe9f3"/>
<rect x="604.72" y="518.28" width="10.59" height="16.40" fill="#f7f5fa"/>
<rect x="614.31" y="518.28" width="9.59" height="16.40" fill="#34286a"/>
<text x="496.60" y="529.88" font-size="6.8" text-anchor="end" font-weight="normal" font-style="italic" fill="#231f20" stroke="#231f20" stroke-width="0.22" >ZTL</text>
<text x="504.90" y="230.60" font-size="6.6" text-anchor="middle" font-weight="normal" font-style="normal" fill="#231f20" stroke="#231f20" stroke-width="0.22" >24</text>
<text x="514.49" y="230.60" font-size="6.6" text-anchor="middle" font-weight="normal" font-style="normal" fill="#231f20" stroke="#231f20" stroke-width="0.22" >28</text>
<text x="524.08" y="230.60" font-size="6.6" text-anchor="middle" font-weight="normal" font-style="normal" fill="#231f20" stroke="#231f20" stroke-width="0.22" >32</text>
<text x="533.67" y="230.60" font-size="6.6" text-anchor="middle" font-weight="normal" font-style="normal" fill="#231f20" stroke="#231f20" stroke-width="0.22" >36</text>
<text x="543.27" y="230.60" font-size="6.6" text-anchor="middle" font-weight="normal" font-style="normal" fill="#231f20" stroke="#231f20" stroke-width="0.22" >40</text>
<text x="552.86" y="230.60" font-size="6.6" text-anchor="middle" font-weight="normal" font-style="normal" fill="#231f20" stroke="#231f20" stroke-width="0.22" >44</text>
<text x="562.45" y="230.60" font-size="6.6" text-anchor="middle" font-weight="normal" font-style="normal" fill="#231f20" stroke="#231f20" stroke-width="0.22" >48</text>
<text x="572.04" y="230.60" font-size="6.6" text-anchor="middle" font-weight="normal" font-style="normal" fill="#231f20" stroke="#231f20" stroke-width="0.22" >52</text>
<text x="581.63" y="230.60" font-size="6.6" text-anchor="middle" font-weight="normal" font-style="normal" fill="#231f20" stroke="#231f20" stroke-width="0.22" >56</text>
<text x="591.23" y="230.60" font-size="6.6" text-anchor="middle" font-weight="normal" font-style="normal" fill="#231f20" stroke="#231f20" stroke-width="0.22" >60</text>
<text x="600.82" y="230.60" font-size="6.6" text-anchor="middle" font-weight="normal" font-style="normal" fill="#231f20" stroke="#231f20" stroke-width="0.22" >64</text>
<text x="610.41" y="230.60" font-size="6.6" text-anchor="middle" font-weight="normal" font-style="normal" fill="#231f20" stroke="#231f20" stroke-width="0.22" >68</text>
<text x="620.00" y="230.60" font-size="6.6" text-anchor="middle" font-weight="normal" font-style="normal" fill="#231f20" stroke="#231f20" stroke-width="0.22" >72</text>
<defs><linearGradient id="ge" x1="0" y1="0" x2="0" y2="1"><stop offset="0.000" stop-color="#34286a"/><stop offset="0.125" stop-color="#54278f"/><stop offset="0.250" stop-color="#6a51a3"/><stop offset="0.375" stop-color="#807dba"/><stop offset="0.500" stop-color="#9e9ac8"/><stop offset="0.625" stop-color="#bcbddc"/><stop offset="0.750" stop-color="#dadaeb"/><stop offset="0.875" stop-color="#efedf5"/><stop offset="1.000" stop-color="#fcfbfd"/></linearGradient></defs>
<rect x="634.3" y="363.6" width="10.8" height="52.4" fill="url(#ge)"/>
<line x1="634.3" y1="405.52" x2="636.5" y2="405.52" stroke="#fff" stroke-width="0.8"/>
<line x1="642.8999999999999" y1="405.52" x2="645.0999999999999" y2="405.52" stroke="#fff" stroke-width="0.8"/>
<text x="648.00" y="407.97" font-size="6.8" text-anchor="start" font-weight="normal" font-style="normal" fill="#231f20" stroke="#231f20" stroke-width="0.22" >0.2</text>
<line x1="634.3" y1="395.04" x2="636.5" y2="395.04" stroke="#fff" stroke-width="0.8"/>
<line x1="642.8999999999999" y1="395.04" x2="645.0999999999999" y2="395.04" stroke="#fff" stroke-width="0.8"/>
<text x="648.00" y="397.49" font-size="6.8" text-anchor="start" font-weight="normal" font-style="normal" fill="#231f20" stroke="#231f20" stroke-width="0.22" >0.4</text>
<line x1="634.3" y1="384.56" x2="636.5" y2="384.56" stroke="#fff" stroke-width="0.8"/>
<line x1="642.8999999999999" y1="384.56" x2="645.0999999999999" y2="384.56" stroke="#fff" stroke-width="0.8"/>
<text x="648.00" y="387.01" font-size="6.8" text-anchor="start" font-weight="normal" font-style="normal" fill="#231f20" stroke="#231f20" stroke-width="0.22" >0.6</text>
<line x1="634.3" y1="374.08" x2="636.5" y2="374.08" stroke="#fff" stroke-width="0.8"/>
<line x1="642.8999999999999" y1="374.08" x2="645.0999999999999" y2="374.08" stroke="#fff" stroke-width="0.8"/>
<text x="648.00" y="376.53" font-size="6.8" text-anchor="start" font-weight="normal" font-style="normal" fill="#231f20" stroke="#231f20" stroke-width="0.22" >0.8</text>
<text x="635.00" y="353.30" font-size="6.7" text-anchor="start" font-weight="bold" font-style="normal" fill="#231f20" stroke="#231f20" stroke-width="0.22" >Min-max scaled</text>
<text x="635.00" y="360.10" font-size="6.7" text-anchor="start" font-weight="bold" font-style="normal" fill="#231f20" stroke="#231f20" stroke-width="0.22" >log2 CPM</text>
<text x="259.20" y="557.90" font-size="10" text-anchor="start" font-weight="bold" font-style="normal" fill="#231f20" stroke="#231f20" stroke-width="0.22" textLength="3.83" lengthAdjust="spacingAndGlyphs">f</text>
<text x="455.50" y="557.90" font-size="10" text-anchor="start" font-weight="bold" font-style="normal" fill="#231f20" stroke="#231f20" stroke-width="0.22" textLength="7.03" lengthAdjust="spacingAndGlyphs">g</text>
<rect x="277.2" y="572.3" width="154.5" height="74.90000000000009" fill="none" stroke="#5a5a5a" stroke-width="1.1"/>
<line x1="274.2" y1="636.5" x2="277.2" y2="636.5" stroke="#888" stroke-width="0.8"/>
<text x="273.60" y="638.95" font-size="6.8" text-anchor="end" font-weight="normal" font-style="normal" fill="#231f20" stroke="#231f20" stroke-width="0.08" >4</text>
<line x1="274.2" y1="612.3" x2="277.2" y2="612.3" stroke="#888" stroke-width="0.8"/>
<text x="273.60" y="614.75" font-size="6.8" text-anchor="end" font-weight="normal" font-style="normal" fill="#231f20" stroke="#231f20" stroke-width="0.08" >6</text>
<line x1="274.2" y1="588.3" x2="277.2" y2="588.3" stroke="#888" stroke-width="0.8"/>
<text x="273.60" y="590.75" font-size="6.8" text-anchor="end" font-weight="normal" font-style="normal" fill="#231f20" stroke="#231f20" stroke-width="0.08" >8</text>
<line x1="431.7" y1="577.6" x2="434.7" y2="577.6" stroke="#888" stroke-width="0.8"/>
<text x="435.70" y="580.05" font-size="6.8" text-anchor="start" font-weight="normal" font-style="normal" fill="#231f20" stroke="#231f20" stroke-width="0.08" >8.0</text>
<line x1="431.7" y1="591.9" x2="434.7" y2="591.9" stroke="#888" stroke-width="0.8"/>
<text x="435.70" y="594.35" font-size="6.8" text-anchor="start" font-weight="normal" font-style="normal" fill="#231f20" stroke="#231f20" stroke-width="0.08" >7.5</text>
<line x1="431.7" y1="606.3" x2="434.7" y2="606.3" stroke="#888" stroke-width="0.8"/>
<text x="435.70" y="608.75" font-size="6.8" text-anchor="start" font-weight="normal" font-style="normal" fill="#231f20" stroke="#231f20" stroke-width="0.08" >7.0</text>
<line x1="431.7" y1="620.7" x2="434.7" y2="620.7" stroke="#888" stroke-width="0.8"/>
<text x="435.70" y="623.15" font-size="6.8" text-anchor="start" font-weight="normal" font-style="normal" fill="#231f20" stroke="#231f20" stroke-width="0.08" >6.5</text>
<line x1="431.7" y1="635.1" x2="434.7" y2="635.1" stroke="#888" stroke-width="0.8"/>
<text x="435.70" y="637.55" font-size="6.8" text-anchor="start" font-weight="normal" font-style="normal" fill="#231f20" stroke="#231f20" stroke-width="0.08" >6.0</text>
<line x1="283.5" y1="647.2" x2="283.5" y2="650.2" stroke="#888" stroke-width="0.8"/>
<text x="283.50" y="656.40" font-size="7.0" text-anchor="middle" font-weight="normal" font-style="normal" fill="#231f20" stroke="#231f20" stroke-width="0.08" >24</text>
<line x1="296.4" y1="647.2" x2="296.4" y2="650.2" stroke="#888" stroke-width="0.8"/>
<text x="296.40" y="656.40" font-size="7.0" text-anchor="middle" font-weight="normal" font-style="normal" fill="#231f20" stroke="#231f20" stroke-width="0.08" >26</text>
<line x1="309.3" y1="647.2" x2="309.3" y2="650.2" stroke="#888" stroke-width="0.8"/>
<text x="309.30" y="656.40" font-size="7.0" text-anchor="middle" font-weight="normal" font-style="normal" fill="#231f20" stroke="#231f20" stroke-width="0.08" >28</text>
<line x1="322.2" y1="647.2" x2="322.2" y2="650.2" stroke="#888" stroke-width="0.8"/>
<text x="322.20" y="656.40" font-size="7.0" text-anchor="middle" font-weight="normal" font-style="normal" fill="#231f20" stroke="#231f20" stroke-width="0.08" >30</text>
<line x1="335.1" y1="647.2" x2="335.1" y2="650.2" stroke="#888" stroke-width="0.8"/>
<text x="335.10" y="656.40" font-size="7.0" text-anchor="middle" font-weight="normal" font-style="normal" fill="#231f20" stroke="#231f20" stroke-width="0.08" >32</text>
<line x1="348.0" y1="647.2" x2="348.0" y2="650.2" stroke="#888" stroke-width="0.8"/>
<text x="348.00" y="656.40" font-size="7.0" text-anchor="middle" font-weight="normal" font-style="normal" fill="#231f20" stroke="#231f20" stroke-width="0.08" >34</text>
<line x1="360.9" y1="647.2" x2="360.9" y2="650.2" stroke="#888" stroke-width="0.8"/>
<text x="360.90" y="656.40" font-size="7.0" text-anchor="middle" font-weight="normal" font-style="normal" fill="#231f20" stroke="#231f20" stroke-width="0.08" >36</text>
<line x1="373.8" y1="647.2" x2="373.8" y2="650.2" stroke="#888" stroke-width="0.8"/>
<text x="373.80" y="656.40" font-size="7.0" text-anchor="middle" font-weight="normal" font-style="normal" fill="#231f20" stroke="#231f20" stroke-width="0.08" >38</text>
<line x1="386.7" y1="647.2" x2="386.7" y2="650.2" stroke="#888" stroke-width="0.8"/>
<text x="386.70" y="656.40" font-size="7.0" text-anchor="middle" font-weight="normal" font-style="normal" fill="#231f20" stroke="#231f20" stroke-width="0.08" >40</text>
<line x1="399.6" y1="647.2" x2="399.6" y2="650.2" stroke="#888" stroke-width="0.8"/>
<text x="399.60" y="656.40" font-size="7.0" text-anchor="middle" font-weight="normal" font-style="normal" fill="#231f20" stroke="#231f20" stroke-width="0.08" >42</text>
<line x1="412.5" y1="647.2" x2="412.5" y2="650.2" stroke="#888" stroke-width="0.8"/>
<text x="412.50" y="656.40" font-size="7.0" text-anchor="middle" font-weight="normal" font-style="normal" fill="#231f20" stroke="#231f20" stroke-width="0.08" >44</text>
<line x1="425.4" y1="647.2" x2="425.4" y2="650.2" stroke="#888" stroke-width="0.8"/>
<text x="425.40" y="656.40" font-size="7.0" text-anchor="middle" font-weight="normal" font-style="normal" fill="#231f20" stroke="#231f20" stroke-width="0.08" >46</text>
<polyline points="283.5,638.5 296.4,644.0 309.3,629.6 322.2,606.3 335.1,575.6 348.0,580.9 360.9,576.0 373.8,582.3 386.7,591.0 399.6,617.6 412.5,616.2 425.4,637.6" fill="none" stroke="#dd7f4f" stroke-width="1"/>
<circle cx="283.5" cy="638.5" r="1.8" fill="#dd7f4f"/>
<circle cx="296.4" cy="644.0" r="1.8" fill="#dd7f4f"/>
<circle cx="309.3" cy="629.6" r="1.8" fill="#dd7f4f"/>
<circle cx="322.2" cy="606.3" r="1.8" fill="#dd7f4f"/>
<circle cx="335.1" cy="575.6" r="1.8" fill="#dd7f4f"/>
<circle cx="348.0" cy="580.9" r="1.8" fill="#dd7f4f"/>
<circle cx="360.9" cy="576.0" r="1.8" fill="#dd7f4f"/>
<circle cx="373.8" cy="582.3" r="1.8" fill="#dd7f4f"/>
<circle cx="386.7" cy="591.0" r="1.8" fill="#dd7f4f"/>
<circle cx="399.6" cy="617.6" r="1.8" fill="#dd7f4f"/>
<circle cx="412.5" cy="616.2" r="1.8" fill="#dd7f4f"/>
<circle cx="425.4" cy="637.6" r="1.8" fill="#dd7f4f"/>
<polyline points="283.5,575.6 296.4,578.5 309.3,592.7 322.2,611.4 335.1,627.3 348.0,641.8 360.9,643.9 373.8,636.7 386.7,625.8 399.6,606.5 412.5,589.9 425.4,582.3" fill="none" stroke="#4a6fb5" stroke-width="1"/>
<circle cx="283.5" cy="575.6" r="1.8" fill="#4a6fb5"/>
<circle cx="296.4" cy="578.5" r="1.8" fill="#4a6fb5"/>
<circle cx="309.3" cy="592.7" r="1.8" fill="#4a6fb5"/>
<circle cx="322.2" cy="611.4" r="1.8" fill="#4a6fb5"/>
<circle cx="335.1" cy="627.3" r="1.8" fill="#4a6fb5"/>
<circle cx="348.0" cy="641.8" r="1.8" fill="#4a6fb5"/>
<circle cx="360.9" cy="643.9" r="1.8" fill="#4a6fb5"/>
<circle cx="373.8" cy="636.7" r="1.8" fill="#4a6fb5"/>
<circle cx="386.7" cy="625.8" r="1.8" fill="#4a6fb5"/>
<circle cx="399.6" cy="606.5" r="1.8" fill="#4a6fb5"/>
<circle cx="412.5" cy="589.9" r="1.8" fill="#4a6fb5"/>
<circle cx="425.4" cy="582.3" r="1.8" fill="#4a6fb5"/>
<text x="348.40" y="559.10" font-size="7.95" text-anchor="middle" font-weight="normal" font-style="normal" fill="#231f20" stroke="#231f20" stroke-width="0.22" >24-hour dataset</text>
<circle cx="378.0" cy="567.6" r="1.8" fill="#4a6fb5"/>
<line x1="375.0" y1="567.6" x2="381.0" y2="567.6" stroke="#4a6fb5" stroke-width="0.9"/>
<text x="382.60" y="570.00" font-size="6.8" text-anchor="start" font-weight="normal" font-style="normal" fill="#231f20" stroke="#231f20" stroke-width="0.22" >CCA1</text>
<circle cx="405.4" cy="567.6" r="1.8" fill="#dd7f4f"/>
<line x1="402.4" y1="567.6" x2="408.4" y2="567.6" stroke="#dd7f4f" stroke-width="0.9"/>
<text x="410.20" y="570.00" font-size="6.8" text-anchor="start" font-weight="normal" font-style="normal" fill="#231f20" stroke="#231f20" stroke-width="0.22" >TOC1</text>
<rect x="495.4" y="570.4" width="154.20000000000005" height="74.60000000000002" fill="none" stroke="#5a5a5a" stroke-width="1.1"/>
<line x1="492.4" y1="637.5" x2="495.4" y2="637.5" stroke="#888" stroke-width="0.8"/>
<text x="491.80" y="639.95" font-size="6.8" text-anchor="end" font-weight="normal" font-style="normal" fill="#231f20" stroke="#231f20" stroke-width="0.08" >2</text>
<line x1="492.4" y1="622.4" x2="495.4" y2="622.4" stroke="#888" stroke-width="0.8"/>
<text x="491.80" y="624.85" font-size="6.8" text-anchor="end" font-weight="normal" font-style="normal" fill="#231f20" stroke="#231f20" stroke-width="0.08" >3</text>
<line x1="492.4" y1="607.3" x2="495.4" y2="607.3" stroke="#888" stroke-width="0.8"/>
<text x="491.80" y="609.75" font-size="6.8" text-anchor="end" font-weight="normal" font-style="normal" fill="#231f20" stroke="#231f20" stroke-width="0.08" >4</text>
<line x1="492.4" y1="592.3" x2="495.4" y2="592.3" stroke="#888" stroke-width="0.8"/>
<text x="491.80" y="594.75" font-size="6.8" text-anchor="end" font-weight="normal" font-style="normal" fill="#231f20" stroke="#231f20" stroke-width="0.08" >5</text>
<line x1="492.4" y1="577.3" x2="495.4" y2="577.3" stroke="#888" stroke-width="0.8"/>
<text x="491.80" y="579.75" font-size="6.8" text-anchor="end" font-weight="normal" font-style="normal" fill="#231f20" stroke="#231f20" stroke-width="0.08" >6</text>
<line x1="649.6" y1="640.5" x2="652.6" y2="640.5" stroke="#888" stroke-width="0.8"/>
<text x="653.60" y="642.95" font-size="6.8" text-anchor="start" font-weight="normal" font-style="normal" fill="#231f20" stroke="#231f20" stroke-width="0.08" >3</text>
<line x1="649.6" y1="617.8" x2="652.6" y2="617.8" stroke="#888" stroke-width="0.8"/>
<text x="653.60" y="620.25" font-size="6.8" text-anchor="start" font-weight="normal" font-style="normal" fill="#231f20" stroke="#231f20" stroke-width="0.08" >4</text>
<line x1="649.6" y1="594.9" x2="652.6" y2="594.9" stroke="#888" stroke-width="0.8"/>
<text x="653.60" y="597.35" font-size="6.8" text-anchor="start" font-weight="normal" font-style="normal" fill="#231f20" stroke="#231f20" stroke-width="0.08" >5</text>
<line x1="649.6" y1="571.8" x2="652.6" y2="571.8" stroke="#888" stroke-width="0.8"/>
<text x="653.60" y="574.25" font-size="6.8" text-anchor="start" font-weight="normal" font-style="normal" fill="#231f20" stroke="#231f20" stroke-width="0.08" >6</text>
<line x1="500.5" y1="645.0" x2="500.5" y2="648.0" stroke="#888" stroke-width="0.8"/>
<text x="500.50" y="654.20" font-size="7.0" text-anchor="middle" font-weight="normal" font-style="normal" fill="#231f20" stroke="#231f20" stroke-width="0.08" >24</text>
<line x1="512.43" y1="645.0" x2="512.43" y2="648.0" stroke="#888" stroke-width="0.8"/>
<text x="512.43" y="654.20" font-size="7.0" text-anchor="middle" font-weight="normal" font-style="normal" fill="#231f20" stroke="#231f20" stroke-width="0.08" >28</text>
<line x1="524.36" y1="645.0" x2="524.36" y2="648.0" stroke="#888" stroke-width="0.8"/>
<text x="524.36" y="654.20" font-size="7.0" text-anchor="middle" font-weight="normal" font-style="normal" fill="#231f20" stroke="#231f20" stroke-width="0.08" >32</text>
<line x1="536.29" y1="645.0" x2="536.29" y2="648.0" stroke="#888" stroke-width="0.8"/>
<text x="536.29" y="654.20" font-size="7.0" text-anchor="middle" font-weight="normal" font-style="normal" fill="#231f20" stroke="#231f20" stroke-width="0.08" >36</text>
<line x1="548.22" y1="645.0" x2="548.22" y2="648.0" stroke="#888" stroke-width="0.8"/>
<text x="548.22" y="654.20" font-size="7.0" text-anchor="middle" font-weight="normal" font-style="normal" fill="#231f20" stroke="#231f20" stroke-width="0.08" >40</text>
<line x1="560.15" y1="645.0" x2="560.15" y2="648.0" stroke="#888" stroke-width="0.8"/>
<text x="560.15" y="654.20" font-size="7.0" text-anchor="middle" font-weight="normal" font-style="normal" fill="#231f20" stroke="#231f20" stroke-width="0.08" >44</text>
<line x1="572.08" y1="645.0" x2="572.08" y2="648.0" stroke="#888" stroke-width="0.8"/>
<text x="572.08" y="654.20" font-size="7.0" text-anchor="middle" font-weight="normal" font-style="normal" fill="#231f20" stroke="#231f20" stroke-width="0.08" >48</text>
<line x1="584.01" y1="645.0" x2="584.01" y2="648.0" stroke="#888" stroke-width="0.8"/>
<text x="584.01" y="654.20" font-size="7.0" text-anchor="middle" font-weight="normal" font-style="normal" fill="#231f20" stroke="#231f20" stroke-width="0.08" >52</text>
<line x1="595.94" y1="645.0" x2="595.94" y2="648.0" stroke="#888" stroke-width="0.8"/>
<text x="595.94" y="654.20" font-size="7.0" text-anchor="middle" font-weight="normal" font-style="normal" fill="#231f20" stroke="#231f20" stroke-width="0.08" >56</text>
<line x1="607.87" y1="645.0" x2="607.87" y2="648.0" stroke="#888" stroke-width="0.8"/>
<text x="607.87" y="654.20" font-size="7.0" text-anchor="middle" font-weight="normal" font-style="normal" fill="#231f20" stroke="#231f20" stroke-width="0.08" >60</text>
<line x1="619.8" y1="645.0" x2="619.8" y2="648.0" stroke="#888" stroke-width="0.8"/>
<text x="619.80" y="654.20" font-size="7.0" text-anchor="middle" font-weight="normal" font-style="normal" fill="#231f20" stroke="#231f20" stroke-width="0.08" >64</text>
<line x1="631.73" y1="645.0" x2="631.73" y2="648.0" stroke="#888" stroke-width="0.8"/>
<text x="631.73" y="654.20" font-size="7.0" text-anchor="middle" font-weight="normal" font-style="normal" fill="#231f20" stroke="#231f20" stroke-width="0.08" >68</text>
<line x1="643.66" y1="645.0" x2="643.66" y2="648.0" stroke="#888" stroke-width="0.8"/>
<text x="643.66" y="654.20" font-size="7.0" text-anchor="middle" font-weight="normal" font-style="normal" fill="#231f20" stroke="#231f20" stroke-width="0.08" >72</text>
<polyline points="500.5,642.1 512.4,633.2 524.4,594.3 536.3,583.8 548.2,594.7 560.1,613.0 572.1,634.4 584.0,613.8 595.9,584.1 607.9,573.5 619.8,592.5 631.7,605.2 643.7,609.9" fill="none" stroke="#dd7f4f" stroke-width="1"/>
<circle cx="500.5" cy="642.1" r="1.8" fill="#dd7f4f"/>
<circle cx="512.4" cy="633.2" r="1.8" fill="#dd7f4f"/>
<circle cx="524.4" cy="594.3" r="1.8" fill="#dd7f4f"/>
<circle cx="536.3" cy="583.8" r="1.8" fill="#dd7f4f"/>
<circle cx="548.2" cy="594.7" r="1.8" fill="#dd7f4f"/>
<circle cx="560.1" cy="613.0" r="1.8" fill="#dd7f4f"/>
<circle cx="572.1" cy="634.4" r="1.8" fill="#dd7f4f"/>
<circle cx="584.0" cy="613.8" r="1.8" fill="#dd7f4f"/>
<circle cx="595.9" cy="584.1" r="1.8" fill="#dd7f4f"/>
<circle cx="607.9" cy="573.5" r="1.8" fill="#dd7f4f"/>
<circle cx="619.8" cy="592.5" r="1.8" fill="#dd7f4f"/>
<circle cx="631.7" cy="605.2" r="1.8" fill="#dd7f4f"/>
<circle cx="643.7" cy="609.9" r="1.8" fill="#dd7f4f"/>
<polyline points="500.5,573.5 512.4,587.2 524.4,623.3 536.3,642.1 548.2,625.4 560.1,587.8 572.1,574.5 584.0,583.3 595.9,616.8 607.9,629.7 619.8,618.5 631.7,594.6 643.7,580.2" fill="none" stroke="#4a6fb5" stroke-width="1"/>
<circle cx="500.5" cy="573.5" r="1.8" fill="#4a6fb5"/>
<circle cx="512.4" cy="587.2" r="1.8" fill="#4a6fb5"/>
<circle cx="524.4" cy="623.3" r="1.8" fill="#4a6fb5"/>
<circle cx="536.3" cy="642.1" r="1.8" fill="#4a6fb5"/>
<circle cx="548.2" cy="625.4" r="1.8" fill="#4a6fb5"/>
<circle cx="560.1" cy="587.8" r="1.8" fill="#4a6fb5"/>
<circle cx="572.1" cy="574.5" r="1.8" fill="#4a6fb5"/>
<circle cx="584.0" cy="583.3" r="1.8" fill="#4a6fb5"/>
<circle cx="595.9" cy="616.8" r="1.8" fill="#4a6fb5"/>
<circle cx="607.9" cy="629.7" r="1.8" fill="#4a6fb5"/>
<circle cx="619.8" cy="618.5" r="1.8" fill="#4a6fb5"/>
<circle cx="631.7" cy="594.6" r="1.8" fill="#4a6fb5"/>
<circle cx="643.7" cy="580.2" r="1.8" fill="#4a6fb5"/>
<text x="563.90" y="559.20" font-size="7.95" text-anchor="middle" font-weight="normal" font-style="normal" fill="#231f20" stroke="#231f20" stroke-width="0.22" >48-hour dataset</text>
<circle cx="599.2" cy="566.0" r="1.8" fill="#4a6fb5"/>
<line x1="596.2" y1="566.0" x2="602.2" y2="566.0" stroke="#4a6fb5" stroke-width="0.9"/>
<text x="603.80" y="568.40" font-size="6.8" text-anchor="start" font-weight="normal" font-style="normal" fill="#231f20" stroke="#231f20" stroke-width="0.22" >CCA1</text>
<circle cx="627.2" cy="566.0" r="1.8" fill="#dd7f4f"/>
<line x1="624.2" y1="566.0" x2="630.2" y2="566.0" stroke="#dd7f4f" stroke-width="0.9"/>
<text x="632.00" y="568.40" font-size="6.8" text-anchor="start" font-weight="normal" font-style="normal" fill="#231f20" stroke="#231f20" stroke-width="0.22" >TOC1</text>
<text x="259.60" y="608.70" font-size="6.9" text-anchor="middle" fill="#231f20" stroke="#231f20" stroke-width="0.08" transform="rotate(-90 259.60 608.70)">CCA1</text>
<text x="267.30" y="604.80" font-size="6.9" text-anchor="middle" fill="#231f20" stroke="#231f20" stroke-width="0.08" transform="rotate(-90 267.30 604.80)">(log2 CPM)</text>
<text x="456.00" y="609.60" font-size="6.93" text-anchor="middle" fill="#231f20" stroke="#231f20" stroke-width="0.08" transform="rotate(90 456.00 609.60)">TOC1</text>
<text x="449.60" y="607.50" font-size="6.93" text-anchor="middle" fill="#231f20" stroke="#231f20" stroke-width="0.08" transform="rotate(90 449.60 607.50)">(log2 CPM)</text>
<text x="354.50" y="662.20" font-size="7.0" text-anchor="middle" font-weight="normal" font-style="normal" fill="#231f20" stroke="#231f20" stroke-width="0.22" >CT</text>
<text x="479.30" y="606.60" font-size="6.9" text-anchor="middle" fill="#231f20" stroke="#231f20" stroke-width="0.08" transform="rotate(-90 479.30 606.60)">CCA1</text>
<text x="485.50" y="605.40" font-size="6.9" text-anchor="middle" fill="#231f20" stroke="#231f20" stroke-width="0.08" transform="rotate(-90 485.50 605.40)">(log2 CPM)</text>
<text x="666.30" y="609.40" font-size="6.93" text-anchor="middle" fill="#231f20" stroke="#231f20" stroke-width="0.08" transform="rotate(90 666.30 609.40)">TOC1</text>
<text x="660.70" y="607.20" font-size="6.93" text-anchor="middle" fill="#231f20" stroke="#231f20" stroke-width="0.08" transform="rotate(90 660.70 607.20)">(log2 CPM)</text>
<text x="571.80" y="661.80" font-size="7.0" text-anchor="middle" font-weight="normal" font-style="normal" fill="#231f20" stroke="#231f20" stroke-width="0.22" >CT</text>
</svg></body></html>
